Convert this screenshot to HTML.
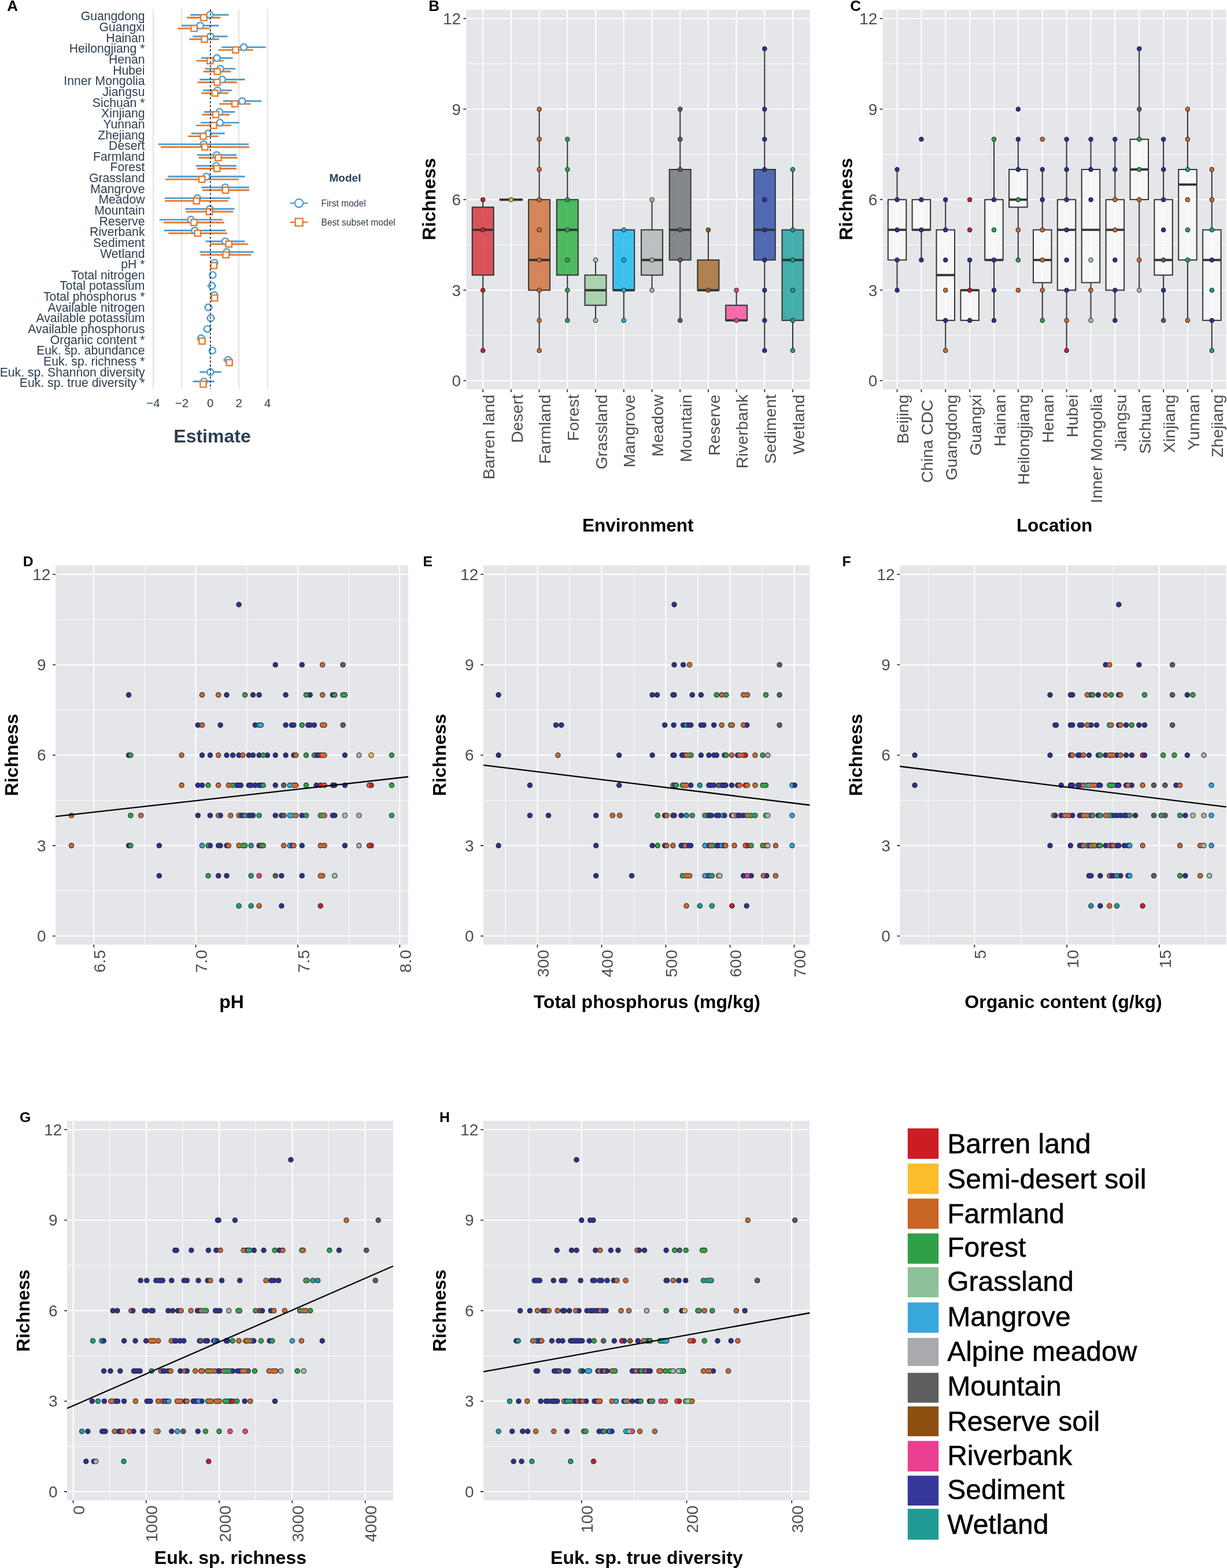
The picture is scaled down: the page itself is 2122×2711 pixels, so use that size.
<!DOCTYPE html>
<html lang="en"><head><meta charset="utf-8"><title>Figure</title>
<style>html,body{margin:0;padding:0;background:#fff}body{width:2122px;height:2711px;overflow:hidden}svg{display:block}text{font-family:"Liberation Sans", sans-serif}</style>
</head><body>
<svg width="2122" height="2711" viewBox="0 0 2122 2711" font-family='"Liberation Sans", sans-serif'>
<path d="M264.9 16V672.7M314.4 16V672.7M413.2 16V672.7M462.7 16V672.7" stroke="#dcdcdc" stroke-width="1.6" fill="none"/>
<text x="250.5" y="35.4" text-anchor="end" font-size="21.2" fill="#2c3e50">Guangdong</text>
<text x="250.5" y="54" text-anchor="end" font-size="21.2" fill="#2c3e50">Guangxi</text>
<text x="250.5" y="72.7" text-anchor="end" font-size="21.2" fill="#2c3e50">Hainan</text>
<text x="250.5" y="91.3" text-anchor="end" font-size="21.2" fill="#2c3e50">Heilongjiang *</text>
<text x="250.5" y="110" text-anchor="end" font-size="21.2" fill="#2c3e50">Henan</text>
<text x="250.5" y="128.6" text-anchor="end" font-size="21.2" fill="#2c3e50">Hubei</text>
<text x="250.5" y="147.2" text-anchor="end" font-size="21.2" fill="#2c3e50">Inner Mongolia</text>
<text x="250.5" y="165.9" text-anchor="end" font-size="21.2" fill="#2c3e50">Jiangsu</text>
<text x="250.5" y="184.5" text-anchor="end" font-size="21.2" fill="#2c3e50">Sichuan *</text>
<text x="250.5" y="203.2" text-anchor="end" font-size="21.2" fill="#2c3e50">Xinjiang</text>
<text x="250.5" y="221.8" text-anchor="end" font-size="21.2" fill="#2c3e50">Yunnan</text>
<text x="250.5" y="240.5" text-anchor="end" font-size="21.2" fill="#2c3e50">Zhejiang</text>
<text x="250.5" y="259.1" text-anchor="end" font-size="21.2" fill="#2c3e50">Desert</text>
<text x="250.5" y="277.7" text-anchor="end" font-size="21.2" fill="#2c3e50">Farmland</text>
<text x="250.5" y="296.4" text-anchor="end" font-size="21.2" fill="#2c3e50">Forest</text>
<text x="250.5" y="315" text-anchor="end" font-size="21.2" fill="#2c3e50">Grassland</text>
<text x="250.5" y="333.7" text-anchor="end" font-size="21.2" fill="#2c3e50">Mangrove</text>
<text x="250.5" y="352.3" text-anchor="end" font-size="21.2" fill="#2c3e50">Meadow</text>
<text x="250.5" y="370.9" text-anchor="end" font-size="21.2" fill="#2c3e50">Mountain</text>
<text x="250.5" y="389.6" text-anchor="end" font-size="21.2" fill="#2c3e50">Reserve</text>
<text x="250.5" y="408.2" text-anchor="end" font-size="21.2" fill="#2c3e50">Riverbank</text>
<text x="250.5" y="426.9" text-anchor="end" font-size="21.2" fill="#2c3e50">Sediment</text>
<text x="250.5" y="445.5" text-anchor="end" font-size="21.2" fill="#2c3e50">Wetland</text>
<text x="250.5" y="464.1" text-anchor="end" font-size="21.2" fill="#2c3e50">pH *</text>
<text x="250.5" y="482.8" text-anchor="end" font-size="21.2" fill="#2c3e50">Total nitrogen</text>
<text x="250.5" y="501.4" text-anchor="end" font-size="21.2" fill="#2c3e50">Total potassium</text>
<text x="250.5" y="520.1" text-anchor="end" font-size="21.2" fill="#2c3e50">Total phosphorus *</text>
<text x="250.5" y="538.7" text-anchor="end" font-size="21.2" fill="#2c3e50">Available nitrogen</text>
<text x="250.5" y="557.4" text-anchor="end" font-size="21.2" fill="#2c3e50">Available potassium</text>
<text x="250.5" y="576" text-anchor="end" font-size="21.2" fill="#2c3e50">Available phosphorus</text>
<text x="250.5" y="594.6" text-anchor="end" font-size="21.2" fill="#2c3e50">Organic content *</text>
<text x="250.5" y="613.3" text-anchor="end" font-size="21.2" fill="#2c3e50">Euk. sp. abundance</text>
<text x="250.5" y="631.9" text-anchor="end" font-size="21.2" fill="#2c3e50">Euk. sp. richness *</text>
<text x="250.5" y="650.6" text-anchor="end" font-size="21.2" fill="#2c3e50">Euk. sp. Shannon diversity</text>
<text x="250.5" y="669.2" text-anchor="end" font-size="21.2" fill="#2c3e50">Euk. sp. true diversity *</text>
<path d="M329.3 25.7H395.7" stroke="#4a9fd5" stroke-width="2.9"/>
<path d="M323.4 30.5H381.4" stroke="#e8792b" stroke-width="2.9"/>
<circle cx="362.9" cy="25.7" r="5.6" fill="#fff" stroke="#4a9fd5" stroke-width="2.4"/>
<rect x="347.3" y="25.4" width="10.2" height="10.2" fill="#fff" stroke="#e8792b" stroke-width="2.3"/>
<path d="M314 44.3H378.4" stroke="#4a9fd5" stroke-width="2.9"/>
<path d="M307.3 49.1H362.9" stroke="#e8792b" stroke-width="2.9"/>
<circle cx="346.2" cy="44.3" r="5.6" fill="#fff" stroke="#4a9fd5" stroke-width="2.4"/>
<rect x="330.6" y="44" width="10.2" height="10.2" fill="#fff" stroke="#e8792b" stroke-width="2.3"/>
<path d="M333.1 63H393.7" stroke="#4a9fd5" stroke-width="2.9"/>
<path d="M327.2 67.8H379" stroke="#e8792b" stroke-width="2.9"/>
<circle cx="363.8" cy="63" r="5.6" fill="#fff" stroke="#4a9fd5" stroke-width="2.4"/>
<rect x="348.5" y="62.7" width="10.2" height="10.2" fill="#fff" stroke="#e8792b" stroke-width="2.3"/>
<path d="M383.4 81.6H459.5" stroke="#4a9fd5" stroke-width="2.9"/>
<path d="M377.6 86.4H437.6" stroke="#e8792b" stroke-width="2.9"/>
<circle cx="421.5" cy="81.6" r="5.6" fill="#fff" stroke="#4a9fd5" stroke-width="2.4"/>
<rect x="402.3" y="81.3" width="10.2" height="10.2" fill="#fff" stroke="#e8792b" stroke-width="2.3"/>
<path d="M347.7 100.3H402.4" stroke="#4a9fd5" stroke-width="2.9"/>
<path d="M339.5 105.1H386.9" stroke="#e8792b" stroke-width="2.9"/>
<circle cx="375.2" cy="100.3" r="5.6" fill="#fff" stroke="#4a9fd5" stroke-width="2.4"/>
<rect x="358.1" y="100" width="10.2" height="10.2" fill="#fff" stroke="#e8792b" stroke-width="2.3"/>
<path d="M354.7 118.9H407.4" stroke="#4a9fd5" stroke-width="2.9"/>
<path d="M351.8 123.7H399.5" stroke="#e8792b" stroke-width="2.9"/>
<circle cx="381.1" cy="118.9" r="5.6" fill="#fff" stroke="#4a9fd5" stroke-width="2.4"/>
<rect x="370.7" y="118.6" width="10.2" height="10.2" fill="#fff" stroke="#e8792b" stroke-width="2.3"/>
<path d="M345.4 137.5H423.5" stroke="#4a9fd5" stroke-width="2.9"/>
<path d="M341.6 142.3H409.8" stroke="#e8792b" stroke-width="2.9"/>
<circle cx="384.3" cy="137.5" r="5.6" fill="#fff" stroke="#4a9fd5" stroke-width="2.4"/>
<rect x="370.4" y="137.2" width="10.2" height="10.2" fill="#fff" stroke="#e8792b" stroke-width="2.3"/>
<path d="M351.2 156.2H401" stroke="#4a9fd5" stroke-width="2.9"/>
<path d="M348.3 161H395.1" stroke="#e8792b" stroke-width="2.9"/>
<circle cx="376.1" cy="156.2" r="5.6" fill="#fff" stroke="#4a9fd5" stroke-width="2.4"/>
<rect x="366.6" y="155.9" width="10.2" height="10.2" fill="#fff" stroke="#e8792b" stroke-width="2.3"/>
<path d="M385.8 174.8H452.2" stroke="#4a9fd5" stroke-width="2.9"/>
<path d="M379 179.6H433.2" stroke="#e8792b" stroke-width="2.9"/>
<circle cx="418.8" cy="174.8" r="5.6" fill="#fff" stroke="#4a9fd5" stroke-width="2.4"/>
<rect x="401.1" y="174.5" width="10.2" height="10.2" fill="#fff" stroke="#e8792b" stroke-width="2.3"/>
<path d="M353.3 193.5H406.2" stroke="#4a9fd5" stroke-width="2.9"/>
<path d="M349.2 198.3H397.2" stroke="#e8792b" stroke-width="2.9"/>
<circle cx="379.6" cy="193.5" r="5.6" fill="#fff" stroke="#4a9fd5" stroke-width="2.4"/>
<rect x="368.1" y="193.2" width="10.2" height="10.2" fill="#fff" stroke="#e8792b" stroke-width="2.3"/>
<path d="M346.8 212.1H413.9" stroke="#4a9fd5" stroke-width="2.9"/>
<path d="M338.9 216.9H400.1" stroke="#e8792b" stroke-width="2.9"/>
<circle cx="380.5" cy="212.1" r="5.6" fill="#fff" stroke="#4a9fd5" stroke-width="2.4"/>
<rect x="364.3" y="211.8" width="10.2" height="10.2" fill="#fff" stroke="#e8792b" stroke-width="2.3"/>
<path d="M330.7 230.8H388.7" stroke="#4a9fd5" stroke-width="2.9"/>
<path d="M325.5 235.6H377.6" stroke="#e8792b" stroke-width="2.9"/>
<circle cx="359.7" cy="230.8" r="5.6" fill="#fff" stroke="#4a9fd5" stroke-width="2.4"/>
<rect x="346.4" y="230.5" width="10.2" height="10.2" fill="#fff" stroke="#e8792b" stroke-width="2.3"/>
<path d="M273.6 249.4H430.3" stroke="#4a9fd5" stroke-width="2.9"/>
<path d="M278 254.2H431.1" stroke="#e8792b" stroke-width="2.9"/>
<circle cx="352.1" cy="249.4" r="5.6" fill="#fff" stroke="#4a9fd5" stroke-width="2.4"/>
<rect x="349.3" y="249.1" width="10.2" height="10.2" fill="#fff" stroke="#e8792b" stroke-width="2.3"/>
<path d="M341 268H408.9" stroke="#4a9fd5" stroke-width="2.9"/>
<path d="M343.9 272.8H410.6" stroke="#e8792b" stroke-width="2.9"/>
<circle cx="374.6" cy="268" r="5.6" fill="#fff" stroke="#4a9fd5" stroke-width="2.4"/>
<rect x="372.5" y="267.7" width="10.2" height="10.2" fill="#fff" stroke="#e8792b" stroke-width="2.3"/>
<path d="M338.6 286.7H408.9" stroke="#4a9fd5" stroke-width="2.9"/>
<path d="M341 291.5H409.2" stroke="#e8792b" stroke-width="2.9"/>
<circle cx="373.8" cy="286.7" r="5.6" fill="#fff" stroke="#4a9fd5" stroke-width="2.4"/>
<rect x="370.1" y="286.4" width="10.2" height="10.2" fill="#fff" stroke="#e8792b" stroke-width="2.3"/>
<path d="M290.3 305.3H423.5" stroke="#4a9fd5" stroke-width="2.9"/>
<path d="M285.9 310.1H412.7" stroke="#e8792b" stroke-width="2.9"/>
<circle cx="357.1" cy="305.3" r="5.6" fill="#fff" stroke="#4a9fd5" stroke-width="2.4"/>
<rect x="344.1" y="305" width="10.2" height="10.2" fill="#fff" stroke="#e8792b" stroke-width="2.3"/>
<path d="M348.3 324H430.8" stroke="#4a9fd5" stroke-width="2.9"/>
<path d="M350.3 328.8H431.1" stroke="#e8792b" stroke-width="2.9"/>
<circle cx="389.3" cy="324" r="5.6" fill="#fff" stroke="#4a9fd5" stroke-width="2.4"/>
<rect x="385" y="323.7" width="10.2" height="10.2" fill="#fff" stroke="#e8792b" stroke-width="2.3"/>
<path d="M284.8 342.6H398.1" stroke="#4a9fd5" stroke-width="2.9"/>
<path d="M285.3 347.4H394.5" stroke="#e8792b" stroke-width="2.9"/>
<circle cx="341.3" cy="342.6" r="5.6" fill="#fff" stroke="#4a9fd5" stroke-width="2.4"/>
<rect x="334.7" y="342.3" width="10.2" height="10.2" fill="#fff" stroke="#e8792b" stroke-width="2.3"/>
<path d="M320.5 361.2H405.4" stroke="#4a9fd5" stroke-width="2.9"/>
<path d="M321.9 366H403" stroke="#e8792b" stroke-width="2.9"/>
<circle cx="362.9" cy="361.2" r="5.6" fill="#fff" stroke="#4a9fd5" stroke-width="2.4"/>
<rect x="356.9" y="360.9" width="10.2" height="10.2" fill="#fff" stroke="#e8792b" stroke-width="2.3"/>
<path d="M275.7 379.9H384.9" stroke="#4a9fd5" stroke-width="2.9"/>
<path d="M283 384.7H387.8" stroke="#e8792b" stroke-width="2.9"/>
<circle cx="330.1" cy="379.9" r="5.6" fill="#fff" stroke="#4a9fd5" stroke-width="2.4"/>
<rect x="330.3" y="379.6" width="10.2" height="10.2" fill="#fff" stroke="#e8792b" stroke-width="2.3"/>
<path d="M283.9 398.5H390.1" stroke="#4a9fd5" stroke-width="2.9"/>
<path d="M291.2 403.3H392.8" stroke="#e8792b" stroke-width="2.9"/>
<circle cx="336.9" cy="398.5" r="5.6" fill="#fff" stroke="#4a9fd5" stroke-width="2.4"/>
<rect x="336.7" y="398.2" width="10.2" height="10.2" fill="#fff" stroke="#e8792b" stroke-width="2.3"/>
<path d="M355.6 417.2H423.5" stroke="#4a9fd5" stroke-width="2.9"/>
<path d="M362.9 422H428.8" stroke="#e8792b" stroke-width="2.9"/>
<circle cx="389.6" cy="417.2" r="5.6" fill="#fff" stroke="#4a9fd5" stroke-width="2.4"/>
<rect x="390.6" y="416.9" width="10.2" height="10.2" fill="#fff" stroke="#e8792b" stroke-width="2.3"/>
<path d="M345.4 435.8H438.4" stroke="#4a9fd5" stroke-width="2.9"/>
<path d="M346.8 440.6H434.6" stroke="#e8792b" stroke-width="2.9"/>
<circle cx="391.9" cy="435.8" r="5.6" fill="#fff" stroke="#4a9fd5" stroke-width="2.4"/>
<rect x="385.6" y="435.5" width="10.2" height="10.2" fill="#fff" stroke="#e8792b" stroke-width="2.3"/>
<path d="M367.3 454.4H374.3" stroke="#4a9fd5" stroke-width="2.9"/>
<path d="M366.1 459.2H373.2" stroke="#e8792b" stroke-width="2.9"/>
<circle cx="370.8" cy="454.4" r="5.6" fill="#fff" stroke="#4a9fd5" stroke-width="2.4"/>
<rect x="364.6" y="454.1" width="10.2" height="10.2" fill="#fff" stroke="#e8792b" stroke-width="2.3"/>
<path d="M364.4 475.5H371.4" stroke="#4a9fd5" stroke-width="2.9"/>
<circle cx="367.9" cy="475.5" r="5.6" fill="#fff" stroke="#4a9fd5" stroke-width="2.4"/>
<path d="M358.5 494.1H374" stroke="#4a9fd5" stroke-width="2.9"/>
<circle cx="366.4" cy="494.1" r="5.6" fill="#fff" stroke="#4a9fd5" stroke-width="2.4"/>
<path d="M367 510.4H374" stroke="#4a9fd5" stroke-width="2.9"/>
<path d="M367.6 515.2H374.6" stroke="#e8792b" stroke-width="2.9"/>
<circle cx="370.5" cy="510.4" r="5.6" fill="#fff" stroke="#4a9fd5" stroke-width="2.4"/>
<rect x="366" y="510.1" width="10.2" height="10.2" fill="#fff" stroke="#e8792b" stroke-width="2.3"/>
<path d="M353.3 531.4H367.9" stroke="#4a9fd5" stroke-width="2.9"/>
<circle cx="360.3" cy="531.4" r="5.6" fill="#fff" stroke="#4a9fd5" stroke-width="2.4"/>
<path d="M357.1 550.1H371.7" stroke="#4a9fd5" stroke-width="2.9"/>
<circle cx="364.4" cy="550.1" r="5.6" fill="#fff" stroke="#4a9fd5" stroke-width="2.4"/>
<path d="M351.2 568.7H366.7" stroke="#4a9fd5" stroke-width="2.9"/>
<circle cx="358.5" cy="568.7" r="5.6" fill="#fff" stroke="#4a9fd5" stroke-width="2.4"/>
<path d="M341 584.9H354.7" stroke="#4a9fd5" stroke-width="2.9"/>
<path d="M343 589.7H355.9" stroke="#e8792b" stroke-width="2.9"/>
<circle cx="347.7" cy="584.9" r="5.6" fill="#fff" stroke="#4a9fd5" stroke-width="2.4"/>
<rect x="344.4" y="584.6" width="10.2" height="10.2" fill="#fff" stroke="#e8792b" stroke-width="2.3"/>
<path d="M363.8 606H370.8" stroke="#4a9fd5" stroke-width="2.9"/>
<circle cx="367.3" cy="606" r="5.6" fill="#fff" stroke="#4a9fd5" stroke-width="2.4"/>
<path d="M386.3 622.2H402.4" stroke="#4a9fd5" stroke-width="2.9"/>
<path d="M390.7 627H402.4" stroke="#e8792b" stroke-width="2.9"/>
<circle cx="394.5" cy="622.2" r="5.6" fill="#fff" stroke="#4a9fd5" stroke-width="2.4"/>
<rect x="391.5" y="621.9" width="10.2" height="10.2" fill="#fff" stroke="#e8792b" stroke-width="2.3"/>
<path d="M345.4 643.3H382.8" stroke="#4a9fd5" stroke-width="2.9"/>
<circle cx="363.8" cy="643.3" r="5.6" fill="#fff" stroke="#4a9fd5" stroke-width="2.4"/>
<path d="M333.6 659.5H370.8" stroke="#4a9fd5" stroke-width="2.9"/>
<path d="M345.4 664.3H357.7" stroke="#e8792b" stroke-width="2.9"/>
<circle cx="352.7" cy="659.5" r="5.6" fill="#fff" stroke="#4a9fd5" stroke-width="2.4"/>
<rect x="346.4" y="659.2" width="10.2" height="10.2" fill="#fff" stroke="#e8792b" stroke-width="2.3"/>
<path d="M363.8 16V672.7" stroke="#111" stroke-width="1.5" stroke-dasharray="3.9 3" fill="none"/>
<text x="264.9" y="704.3" text-anchor="middle" font-size="20.5" fill="#2c3e50">−4</text>
<text x="314.4" y="704.3" text-anchor="middle" font-size="20.5" fill="#2c3e50">−2</text>
<text x="363.8" y="704.3" text-anchor="middle" font-size="20.5" fill="#2c3e50">0</text>
<text x="413.2" y="704.3" text-anchor="middle" font-size="20.5" fill="#2c3e50">2</text>
<text x="462.7" y="704.3" text-anchor="middle" font-size="20.5" fill="#2c3e50">4</text>
<text x="367" y="765" text-anchor="middle" font-size="32" font-weight="bold" fill="#2c3e50">Estimate</text>
<text x="597" y="314.3" text-anchor="middle" font-size="19" font-weight="bold" fill="#2c3e50">Model</text>
<path d="M501.6 351.3H532.7" stroke="#4a9fd5" stroke-width="2.3"/>
<circle cx="517.1" cy="351.3" r="7.2" fill="#fff" stroke="#4a9fd5" stroke-width="2.3"/>
<path d="M501.6 384.2H532.7" stroke="#e8792b" stroke-width="2.3"/>
<rect x="510.6" y="377.7" width="13" height="13" fill="#fff" stroke="#e8792b" stroke-width="2.3"/>
<text x="555.5" y="357" font-size="15.6" fill="#2c3e50">First model</text>
<text x="555.5" y="389.8" font-size="15.6" fill="#2c3e50">Best subset model</text>
<text x="12.2" y="18.7" font-size="26" font-weight="bold" fill="#000">A</text>
<rect x="806.3" y="16.6" width="594.7" height="656.5" fill="#e4e6e9"/>
<path d="M806.3 579.9H1401M806.3 423.4H1401M806.3 266.9H1401M806.3 110.4H1401" stroke="#fbfcfc" stroke-width="1.15" fill="none"/>
<path d="M835.2 16.6V673.1M883.9 16.6V673.1M932.6 16.6V673.1M981.3 16.6V673.1M1030 16.6V673.1M1078.8 16.6V673.1M1127.5 16.6V673.1M1176.2 16.6V673.1M1224.9 16.6V673.1M1273.6 16.6V673.1M1322.3 16.6V673.1M1371 16.6V673.1M806.3 658.2H1401M806.3 501.7H1401M806.3 345.2H1401M806.3 188.7H1401M806.3 32.2H1401" stroke="#ffffff" stroke-width="2" fill="none"/>
<path d="M835.2 345.2V358.2M835.2 475.6V606" stroke="#333" stroke-width="2" fill="none"/>
<rect x="816.7" y="358.2" width="37" height="117.4" fill="#d63a3f" fill-opacity="0.85" stroke="#333" stroke-width="2"/>
<path d="M816.7 397.4H853.7" stroke="#333" stroke-width="3.9" fill="none"/>
<path d="M865.4 345.2H902.4" stroke="#333" stroke-width="4" stroke-linecap="round" fill="none"/>
<path d="M932.6 188.7V345.2M932.6 501.7V606" stroke="#333" stroke-width="2" fill="none"/>
<rect x="914.1" y="345.2" width="37" height="156.5" fill="#cf7440" fill-opacity="0.85" stroke="#333" stroke-width="2"/>
<path d="M914.1 449.5H951.1" stroke="#333" stroke-width="3.9" fill="none"/>
<path d="M981.3 240.8V345.2M981.3 475.6V553.9" stroke="#333" stroke-width="2" fill="none"/>
<rect x="962.8" y="345.2" width="37" height="130.4" fill="#33b048" fill-opacity="0.85" stroke="#333" stroke-width="2"/>
<path d="M962.8 397.4H999.8" stroke="#333" stroke-width="3.9" fill="none"/>
<path d="M1030 449.5V475.6M1030 527.8V553.9" stroke="#333" stroke-width="2" fill="none"/>
<rect x="1011.5" y="475.6" width="37" height="52.2" fill="#9fcfa3" fill-opacity="0.85" stroke="#333" stroke-width="2"/>
<path d="M1011.5 501.7H1048.5" stroke="#333" stroke-width="3.9" fill="none"/>
<path d="M1078.8 397.4V397.4M1078.8 501.7V553.9" stroke="#333" stroke-width="2" fill="none"/>
<rect x="1060.2" y="397.4" width="37" height="104.3" fill="#1fbaf0" fill-opacity="0.85" stroke="#333" stroke-width="2"/>
<path d="M1060.2 501.7H1097.2" stroke="#333" stroke-width="3.9" fill="none"/>
<path d="M1127.5 345.2V397.4M1127.5 475.6V501.7" stroke="#333" stroke-width="2" fill="none"/>
<rect x="1109" y="397.4" width="37" height="78.3" fill="#b3b7b9" fill-opacity="0.85" stroke="#333" stroke-width="2"/>
<path d="M1109 449.5H1146" stroke="#333" stroke-width="3.9" fill="none"/>
<path d="M1176.2 188.7V293M1176.2 449.5V553.9" stroke="#333" stroke-width="2" fill="none"/>
<rect x="1157.7" y="293" width="37" height="156.5" fill="#737779" fill-opacity="0.85" stroke="#333" stroke-width="2"/>
<path d="M1157.7 397.4H1194.7" stroke="#333" stroke-width="3.9" fill="none"/>
<path d="M1224.9 397.4V449.5M1224.9 501.7V501.7" stroke="#333" stroke-width="2" fill="none"/>
<rect x="1206.4" y="449.5" width="37" height="52.2" fill="#a66f33" fill-opacity="0.85" stroke="#333" stroke-width="2"/>
<path d="M1206.4 501.7H1243.4" stroke="#333" stroke-width="3.9" fill="none"/>
<path d="M1273.6 501.7V527.8M1273.6 553.9V553.9" stroke="#333" stroke-width="2" fill="none"/>
<rect x="1255.1" y="527.8" width="37" height="26.1" fill="#f955a1" fill-opacity="0.85" stroke="#333" stroke-width="2"/>
<path d="M1255.1 553.9H1292.1" stroke="#333" stroke-width="3.9" fill="none"/>
<path d="M1322.3 84.3V293M1322.3 449.5V606" stroke="#333" stroke-width="2" fill="none"/>
<rect x="1303.8" y="293" width="37" height="156.5" fill="#3552a8" fill-opacity="0.85" stroke="#333" stroke-width="2"/>
<path d="M1303.8 397.4H1340.8" stroke="#333" stroke-width="3.9" fill="none"/>
<path d="M1371 293V397.4M1371 553.9V606" stroke="#333" stroke-width="2" fill="none"/>
<rect x="1352.5" y="397.4" width="37" height="156.5" fill="#27a3a0" fill-opacity="0.85" stroke="#333" stroke-width="2"/>
<path d="M1352.5 449.5H1389.5" stroke="#333" stroke-width="3.9" fill="none"/>
<g fill="#1e1e1e"><circle cx="835.2" cy="606" r="4.25"/><circle cx="835.2" cy="501.7" r="4.25"/><circle cx="835.2" cy="397.4" r="4.25"/><circle cx="835.2" cy="345.2" r="4.25"/><circle cx="883.9" cy="345.2" r="4.25"/><circle cx="932.6" cy="606" r="4.25"/><circle cx="932.6" cy="553.9" r="4.25"/><circle cx="932.6" cy="501.7" r="4.25"/><circle cx="932.6" cy="449.5" r="4.25"/><circle cx="932.6" cy="397.4" r="4.25"/><circle cx="932.6" cy="345.2" r="4.25"/><circle cx="932.6" cy="293" r="4.25"/><circle cx="932.6" cy="240.8" r="4.25"/><circle cx="932.6" cy="188.7" r="4.25"/><circle cx="981.3" cy="553.9" r="4.25"/><circle cx="981.3" cy="501.7" r="4.25"/><circle cx="981.3" cy="449.5" r="4.25"/><circle cx="981.3" cy="397.4" r="4.25"/><circle cx="981.3" cy="345.2" r="4.25"/><circle cx="981.3" cy="293" r="4.25"/><circle cx="981.3" cy="240.8" r="4.25"/><circle cx="1030" cy="553.9" r="4.25"/><circle cx="1030" cy="449.5" r="4.25"/><circle cx="1078.8" cy="553.9" r="4.25"/><circle cx="1078.8" cy="501.7" r="4.25"/><circle cx="1078.8" cy="449.5" r="4.25"/><circle cx="1078.8" cy="397.4" r="4.25"/><circle cx="1127.5" cy="501.7" r="4.25"/><circle cx="1127.5" cy="449.5" r="4.25"/><circle cx="1127.5" cy="345.2" r="4.25"/><circle cx="1176.2" cy="553.9" r="4.25"/><circle cx="1176.2" cy="449.5" r="4.25"/><circle cx="1176.2" cy="397.4" r="4.25"/><circle cx="1176.2" cy="293" r="4.25"/><circle cx="1176.2" cy="240.8" r="4.25"/><circle cx="1176.2" cy="188.7" r="4.25"/><circle cx="1224.9" cy="501.7" r="4.25"/><circle cx="1224.9" cy="397.4" r="4.25"/><circle cx="1273.6" cy="553.9" r="4.25"/><circle cx="1273.6" cy="501.7" r="4.25"/><circle cx="1322.3" cy="606" r="4.25"/><circle cx="1322.3" cy="553.9" r="4.25"/><circle cx="1322.3" cy="501.7" r="4.25"/><circle cx="1322.3" cy="449.5" r="4.25"/><circle cx="1322.3" cy="397.4" r="4.25"/><circle cx="1322.3" cy="345.2" r="4.25"/><circle cx="1322.3" cy="293" r="4.25"/><circle cx="1322.3" cy="240.8" r="4.25"/><circle cx="1322.3" cy="188.7" r="4.25"/><circle cx="1322.3" cy="84.3" r="4.25"/><circle cx="1371" cy="606" r="4.25"/><circle cx="1371" cy="553.9" r="4.25"/><circle cx="1371" cy="501.7" r="4.25"/><circle cx="1371" cy="449.5" r="4.25"/><circle cx="1371" cy="397.4" r="4.25"/><circle cx="1371" cy="293" r="4.25"/></g>
<g><circle cx="835.2" cy="606" r="3.2" fill="#d01c2a"/><circle cx="835.2" cy="501.7" r="3.2" fill="#d01c2a"/><circle cx="835.2" cy="397.4" r="3.2" fill="#d01c2a"/><circle cx="835.2" cy="345.2" r="3.2" fill="#d01c2a"/><circle cx="883.9" cy="345.2" r="3.2" fill="#fbc02d"/><circle cx="932.6" cy="606" r="3.2" fill="#d2692e"/><circle cx="932.6" cy="553.9" r="3.2" fill="#d2692e"/><circle cx="932.6" cy="501.7" r="3.2" fill="#d2692e"/><circle cx="932.6" cy="449.5" r="3.2" fill="#d2692e"/><circle cx="932.6" cy="397.4" r="3.2" fill="#d2692e"/><circle cx="932.6" cy="345.2" r="3.2" fill="#d2692e"/><circle cx="932.6" cy="293" r="3.2" fill="#d2692e"/><circle cx="932.6" cy="240.8" r="3.2" fill="#d2692e"/><circle cx="932.6" cy="188.7" r="3.2" fill="#d2692e"/><circle cx="981.3" cy="553.9" r="3.2" fill="#2fa44f"/><circle cx="981.3" cy="501.7" r="3.2" fill="#2fa44f"/><circle cx="981.3" cy="449.5" r="3.2" fill="#2fa44f"/><circle cx="981.3" cy="397.4" r="3.2" fill="#2fa44f"/><circle cx="981.3" cy="345.2" r="3.2" fill="#2fa44f"/><circle cx="981.3" cy="293" r="3.2" fill="#2fa44f"/><circle cx="981.3" cy="240.8" r="3.2" fill="#2fa44f"/><circle cx="1030" cy="553.9" r="3.2" fill="#9ccba4"/><circle cx="1030" cy="449.5" r="3.2" fill="#9ccba4"/><circle cx="1078.8" cy="553.9" r="3.2" fill="#29abe2"/><circle cx="1078.8" cy="501.7" r="3.2" fill="#29abe2"/><circle cx="1078.8" cy="449.5" r="3.2" fill="#29abe2"/><circle cx="1078.8" cy="397.4" r="3.2" fill="#29abe2"/><circle cx="1127.5" cy="501.7" r="3.2" fill="#aeb3b5"/><circle cx="1127.5" cy="449.5" r="3.2" fill="#aeb3b5"/><circle cx="1127.5" cy="345.2" r="3.2" fill="#aeb3b5"/><circle cx="1176.2" cy="553.9" r="3.2" fill="#5b5f62"/><circle cx="1176.2" cy="449.5" r="3.2" fill="#5b5f62"/><circle cx="1176.2" cy="397.4" r="3.2" fill="#5b5f62"/><circle cx="1176.2" cy="293" r="3.2" fill="#5b5f62"/><circle cx="1176.2" cy="240.8" r="3.2" fill="#5b5f62"/><circle cx="1176.2" cy="188.7" r="3.2" fill="#5b5f62"/><circle cx="1224.9" cy="501.7" r="3.2" fill="#9a5a18"/><circle cx="1224.9" cy="397.4" r="3.2" fill="#9a5a18"/><circle cx="1273.6" cy="553.9" r="3.2" fill="#ec3f94"/><circle cx="1273.6" cy="501.7" r="3.2" fill="#ec3f94"/><circle cx="1322.3" cy="606" r="3.2" fill="#2e3192"/><circle cx="1322.3" cy="553.9" r="3.2" fill="#2e3192"/><circle cx="1322.3" cy="501.7" r="3.2" fill="#2e3192"/><circle cx="1322.3" cy="449.5" r="3.2" fill="#2e3192"/><circle cx="1322.3" cy="397.4" r="3.2" fill="#2e3192"/><circle cx="1322.3" cy="345.2" r="3.2" fill="#2e3192"/><circle cx="1322.3" cy="293" r="3.2" fill="#2e3192"/><circle cx="1322.3" cy="240.8" r="3.2" fill="#2e3192"/><circle cx="1322.3" cy="188.7" r="3.2" fill="#2e3192"/><circle cx="1322.3" cy="84.3" r="3.2" fill="#2e3192"/><circle cx="1371" cy="606" r="3.2" fill="#1f9c98"/><circle cx="1371" cy="553.9" r="3.2" fill="#1f9c98"/><circle cx="1371" cy="501.7" r="3.2" fill="#1f9c98"/><circle cx="1371" cy="449.5" r="3.2" fill="#1f9c98"/><circle cx="1371" cy="397.4" r="3.2" fill="#1f9c98"/><circle cx="1371" cy="293" r="3.2" fill="#1f9c98"/></g>
<text x="797.1" y="668.4" text-anchor="end" font-size="28" fill="#4d4d4d">0</text>
<text x="797.1" y="511.9" text-anchor="end" font-size="28" fill="#4d4d4d">3</text>
<text x="797.1" y="355.4" text-anchor="end" font-size="28" fill="#4d4d4d">6</text>
<text x="797.1" y="198.9" text-anchor="end" font-size="28" fill="#4d4d4d">9</text>
<text x="797.1" y="42.4" text-anchor="end" font-size="28" fill="#4d4d4d">12</text>
<path d="M801.4 658.2H806.3M801.4 501.7H806.3M801.4 345.2H806.3M801.4 188.7H806.3M801.4 32.2H806.3" stroke="#333" stroke-width="1.8" fill="none"/>
<text transform="translate(854.8,682.1) rotate(-90)" text-anchor="end" font-size="28.4" fill="#4d4d4d">Barren land</text>
<text transform="translate(903.5,682.1) rotate(-90)" text-anchor="end" font-size="28.4" fill="#4d4d4d">Desert</text>
<text transform="translate(952.2,682.1) rotate(-90)" text-anchor="end" font-size="28.4" fill="#4d4d4d">Farmland</text>
<text transform="translate(1000.9,682.1) rotate(-90)" text-anchor="end" font-size="28.4" fill="#4d4d4d">Forest</text>
<text transform="translate(1049.6,682.1) rotate(-90)" text-anchor="end" font-size="28.4" fill="#4d4d4d">Grassland</text>
<text transform="translate(1098.3,682.1) rotate(-90)" text-anchor="end" font-size="28.4" fill="#4d4d4d">Mangrove</text>
<text transform="translate(1147.1,682.1) rotate(-90)" text-anchor="end" font-size="28.4" fill="#4d4d4d">Meadow</text>
<text transform="translate(1195.8,682.1) rotate(-90)" text-anchor="end" font-size="28.4" fill="#4d4d4d">Mountain</text>
<text transform="translate(1244.5,682.1) rotate(-90)" text-anchor="end" font-size="28.4" fill="#4d4d4d">Reserve</text>
<text transform="translate(1293.2,682.1) rotate(-90)" text-anchor="end" font-size="28.4" fill="#4d4d4d">Riverbank</text>
<text transform="translate(1341.9,682.1) rotate(-90)" text-anchor="end" font-size="28.4" fill="#4d4d4d">Sediment</text>
<text transform="translate(1390.6,682.1) rotate(-90)" text-anchor="end" font-size="28.4" fill="#4d4d4d">Wetland</text>
<path d="M835.2 673.1V678M883.9 673.1V678M932.6 673.1V678M981.3 673.1V678M1030 673.1V678M1078.8 673.1V678M1127.5 673.1V678M1176.2 673.1V678M1224.9 673.1V678M1273.6 673.1V678M1322.3 673.1V678M1371 673.1V678" stroke="#333" stroke-width="1.8" fill="none"/>
<text transform="translate(753.4,344.4) rotate(-90)" text-anchor="middle" font-size="32" font-weight="bold" fill="#000">Richness</text>
<text x="1103.3" y="919.4" text-anchor="middle" font-size="31.5" font-weight="bold" fill="#000">Environment</text>
<text x="741.3" y="18.7" font-size="26" font-weight="bold" fill="#000">B</text>
<rect x="1526.6" y="16.6" width="594.1" height="656.5" fill="#e4e6e9"/>
<path d="M1526.6 579.9H2120.7M1526.6 423.4H2120.7M1526.6 266.9H2120.7M1526.6 110.4H2120.7" stroke="#fbfcfc" stroke-width="1.15" fill="none"/>
<path d="M1551.5 16.6V673.1M1593.4 16.6V673.1M1635.2 16.6V673.1M1677.1 16.6V673.1M1719 16.6V673.1M1760.8 16.6V673.1M1802.7 16.6V673.1M1844.6 16.6V673.1M1886.5 16.6V673.1M1928.3 16.6V673.1M1970.2 16.6V673.1M2012.1 16.6V673.1M2053.9 16.6V673.1M2095.8 16.6V673.1M1526.6 658.2H2120.7M1526.6 501.7H2120.7M1526.6 345.2H2120.7M1526.6 188.7H2120.7M1526.6 32.2H2120.7" stroke="#ffffff" stroke-width="2" fill="none"/>
<path d="M1551.5 293V345.2M1551.5 449.5V501.7" stroke="#333" stroke-width="2" fill="none"/>
<rect x="1535.8" y="345.2" width="31.5" height="104.3" fill="#ffffff" fill-opacity="0.62" stroke="#333" stroke-width="2"/>
<path d="M1535.8 397.4H1567.2" stroke="#333" stroke-width="3.9" fill="none"/>
<path d="M1593.4 345.2V345.2M1593.4 397.4V449.5" stroke="#333" stroke-width="2" fill="none"/>
<rect x="1577.6" y="345.2" width="31.5" height="52.2" fill="#ffffff" fill-opacity="0.62" stroke="#333" stroke-width="2"/>
<path d="M1577.6 397.4H1609.1" stroke="#333" stroke-width="3.9" fill="none"/>
<path d="M1635.2 345.2V397.4M1635.2 553.9V606" stroke="#333" stroke-width="2" fill="none"/>
<rect x="1619.5" y="397.4" width="31.5" height="156.5" fill="#ffffff" fill-opacity="0.62" stroke="#333" stroke-width="2"/>
<path d="M1619.5 475.6H1651" stroke="#333" stroke-width="3.9" fill="none"/>
<path d="M1677.1 449.5V501.7M1677.1 553.9V553.9" stroke="#333" stroke-width="2" fill="none"/>
<rect x="1661.4" y="501.7" width="31.5" height="52.2" fill="#ffffff" fill-opacity="0.62" stroke="#333" stroke-width="2"/>
<path d="M1661.4 501.7H1692.9" stroke="#333" stroke-width="3.9" fill="none"/>
<path d="M1719 240.8V345.2M1719 449.5V553.9" stroke="#333" stroke-width="2" fill="none"/>
<rect x="1703.2" y="345.2" width="31.5" height="104.3" fill="#ffffff" fill-opacity="0.62" stroke="#333" stroke-width="2"/>
<path d="M1703.2 449.5H1734.7" stroke="#333" stroke-width="3.9" fill="none"/>
<path d="M1760.8 240.8V293M1760.8 358.2V449.5" stroke="#333" stroke-width="2" fill="none"/>
<rect x="1745.1" y="293" width="31.5" height="65.2" fill="#ffffff" fill-opacity="0.62" stroke="#333" stroke-width="2"/>
<path d="M1745.1 345.2H1776.6" stroke="#333" stroke-width="3.9" fill="none"/>
<path d="M1802.7 293V397.4M1802.7 488.6V553.9" stroke="#333" stroke-width="2" fill="none"/>
<rect x="1787" y="397.4" width="31.5" height="91.3" fill="#ffffff" fill-opacity="0.62" stroke="#333" stroke-width="2"/>
<path d="M1787 449.5H1818.5" stroke="#333" stroke-width="3.9" fill="none"/>
<path d="M1844.6 240.8V345.2M1844.6 501.7V606" stroke="#333" stroke-width="2" fill="none"/>
<rect x="1828.8" y="345.2" width="31.5" height="156.5" fill="#ffffff" fill-opacity="0.62" stroke="#333" stroke-width="2"/>
<path d="M1828.8 397.4H1860.3" stroke="#333" stroke-width="3.9" fill="none"/>
<path d="M1886.5 240.8V293M1886.5 488.6V553.9" stroke="#333" stroke-width="2" fill="none"/>
<rect x="1870.7" y="293" width="31.5" height="195.6" fill="#ffffff" fill-opacity="0.62" stroke="#333" stroke-width="2"/>
<path d="M1870.7 397.4H1902.2" stroke="#333" stroke-width="3.9" fill="none"/>
<path d="M1928.3 240.8V345.2M1928.3 501.7V553.9" stroke="#333" stroke-width="2" fill="none"/>
<rect x="1912.6" y="345.2" width="31.5" height="156.5" fill="#ffffff" fill-opacity="0.62" stroke="#333" stroke-width="2"/>
<path d="M1912.6 397.4H1944.1" stroke="#333" stroke-width="3.9" fill="none"/>
<path d="M1970.2 84.3V240.8M1970.2 345.2V501.7" stroke="#333" stroke-width="2" fill="none"/>
<rect x="1954.5" y="240.8" width="31.5" height="104.3" fill="#ffffff" fill-opacity="0.62" stroke="#333" stroke-width="2"/>
<path d="M1954.5 293H1986" stroke="#333" stroke-width="3.9" fill="none"/>
<path d="M2012.1 240.8V345.2M2012.1 475.6V553.9" stroke="#333" stroke-width="2" fill="none"/>
<rect x="1996.3" y="345.2" width="31.5" height="130.4" fill="#ffffff" fill-opacity="0.62" stroke="#333" stroke-width="2"/>
<path d="M1996.3 449.5H2027.8" stroke="#333" stroke-width="3.9" fill="none"/>
<path d="M2053.9 188.7V293M2053.9 449.5V553.9" stroke="#333" stroke-width="2" fill="none"/>
<rect x="2038.2" y="293" width="31.5" height="156.5" fill="#ffffff" fill-opacity="0.62" stroke="#333" stroke-width="2"/>
<path d="M2038.2 319.1H2069.7" stroke="#333" stroke-width="3.9" fill="none"/>
<path d="M2095.8 293V397.4M2095.8 553.9V606" stroke="#333" stroke-width="2" fill="none"/>
<rect x="2080.1" y="397.4" width="31.5" height="156.5" fill="#ffffff" fill-opacity="0.62" stroke="#333" stroke-width="2"/>
<path d="M2080.1 449.5H2111.6" stroke="#333" stroke-width="3.9" fill="none"/>
<g fill="#1e1e1e"><circle cx="1551.5" cy="501.7" r="4.25"/><circle cx="1551.5" cy="449.5" r="4.25"/><circle cx="1551.5" cy="397.4" r="4.25"/><circle cx="1551.5" cy="345.2" r="4.25"/><circle cx="1551.5" cy="293" r="4.25"/><circle cx="1593.4" cy="449.5" r="4.25"/><circle cx="1593.4" cy="397.4" r="4.25"/><circle cx="1593.4" cy="345.2" r="4.25"/><circle cx="1593.4" cy="240.8" r="4.25"/><circle cx="1635.2" cy="606" r="4.25"/><circle cx="1635.2" cy="553.9" r="4.25"/><circle cx="1635.2" cy="501.7" r="4.25"/><circle cx="1635.2" cy="449.5" r="4.25"/><circle cx="1635.2" cy="397.4" r="4.25"/><circle cx="1635.2" cy="345.2" r="4.25"/><circle cx="1677.1" cy="553.9" r="4.25"/><circle cx="1677.1" cy="501.7" r="4.25"/><circle cx="1677.1" cy="449.5" r="4.25"/><circle cx="1677.1" cy="397.4" r="4.25"/><circle cx="1677.1" cy="345.2" r="4.25"/><circle cx="1719" cy="553.9" r="4.25"/><circle cx="1719" cy="501.7" r="4.25"/><circle cx="1719" cy="449.5" r="4.25"/><circle cx="1719" cy="397.4" r="4.25"/><circle cx="1719" cy="345.2" r="4.25"/><circle cx="1719" cy="240.8" r="4.25"/><circle cx="1760.8" cy="501.7" r="4.25"/><circle cx="1760.8" cy="449.5" r="4.25"/><circle cx="1760.8" cy="397.4" r="4.25"/><circle cx="1760.8" cy="345.2" r="4.25"/><circle cx="1760.8" cy="293" r="4.25"/><circle cx="1760.8" cy="240.8" r="4.25"/><circle cx="1760.8" cy="188.7" r="4.25"/><circle cx="1802.7" cy="553.9" r="4.25"/><circle cx="1802.7" cy="501.7" r="4.25"/><circle cx="1802.7" cy="449.5" r="4.25"/><circle cx="1802.7" cy="397.4" r="4.25"/><circle cx="1802.7" cy="345.2" r="4.25"/><circle cx="1802.7" cy="293" r="4.25"/><circle cx="1802.7" cy="240.8" r="4.25"/><circle cx="1844.6" cy="606" r="4.25"/><circle cx="1844.6" cy="553.9" r="4.25"/><circle cx="1844.6" cy="501.7" r="4.25"/><circle cx="1844.6" cy="449.5" r="4.25"/><circle cx="1844.6" cy="397.4" r="4.25"/><circle cx="1844.6" cy="345.2" r="4.25"/><circle cx="1844.6" cy="293" r="4.25"/><circle cx="1844.6" cy="240.8" r="4.25"/><circle cx="1886.5" cy="553.9" r="4.25"/><circle cx="1886.5" cy="501.7" r="4.25"/><circle cx="1886.5" cy="449.5" r="4.25"/><circle cx="1886.5" cy="345.2" r="4.25"/><circle cx="1886.5" cy="293" r="4.25"/><circle cx="1886.5" cy="240.8" r="4.25"/><circle cx="1928.3" cy="553.9" r="4.25"/><circle cx="1928.3" cy="501.7" r="4.25"/><circle cx="1928.3" cy="449.5" r="4.25"/><circle cx="1928.3" cy="397.4" r="4.25"/><circle cx="1928.3" cy="345.2" r="4.25"/><circle cx="1928.3" cy="293" r="4.25"/><circle cx="1928.3" cy="240.8" r="4.25"/><circle cx="1970.2" cy="501.7" r="4.25"/><circle cx="1970.2" cy="449.5" r="4.25"/><circle cx="1970.2" cy="345.2" r="4.25"/><circle cx="1970.2" cy="293" r="4.25"/><circle cx="1970.2" cy="240.8" r="4.25"/><circle cx="1970.2" cy="188.7" r="4.25"/><circle cx="1970.2" cy="84.3" r="4.25"/><circle cx="2012.1" cy="553.9" r="4.25"/><circle cx="2012.1" cy="501.7" r="4.25"/><circle cx="2012.1" cy="449.5" r="4.25"/><circle cx="2012.1" cy="397.4" r="4.25"/><circle cx="2012.1" cy="345.2" r="4.25"/><circle cx="2012.1" cy="293" r="4.25"/><circle cx="2012.1" cy="240.8" r="4.25"/><circle cx="2053.9" cy="553.9" r="4.25"/><circle cx="2053.9" cy="449.5" r="4.25"/><circle cx="2053.9" cy="397.4" r="4.25"/><circle cx="2053.9" cy="345.2" r="4.25"/><circle cx="2053.9" cy="293" r="4.25"/><circle cx="2053.9" cy="240.8" r="4.25"/><circle cx="2053.9" cy="188.7" r="4.25"/><circle cx="2095.8" cy="606" r="4.25"/><circle cx="2095.8" cy="553.9" r="4.25"/><circle cx="2095.8" cy="501.7" r="4.25"/><circle cx="2095.8" cy="449.5" r="4.25"/><circle cx="2095.8" cy="397.4" r="4.25"/><circle cx="2095.8" cy="345.2" r="4.25"/><circle cx="2095.8" cy="293" r="4.25"/></g>
<g><circle cx="1551.5" cy="501.7" r="3.2" fill="#2e3192"/><circle cx="1551.5" cy="449.5" r="3.2" fill="#2e3192"/><circle cx="1551.5" cy="397.4" r="3.2" fill="#2e3192"/><circle cx="1551.5" cy="345.2" r="3.2" fill="#2e3192"/><circle cx="1551.5" cy="293" r="3.2" fill="#2e3192"/><circle cx="1593.4" cy="449.5" r="3.2" fill="#2e3192"/><circle cx="1593.4" cy="397.4" r="3.2" fill="#2e3192"/><circle cx="1593.4" cy="345.2" r="3.2" fill="#2e3192"/><circle cx="1593.4" cy="240.8" r="3.2" fill="#2e3192"/><circle cx="1635.2" cy="606" r="3.2" fill="#d2692e"/><circle cx="1635.2" cy="553.9" r="3.2" fill="#2e3192"/><circle cx="1635.2" cy="501.7" r="3.2" fill="#d2692e"/><circle cx="1635.2" cy="449.5" r="3.2" fill="#2e3192"/><circle cx="1635.2" cy="397.4" r="3.2" fill="#2e3192"/><circle cx="1635.2" cy="345.2" r="3.2" fill="#2e3192"/><circle cx="1677.1" cy="553.9" r="3.2" fill="#2e3192"/><circle cx="1677.1" cy="501.7" r="3.2" fill="#d01c2a"/><circle cx="1677.1" cy="449.5" r="3.2" fill="#2e3192"/><circle cx="1677.1" cy="397.4" r="3.2" fill="#d01c2a"/><circle cx="1677.1" cy="345.2" r="3.2" fill="#d01c2a"/><circle cx="1719" cy="553.9" r="3.2" fill="#2e3192"/><circle cx="1719" cy="501.7" r="3.2" fill="#2e3192"/><circle cx="1719" cy="449.5" r="3.2" fill="#2e3192"/><circle cx="1719" cy="397.4" r="3.2" fill="#2fa44f"/><circle cx="1719" cy="345.2" r="3.2" fill="#2e3192"/><circle cx="1719" cy="240.8" r="3.2" fill="#2fa44f"/><circle cx="1760.8" cy="501.7" r="3.2" fill="#d2692e"/><circle cx="1760.8" cy="449.5" r="3.2" fill="#2fa44f"/><circle cx="1760.8" cy="397.4" r="3.2" fill="#d2692e"/><circle cx="1760.8" cy="345.2" r="3.2" fill="#2fa44f"/><circle cx="1760.8" cy="293" r="3.2" fill="#2e3192"/><circle cx="1760.8" cy="240.8" r="3.2" fill="#2e3192"/><circle cx="1760.8" cy="188.7" r="3.2" fill="#2e3192"/><circle cx="1802.7" cy="553.9" r="3.2" fill="#2fa44f"/><circle cx="1802.7" cy="501.7" r="3.2" fill="#d2692e"/><circle cx="1802.7" cy="449.5" r="3.2" fill="#d2692e"/><circle cx="1802.7" cy="397.4" r="3.2" fill="#d2692e"/><circle cx="1802.7" cy="345.2" r="3.2" fill="#2e3192"/><circle cx="1802.7" cy="293" r="3.2" fill="#2e3192"/><circle cx="1802.7" cy="240.8" r="3.2" fill="#d2692e"/><circle cx="1844.6" cy="606" r="3.2" fill="#d01c2a"/><circle cx="1844.6" cy="553.9" r="3.2" fill="#d2692e"/><circle cx="1844.6" cy="501.7" r="3.2" fill="#2e3192"/><circle cx="1844.6" cy="449.5" r="3.2" fill="#2e3192"/><circle cx="1844.6" cy="397.4" r="3.2" fill="#2e3192"/><circle cx="1844.6" cy="345.2" r="3.2" fill="#2e3192"/><circle cx="1844.6" cy="293" r="3.2" fill="#2e3192"/><circle cx="1844.6" cy="240.8" r="3.2" fill="#2e3192"/><circle cx="1886.5" cy="553.9" r="3.2" fill="#9ccba4"/><circle cx="1886.5" cy="501.7" r="3.2" fill="#d2692e"/><circle cx="1886.5" cy="449.5" r="3.2" fill="#9ccba4"/><circle cx="1886.5" cy="345.2" r="3.2" fill="#2e3192"/><circle cx="1886.5" cy="293" r="3.2" fill="#2e3192"/><circle cx="1886.5" cy="240.8" r="3.2" fill="#2e3192"/><circle cx="1928.3" cy="553.9" r="3.2" fill="#2e3192"/><circle cx="1928.3" cy="501.7" r="3.2" fill="#2e3192"/><circle cx="1928.3" cy="449.5" r="3.2" fill="#2e3192"/><circle cx="1928.3" cy="397.4" r="3.2" fill="#d2692e"/><circle cx="1928.3" cy="345.2" r="3.2" fill="#d2692e"/><circle cx="1928.3" cy="293" r="3.2" fill="#2e3192"/><circle cx="1928.3" cy="240.8" r="3.2" fill="#2e3192"/><circle cx="1970.2" cy="501.7" r="3.2" fill="#aeb3b5"/><circle cx="1970.2" cy="449.5" r="3.2" fill="#d2692e"/><circle cx="1970.2" cy="345.2" r="3.2" fill="#d2692e"/><circle cx="1970.2" cy="293" r="3.2" fill="#2fa44f"/><circle cx="1970.2" cy="240.8" r="3.2" fill="#2fa44f"/><circle cx="1970.2" cy="188.7" r="3.2" fill="#5b5f62"/><circle cx="1970.2" cy="84.3" r="3.2" fill="#2e3192"/><circle cx="2012.1" cy="553.9" r="3.2" fill="#5b5f62"/><circle cx="2012.1" cy="501.7" r="3.2" fill="#2e3192"/><circle cx="2012.1" cy="449.5" r="3.2" fill="#5b5f62"/><circle cx="2012.1" cy="397.4" r="3.2" fill="#2e3192"/><circle cx="2012.1" cy="345.2" r="3.2" fill="#2e3192"/><circle cx="2012.1" cy="293" r="3.2" fill="#2e3192"/><circle cx="2012.1" cy="240.8" r="3.2" fill="#2e3192"/><circle cx="2053.9" cy="553.9" r="3.2" fill="#d2692e"/><circle cx="2053.9" cy="449.5" r="3.2" fill="#2fa44f"/><circle cx="2053.9" cy="397.4" r="3.2" fill="#2fa44f"/><circle cx="2053.9" cy="345.2" r="3.2" fill="#d2692e"/><circle cx="2053.9" cy="293" r="3.2" fill="#1f9c98"/><circle cx="2053.9" cy="240.8" r="3.2" fill="#d2692e"/><circle cx="2053.9" cy="188.7" r="3.2" fill="#d2692e"/><circle cx="2095.8" cy="606" r="3.2" fill="#1f9c98"/><circle cx="2095.8" cy="553.9" r="3.2" fill="#2e3192"/><circle cx="2095.8" cy="501.7" r="3.2" fill="#1f9c98"/><circle cx="2095.8" cy="449.5" r="3.2" fill="#2e3192"/><circle cx="2095.8" cy="397.4" r="3.2" fill="#1f9c98"/><circle cx="2095.8" cy="345.2" r="3.2" fill="#d2692e"/><circle cx="2095.8" cy="293" r="3.2" fill="#d2692e"/></g>
<text x="1517.4" y="668.4" text-anchor="end" font-size="28" fill="#4d4d4d">0</text>
<text x="1517.4" y="511.9" text-anchor="end" font-size="28" fill="#4d4d4d">3</text>
<text x="1517.4" y="355.4" text-anchor="end" font-size="28" fill="#4d4d4d">6</text>
<text x="1517.4" y="198.9" text-anchor="end" font-size="28" fill="#4d4d4d">9</text>
<text x="1517.4" y="42.4" text-anchor="end" font-size="28" fill="#4d4d4d">12</text>
<path d="M1521.7 658.2H1526.6M1521.7 501.7H1526.6M1521.7 345.2H1526.6M1521.7 188.7H1526.6M1521.7 32.2H1526.6" stroke="#333" stroke-width="1.8" fill="none"/>
<text transform="translate(1571.1,682.1) rotate(-90)" text-anchor="end" font-size="28.4" fill="#4d4d4d">Beijing</text>
<text transform="translate(1613,691.1) rotate(-90)" text-anchor="end" font-size="28.4" fill="#4d4d4d">China CDC</text>
<text transform="translate(1654.8,682.1) rotate(-90)" text-anchor="end" font-size="28.4" fill="#4d4d4d">Guangdong</text>
<text transform="translate(1696.7,682.1) rotate(-90)" text-anchor="end" font-size="28.4" fill="#4d4d4d">Guangxi</text>
<text transform="translate(1738.6,682.1) rotate(-90)" text-anchor="end" font-size="28.4" fill="#4d4d4d">Hainan</text>
<text transform="translate(1780.4,682.1) rotate(-90)" text-anchor="end" font-size="28.4" fill="#4d4d4d">Heilongjiang</text>
<text transform="translate(1822.3,682.1) rotate(-90)" text-anchor="end" font-size="28.4" fill="#4d4d4d">Henan</text>
<text transform="translate(1864.2,682.1) rotate(-90)" text-anchor="end" font-size="28.4" fill="#4d4d4d">Hubei</text>
<text transform="translate(1906.1,682.1) rotate(-90)" text-anchor="end" font-size="28.4" fill="#4d4d4d">Inner Mongolia</text>
<text transform="translate(1947.9,682.1) rotate(-90)" text-anchor="end" font-size="28.4" fill="#4d4d4d">Jiangsu</text>
<text transform="translate(1989.8,682.1) rotate(-90)" text-anchor="end" font-size="28.4" fill="#4d4d4d">Sichuan</text>
<text transform="translate(2031.7,682.1) rotate(-90)" text-anchor="end" font-size="28.4" fill="#4d4d4d">Xinjiang</text>
<text transform="translate(2073.5,682.1) rotate(-90)" text-anchor="end" font-size="28.4" fill="#4d4d4d">Yunnan</text>
<text transform="translate(2115.4,682.1) rotate(-90)" text-anchor="end" font-size="28.4" fill="#4d4d4d">Zhejiang</text>
<path d="M1551.5 673.1V678M1593.4 673.1V678M1635.2 673.1V678M1677.1 673.1V678M1719 673.1V678M1760.8 673.1V678M1802.7 673.1V678M1844.6 673.1V678M1886.5 673.1V678M1928.3 673.1V678M1970.2 673.1V678M2012.1 673.1V678M2053.9 673.1V678M2095.8 673.1V678" stroke="#333" stroke-width="1.8" fill="none"/>
<text transform="translate(1474.3,344.4) rotate(-90)" text-anchor="middle" font-size="32" font-weight="bold" fill="#000">Richness</text>
<text x="1823.5" y="919.4" text-anchor="middle" font-size="31.5" font-weight="bold" fill="#000">Location</text>
<text x="1470.2" y="19.1" font-size="26" font-weight="bold" fill="#000">C</text>
<rect x="96" y="977.4" width="610" height="655.9" fill="#e4e6e9"/>
<path d="M250.4 977.4V1633.3M426.8 977.4V1633.3M603.1 977.4V1633.3M96 1540.1H706M96 1383.8H706M96 1227.5H706M96 1071.2H706" stroke="#fbfcfc" stroke-width="1.15" fill="none"/>
<path d="M162.3 977.4V1633.3M338.6 977.4V1633.3M515 977.4V1633.3M691.3 977.4V1633.3M96 1618.3H706M96 1462H706M96 1305.7H706M96 1149.4H706M96 993.1H706" stroke="#ffffff" stroke-width="2" fill="none"/>
<g fill="#1e1e1e"><circle cx="413.1" cy="1045.2" r="4.7"/><circle cx="476.3" cy="1149.4" r="4.7"/><circle cx="522.3" cy="1149.4" r="4.7"/><circle cx="557.7" cy="1149.4" r="4.7"/><circle cx="593.1" cy="1149.4" r="4.7"/><circle cx="222.6" cy="1201.5" r="4.7"/><circle cx="349.5" cy="1201.5" r="4.7"/><circle cx="377.7" cy="1201.5" r="4.7"/><circle cx="392" cy="1201.5" r="4.7"/><circle cx="423.7" cy="1201.5" r="4.7"/><circle cx="437.6" cy="1201.5" r="4.7"/><circle cx="448.1" cy="1201.5" r="4.7"/><circle cx="494.1" cy="1201.5" r="4.7"/><circle cx="529.5" cy="1201.5" r="4.7"/><circle cx="536.2" cy="1201.5" r="4.7"/><circle cx="557.7" cy="1201.5" r="4.7"/><circle cx="575.4" cy="1201.5" r="4.7"/><circle cx="578.8" cy="1201.5" r="4.7"/><circle cx="593.1" cy="1201.5" r="4.7"/><circle cx="596.5" cy="1201.5" r="4.7"/><circle cx="342.3" cy="1253.6" r="4.7"/><circle cx="349.5" cy="1253.6" r="4.7"/><circle cx="381.1" cy="1253.6" r="4.7"/><circle cx="441.4" cy="1253.6" r="4.7"/><circle cx="448.1" cy="1253.6" r="4.7"/><circle cx="451.5" cy="1253.6" r="4.7"/><circle cx="494.1" cy="1253.6" r="4.7"/><circle cx="504.6" cy="1253.6" r="4.7"/><circle cx="508" cy="1253.6" r="4.7"/><circle cx="522.3" cy="1253.6" r="4.7"/><circle cx="532.8" cy="1253.6" r="4.7"/><circle cx="536.2" cy="1253.6" r="4.7"/><circle cx="543.4" cy="1253.6" r="4.7"/><circle cx="557.7" cy="1253.6" r="4.7"/><circle cx="561.1" cy="1253.6" r="4.7"/><circle cx="593.1" cy="1253.6" r="4.7"/><circle cx="222.6" cy="1305.7" r="4.7"/><circle cx="225.9" cy="1305.7" r="4.7"/><circle cx="314.1" cy="1305.7" r="4.7"/><circle cx="349.5" cy="1305.7" r="4.7"/><circle cx="363.4" cy="1305.7" r="4.7"/><circle cx="377.7" cy="1305.7" r="4.7"/><circle cx="392" cy="1305.7" r="4.7"/><circle cx="402.6" cy="1305.7" r="4.7"/><circle cx="413.1" cy="1305.7" r="4.7"/><circle cx="419.9" cy="1305.7" r="4.7"/><circle cx="430.4" cy="1305.7" r="4.7"/><circle cx="437.6" cy="1305.7" r="4.7"/><circle cx="448.1" cy="1305.7" r="4.7"/><circle cx="455.3" cy="1305.7" r="4.7"/><circle cx="462.4" cy="1305.7" r="4.7"/><circle cx="476.3" cy="1305.7" r="4.7"/><circle cx="494.1" cy="1305.7" r="4.7"/><circle cx="508" cy="1305.7" r="4.7"/><circle cx="511.8" cy="1305.7" r="4.7"/><circle cx="529.5" cy="1305.7" r="4.7"/><circle cx="543.4" cy="1305.7" r="4.7"/><circle cx="547.2" cy="1305.7" r="4.7"/><circle cx="550.5" cy="1305.7" r="4.7"/><circle cx="554.3" cy="1305.7" r="4.7"/><circle cx="557.7" cy="1305.7" r="4.7"/><circle cx="561.1" cy="1305.7" r="4.7"/><circle cx="596.5" cy="1305.7" r="4.7"/><circle cx="620.9" cy="1305.7" r="4.7"/><circle cx="642" cy="1305.7" r="4.7"/><circle cx="677.4" cy="1305.7" r="4.7"/><circle cx="314.1" cy="1357.8" r="4.7"/><circle cx="342.3" cy="1357.8" r="4.7"/><circle cx="349.5" cy="1357.8" r="4.7"/><circle cx="360" cy="1357.8" r="4.7"/><circle cx="377.7" cy="1357.8" r="4.7"/><circle cx="395.4" cy="1357.8" r="4.7"/><circle cx="402.6" cy="1357.8" r="4.7"/><circle cx="409.3" cy="1357.8" r="4.7"/><circle cx="413.1" cy="1357.8" r="4.7"/><circle cx="416.5" cy="1357.8" r="4.7"/><circle cx="430.4" cy="1357.8" r="4.7"/><circle cx="434.2" cy="1357.8" r="4.7"/><circle cx="441.4" cy="1357.8" r="4.7"/><circle cx="448.1" cy="1357.8" r="4.7"/><circle cx="451.5" cy="1357.8" r="4.7"/><circle cx="455.3" cy="1357.8" r="4.7"/><circle cx="476.3" cy="1357.8" r="4.7"/><circle cx="490.7" cy="1357.8" r="4.7"/><circle cx="501.2" cy="1357.8" r="4.7"/><circle cx="508" cy="1357.8" r="4.7"/><circle cx="511.8" cy="1357.8" r="4.7"/><circle cx="529.5" cy="1357.8" r="4.7"/><circle cx="547.2" cy="1357.8" r="4.7"/><circle cx="554.3" cy="1357.8" r="4.7"/><circle cx="561.1" cy="1357.8" r="4.7"/><circle cx="575.4" cy="1357.8" r="4.7"/><circle cx="578.8" cy="1357.8" r="4.7"/><circle cx="596.5" cy="1357.8" r="4.7"/><circle cx="638.6" cy="1357.8" r="4.7"/><circle cx="642" cy="1357.8" r="4.7"/><circle cx="677.4" cy="1357.8" r="4.7"/><circle cx="123.5" cy="1409.9" r="4.7"/><circle cx="225.9" cy="1409.9" r="4.7"/><circle cx="243.7" cy="1409.9" r="4.7"/><circle cx="342.3" cy="1409.9" r="4.7"/><circle cx="363.4" cy="1409.9" r="4.7"/><circle cx="377.7" cy="1409.9" r="4.7"/><circle cx="381.1" cy="1409.9" r="4.7"/><circle cx="398.8" cy="1409.9" r="4.7"/><circle cx="413.1" cy="1409.9" r="4.7"/><circle cx="416.5" cy="1409.9" r="4.7"/><circle cx="419.9" cy="1409.9" r="4.7"/><circle cx="423.7" cy="1409.9" r="4.7"/><circle cx="430.4" cy="1409.9" r="4.7"/><circle cx="434.2" cy="1409.9" r="4.7"/><circle cx="437.6" cy="1409.9" r="4.7"/><circle cx="448.1" cy="1409.9" r="4.7"/><circle cx="476.3" cy="1409.9" r="4.7"/><circle cx="486.9" cy="1409.9" r="4.7"/><circle cx="490.7" cy="1409.9" r="4.7"/><circle cx="501.2" cy="1409.9" r="4.7"/><circle cx="504.6" cy="1409.9" r="4.7"/><circle cx="511.8" cy="1409.9" r="4.7"/><circle cx="522.3" cy="1409.9" r="4.7"/><circle cx="529.5" cy="1409.9" r="4.7"/><circle cx="554.3" cy="1409.9" r="4.7"/><circle cx="557.7" cy="1409.9" r="4.7"/><circle cx="561.1" cy="1409.9" r="4.7"/><circle cx="575.4" cy="1409.9" r="4.7"/><circle cx="578.8" cy="1409.9" r="4.7"/><circle cx="596.5" cy="1409.9" r="4.7"/><circle cx="620.9" cy="1409.9" r="4.7"/><circle cx="677.4" cy="1409.9" r="4.7"/><circle cx="123.5" cy="1462" r="4.7"/><circle cx="222.6" cy="1462" r="4.7"/><circle cx="225.9" cy="1462" r="4.7"/><circle cx="275.3" cy="1462" r="4.7"/><circle cx="349.5" cy="1462" r="4.7"/><circle cx="360" cy="1462" r="4.7"/><circle cx="363.4" cy="1462" r="4.7"/><circle cx="377.7" cy="1462" r="4.7"/><circle cx="381.1" cy="1462" r="4.7"/><circle cx="392" cy="1462" r="4.7"/><circle cx="395.4" cy="1462" r="4.7"/><circle cx="413.1" cy="1462" r="4.7"/><circle cx="419.9" cy="1462" r="4.7"/><circle cx="423.7" cy="1462" r="4.7"/><circle cx="434.2" cy="1462" r="4.7"/><circle cx="448.1" cy="1462" r="4.7"/><circle cx="451.5" cy="1462" r="4.7"/><circle cx="455.3" cy="1462" r="4.7"/><circle cx="490.7" cy="1462" r="4.7"/><circle cx="501.2" cy="1462" r="4.7"/><circle cx="504.6" cy="1462" r="4.7"/><circle cx="508" cy="1462" r="4.7"/><circle cx="522.3" cy="1462" r="4.7"/><circle cx="554.3" cy="1462" r="4.7"/><circle cx="561.1" cy="1462" r="4.7"/><circle cx="596.5" cy="1462" r="4.7"/><circle cx="620.9" cy="1462" r="4.7"/><circle cx="638.6" cy="1462" r="4.7"/><circle cx="642" cy="1462" r="4.7"/><circle cx="275.3" cy="1514.1" r="4.7"/><circle cx="360" cy="1514.1" r="4.7"/><circle cx="377.7" cy="1514.1" r="4.7"/><circle cx="392" cy="1514.1" r="4.7"/><circle cx="434.2" cy="1514.1" r="4.7"/><circle cx="448.1" cy="1514.1" r="4.7"/><circle cx="476.3" cy="1514.1" r="4.7"/><circle cx="486.9" cy="1514.1" r="4.7"/><circle cx="522.3" cy="1514.1" r="4.7"/><circle cx="554.3" cy="1514.1" r="4.7"/><circle cx="557.7" cy="1514.1" r="4.7"/><circle cx="578.8" cy="1514.1" r="4.7"/><circle cx="413.1" cy="1566.2" r="4.7"/><circle cx="434.2" cy="1566.2" r="4.7"/><circle cx="448.1" cy="1566.2" r="4.7"/><circle cx="486.9" cy="1566.2" r="4.7"/><circle cx="554.3" cy="1566.2" r="4.7"/></g>
<g><circle cx="413.1" cy="1045.2" r="3.6" fill="#2e3192"/><circle cx="476.3" cy="1149.4" r="3.6" fill="#2e3192"/><circle cx="522.3" cy="1149.4" r="3.6" fill="#2e3192"/><circle cx="557.7" cy="1149.4" r="3.6" fill="#d2692e"/><circle cx="593.1" cy="1149.4" r="3.6" fill="#5b5f62"/><circle cx="222.6" cy="1201.5" r="3.6" fill="#2e3192"/><circle cx="349.5" cy="1201.5" r="3.6" fill="#d2692e"/><circle cx="377.7" cy="1201.5" r="3.6" fill="#d2692e"/><circle cx="392" cy="1201.5" r="3.6" fill="#2e3192"/><circle cx="423.7" cy="1201.5" r="3.6" fill="#2fa44f"/><circle cx="437.6" cy="1201.5" r="3.6" fill="#2e3192"/><circle cx="448.1" cy="1201.5" r="3.6" fill="#2e3192"/><circle cx="494.1" cy="1201.5" r="3.6" fill="#2e3192"/><circle cx="529.5" cy="1201.5" r="3.6" fill="#2fa44f"/><circle cx="536.2" cy="1201.5" r="3.6" fill="#2e3192"/><circle cx="557.7" cy="1201.5" r="3.6" fill="#d2692e"/><circle cx="575.4" cy="1201.5" r="3.6" fill="#2e3192"/><circle cx="578.8" cy="1201.5" r="3.6" fill="#2fa44f"/><circle cx="593.1" cy="1201.5" r="3.6" fill="#2fa44f"/><circle cx="596.5" cy="1201.5" r="3.6" fill="#2fa44f"/><circle cx="342.3" cy="1253.6" r="3.6" fill="#2e3192"/><circle cx="349.5" cy="1253.6" r="3.6" fill="#d2692e"/><circle cx="381.1" cy="1253.6" r="3.6" fill="#2e3192"/><circle cx="441.4" cy="1253.6" r="3.6" fill="#2e3192"/><circle cx="448.1" cy="1253.6" r="3.6" fill="#1f9c98"/><circle cx="451.5" cy="1253.6" r="3.6" fill="#29abe2"/><circle cx="494.1" cy="1253.6" r="3.6" fill="#2e3192"/><circle cx="504.6" cy="1253.6" r="3.6" fill="#2e3192"/><circle cx="508" cy="1253.6" r="3.6" fill="#2e3192"/><circle cx="522.3" cy="1253.6" r="3.6" fill="#2fa44f"/><circle cx="532.8" cy="1253.6" r="3.6" fill="#2e3192"/><circle cx="536.2" cy="1253.6" r="3.6" fill="#2e3192"/><circle cx="543.4" cy="1253.6" r="3.6" fill="#2e3192"/><circle cx="557.7" cy="1253.6" r="3.6" fill="#d2692e"/><circle cx="561.1" cy="1253.6" r="3.6" fill="#d2692e"/><circle cx="593.1" cy="1253.6" r="3.6" fill="#5b5f62"/><circle cx="222.6" cy="1305.7" r="3.6" fill="#2e3192"/><circle cx="225.9" cy="1305.7" r="3.6" fill="#2fa44f"/><circle cx="314.1" cy="1305.7" r="3.6" fill="#d2692e"/><circle cx="349.5" cy="1305.7" r="3.6" fill="#2e3192"/><circle cx="363.4" cy="1305.7" r="3.6" fill="#2e3192"/><circle cx="377.7" cy="1305.7" r="3.6" fill="#d2692e"/><circle cx="392" cy="1305.7" r="3.6" fill="#2e3192"/><circle cx="402.6" cy="1305.7" r="3.6" fill="#2e3192"/><circle cx="413.1" cy="1305.7" r="3.6" fill="#2e3192"/><circle cx="419.9" cy="1305.7" r="3.6" fill="#d2692e"/><circle cx="430.4" cy="1305.7" r="3.6" fill="#2e3192"/><circle cx="437.6" cy="1305.7" r="3.6" fill="#2e3192"/><circle cx="448.1" cy="1305.7" r="3.6" fill="#2e3192"/><circle cx="455.3" cy="1305.7" r="3.6" fill="#2fa44f"/><circle cx="462.4" cy="1305.7" r="3.6" fill="#2e3192"/><circle cx="476.3" cy="1305.7" r="3.6" fill="#2e3192"/><circle cx="494.1" cy="1305.7" r="3.6" fill="#2e3192"/><circle cx="508" cy="1305.7" r="3.6" fill="#2e3192"/><circle cx="511.8" cy="1305.7" r="3.6" fill="#d2692e"/><circle cx="529.5" cy="1305.7" r="3.6" fill="#2fa44f"/><circle cx="543.4" cy="1305.7" r="3.6" fill="#2fa44f"/><circle cx="547.2" cy="1305.7" r="3.6" fill="#2e3192"/><circle cx="550.5" cy="1305.7" r="3.6" fill="#2e3192"/><circle cx="554.3" cy="1305.7" r="3.6" fill="#d01c2a"/><circle cx="557.7" cy="1305.7" r="3.6" fill="#d2692e"/><circle cx="561.1" cy="1305.7" r="3.6" fill="#d2692e"/><circle cx="596.5" cy="1305.7" r="3.6" fill="#2e3192"/><circle cx="620.9" cy="1305.7" r="3.6" fill="#aeb3b5"/><circle cx="642" cy="1305.7" r="3.6" fill="#fbc02d"/><circle cx="677.4" cy="1305.7" r="3.6" fill="#2fa44f"/><circle cx="314.1" cy="1357.8" r="3.6" fill="#d2692e"/><circle cx="342.3" cy="1357.8" r="3.6" fill="#2e3192"/><circle cx="349.5" cy="1357.8" r="3.6" fill="#2e3192"/><circle cx="360" cy="1357.8" r="3.6" fill="#2fa44f"/><circle cx="377.7" cy="1357.8" r="3.6" fill="#d2692e"/><circle cx="395.4" cy="1357.8" r="3.6" fill="#d2692e"/><circle cx="402.6" cy="1357.8" r="3.6" fill="#2fa44f"/><circle cx="409.3" cy="1357.8" r="3.6" fill="#2e3192"/><circle cx="413.1" cy="1357.8" r="3.6" fill="#2e3192"/><circle cx="416.5" cy="1357.8" r="3.6" fill="#2e3192"/><circle cx="430.4" cy="1357.8" r="3.6" fill="#2e3192"/><circle cx="434.2" cy="1357.8" r="3.6" fill="#2e3192"/><circle cx="441.4" cy="1357.8" r="3.6" fill="#2e3192"/><circle cx="448.1" cy="1357.8" r="3.6" fill="#2e3192"/><circle cx="451.5" cy="1357.8" r="3.6" fill="#2e3192"/><circle cx="455.3" cy="1357.8" r="3.6" fill="#2fa44f"/><circle cx="476.3" cy="1357.8" r="3.6" fill="#2e3192"/><circle cx="490.7" cy="1357.8" r="3.6" fill="#5b5f62"/><circle cx="501.2" cy="1357.8" r="3.6" fill="#29abe2"/><circle cx="508" cy="1357.8" r="3.6" fill="#d2692e"/><circle cx="511.8" cy="1357.8" r="3.6" fill="#d2692e"/><circle cx="529.5" cy="1357.8" r="3.6" fill="#2fa44f"/><circle cx="547.2" cy="1357.8" r="3.6" fill="#2e3192"/><circle cx="554.3" cy="1357.8" r="3.6" fill="#d01c2a"/><circle cx="561.1" cy="1357.8" r="3.6" fill="#d2692e"/><circle cx="575.4" cy="1357.8" r="3.6" fill="#2e3192"/><circle cx="578.8" cy="1357.8" r="3.6" fill="#2e3192"/><circle cx="596.5" cy="1357.8" r="3.6" fill="#2e3192"/><circle cx="638.6" cy="1357.8" r="3.6" fill="#d2692e"/><circle cx="642" cy="1357.8" r="3.6" fill="#d01c2a"/><circle cx="677.4" cy="1357.8" r="3.6" fill="#2fa44f"/><circle cx="123.5" cy="1409.9" r="3.6" fill="#d2692e"/><circle cx="225.9" cy="1409.9" r="3.6" fill="#2fa44f"/><circle cx="243.7" cy="1409.9" r="3.6" fill="#d2692e"/><circle cx="342.3" cy="1409.9" r="3.6" fill="#2e3192"/><circle cx="363.4" cy="1409.9" r="3.6" fill="#2e3192"/><circle cx="377.7" cy="1409.9" r="3.6" fill="#d2692e"/><circle cx="381.1" cy="1409.9" r="3.6" fill="#2e3192"/><circle cx="398.8" cy="1409.9" r="3.6" fill="#d2692e"/><circle cx="413.1" cy="1409.9" r="3.6" fill="#d2692e"/><circle cx="416.5" cy="1409.9" r="3.6" fill="#2e3192"/><circle cx="419.9" cy="1409.9" r="3.6" fill="#2e3192"/><circle cx="423.7" cy="1409.9" r="3.6" fill="#2fa44f"/><circle cx="430.4" cy="1409.9" r="3.6" fill="#2e3192"/><circle cx="434.2" cy="1409.9" r="3.6" fill="#2e3192"/><circle cx="437.6" cy="1409.9" r="3.6" fill="#2e3192"/><circle cx="448.1" cy="1409.9" r="3.6" fill="#1f9c98"/><circle cx="476.3" cy="1409.9" r="3.6" fill="#2e3192"/><circle cx="486.9" cy="1409.9" r="3.6" fill="#2e3192"/><circle cx="490.7" cy="1409.9" r="3.6" fill="#5b5f62"/><circle cx="501.2" cy="1409.9" r="3.6" fill="#29abe2"/><circle cx="504.6" cy="1409.9" r="3.6" fill="#29abe2"/><circle cx="511.8" cy="1409.9" r="3.6" fill="#d2692e"/><circle cx="522.3" cy="1409.9" r="3.6" fill="#2e3192"/><circle cx="529.5" cy="1409.9" r="3.6" fill="#2fa44f"/><circle cx="554.3" cy="1409.9" r="3.6" fill="#2fa44f"/><circle cx="557.7" cy="1409.9" r="3.6" fill="#2fa44f"/><circle cx="561.1" cy="1409.9" r="3.6" fill="#d2692e"/><circle cx="575.4" cy="1409.9" r="3.6" fill="#2e3192"/><circle cx="578.8" cy="1409.9" r="3.6" fill="#2e3192"/><circle cx="596.5" cy="1409.9" r="3.6" fill="#9ccba4"/><circle cx="620.9" cy="1409.9" r="3.6" fill="#aeb3b5"/><circle cx="677.4" cy="1409.9" r="3.6" fill="#2fa44f"/><circle cx="123.5" cy="1462" r="3.6" fill="#d2692e"/><circle cx="222.6" cy="1462" r="3.6" fill="#2e3192"/><circle cx="225.9" cy="1462" r="3.6" fill="#2fa44f"/><circle cx="275.3" cy="1462" r="3.6" fill="#2e3192"/><circle cx="349.5" cy="1462" r="3.6" fill="#29abe2"/><circle cx="360" cy="1462" r="3.6" fill="#2fa44f"/><circle cx="363.4" cy="1462" r="3.6" fill="#2e3192"/><circle cx="377.7" cy="1462" r="3.6" fill="#2e3192"/><circle cx="381.1" cy="1462" r="3.6" fill="#2e3192"/><circle cx="392" cy="1462" r="3.6" fill="#2e3192"/><circle cx="395.4" cy="1462" r="3.6" fill="#d2692e"/><circle cx="413.1" cy="1462" r="3.6" fill="#d2692e"/><circle cx="419.9" cy="1462" r="3.6" fill="#2fa44f"/><circle cx="423.7" cy="1462" r="3.6" fill="#2fa44f"/><circle cx="434.2" cy="1462" r="3.6" fill="#1f9c98"/><circle cx="448.1" cy="1462" r="3.6" fill="#2e3192"/><circle cx="451.5" cy="1462" r="3.6" fill="#9a5a18"/><circle cx="455.3" cy="1462" r="3.6" fill="#2fa44f"/><circle cx="490.7" cy="1462" r="3.6" fill="#d2692e"/><circle cx="501.2" cy="1462" r="3.6" fill="#29abe2"/><circle cx="504.6" cy="1462" r="3.6" fill="#2e3192"/><circle cx="508" cy="1462" r="3.6" fill="#d2692e"/><circle cx="522.3" cy="1462" r="3.6" fill="#2e3192"/><circle cx="554.3" cy="1462" r="3.6" fill="#d2692e"/><circle cx="561.1" cy="1462" r="3.6" fill="#d2692e"/><circle cx="596.5" cy="1462" r="3.6" fill="#2e3192"/><circle cx="620.9" cy="1462" r="3.6" fill="#aeb3b5"/><circle cx="638.6" cy="1462" r="3.6" fill="#9a5a18"/><circle cx="642" cy="1462" r="3.6" fill="#d01c2a"/><circle cx="275.3" cy="1514.1" r="3.6" fill="#2e3192"/><circle cx="360" cy="1514.1" r="3.6" fill="#2fa44f"/><circle cx="377.7" cy="1514.1" r="3.6" fill="#2e3192"/><circle cx="392" cy="1514.1" r="3.6" fill="#2e3192"/><circle cx="434.2" cy="1514.1" r="3.6" fill="#1f9c98"/><circle cx="448.1" cy="1514.1" r="3.6" fill="#ec3f94"/><circle cx="476.3" cy="1514.1" r="3.6" fill="#5b5f62"/><circle cx="486.9" cy="1514.1" r="3.6" fill="#2e3192"/><circle cx="522.3" cy="1514.1" r="3.6" fill="#2e3192"/><circle cx="554.3" cy="1514.1" r="3.6" fill="#d2692e"/><circle cx="557.7" cy="1514.1" r="3.6" fill="#d2692e"/><circle cx="578.8" cy="1514.1" r="3.6" fill="#9ccba4"/><circle cx="413.1" cy="1566.2" r="3.6" fill="#1f9c98"/><circle cx="434.2" cy="1566.2" r="3.6" fill="#1f9c98"/><circle cx="448.1" cy="1566.2" r="3.6" fill="#d2692e"/><circle cx="486.9" cy="1566.2" r="3.6" fill="#2e3192"/><circle cx="554.3" cy="1566.2" r="3.6" fill="#d01c2a"/></g>
<path d="M96 1411.7L706 1343" stroke="#000" stroke-width="2.3" fill="none"/>
<text x="71.8" y="1627.8" text-anchor="middle" font-size="28" fill="#4d4d4d">0</text>
<text x="71.8" y="1471.5" text-anchor="middle" font-size="28" fill="#4d4d4d">3</text>
<text x="71.8" y="1315.2" text-anchor="middle" font-size="28" fill="#4d4d4d">6</text>
<text x="71.8" y="1158.9" text-anchor="middle" font-size="28" fill="#4d4d4d">9</text>
<text x="71.8" y="1002.6" text-anchor="middle" font-size="28" fill="#4d4d4d">12</text>
<path d="M91.1 1618.3H96M91.1 1462H96M91.1 1305.7H96M91.1 1149.4H96M91.1 993.1H96" stroke="#333" stroke-width="1.8" fill="none"/>
<text transform="translate(181.9,1642.3) rotate(-90)" text-anchor="end" font-size="28.4" fill="#4d4d4d">6.5</text>
<text transform="translate(358.2,1642.3) rotate(-90)" text-anchor="end" font-size="28.4" fill="#4d4d4d">7.0</text>
<text transform="translate(534.6,1642.3) rotate(-90)" text-anchor="end" font-size="28.4" fill="#4d4d4d">7.5</text>
<text transform="translate(710.9,1642.3) rotate(-90)" text-anchor="end" font-size="28.4" fill="#4d4d4d">8.0</text>
<path d="M162.3 1633.3V1638.2M338.6 1633.3V1638.2M515 1633.3V1638.2M691.3 1633.3V1638.2" stroke="#333" stroke-width="1.8" fill="none"/>
<text transform="translate(30.8,1305.3) rotate(-90)" text-anchor="middle" font-size="32" font-weight="bold" fill="#000">Richness</text>
<text x="400.5" y="1743.3" text-anchor="middle" font-size="32" font-weight="bold" fill="#000">pH</text>
<text x="39.8" y="978.7" font-size="24.8" font-weight="bold" fill="#000">D</text>
<rect x="836" y="977.4" width="564.4" height="655.9" fill="#e4e6e9"/>
<path d="M874 977.4V1633.3M985 977.4V1633.3M1096 977.4V1633.3M1207 977.4V1633.3M1318 977.4V1633.3M836 1540.1H1400.4M836 1383.8H1400.4M836 1227.5H1400.4M836 1071.2H1400.4" stroke="#fbfcfc" stroke-width="1.15" fill="none"/>
<path d="M929.5 977.4V1633.3M1040.5 977.4V1633.3M1151.5 977.4V1633.3M1262.5 977.4V1633.3M1373.5 977.4V1633.3M836 1618.3H1400.4M836 1462H1400.4M836 1305.7H1400.4M836 1149.4H1400.4M836 993.1H1400.4" stroke="#ffffff" stroke-width="2" fill="none"/>
<g fill="#1e1e1e"><circle cx="1166" cy="1045.2" r="4.7"/><circle cx="1166" cy="1149.4" r="4.7"/><circle cx="1181.6" cy="1149.4" r="4.7"/><circle cx="1192.6" cy="1149.4" r="4.7"/><circle cx="1348.1" cy="1149.4" r="4.7"/><circle cx="862.1" cy="1201.5" r="4.7"/><circle cx="1128.1" cy="1201.5" r="4.7"/><circle cx="1136.5" cy="1201.5" r="4.7"/><circle cx="1163.9" cy="1201.5" r="4.7"/><circle cx="1166" cy="1201.5" r="4.7"/><circle cx="1197.2" cy="1201.5" r="4.7"/><circle cx="1212.4" cy="1201.5" r="4.7"/><circle cx="1239.3" cy="1201.5" r="4.7"/><circle cx="1248.2" cy="1201.5" r="4.7"/><circle cx="1255.8" cy="1201.5" r="4.7"/><circle cx="1285.7" cy="1201.5" r="4.7"/><circle cx="1292.5" cy="1201.5" r="4.7"/><circle cx="1324.5" cy="1201.5" r="4.7"/><circle cx="1348.1" cy="1201.5" r="4.7"/><circle cx="961.5" cy="1253.6" r="4.7"/><circle cx="970.8" cy="1253.6" r="4.7"/><circle cx="1149.6" cy="1253.6" r="4.7"/><circle cx="1165.2" cy="1253.6" r="4.7"/><circle cx="1181.6" cy="1253.6" r="4.7"/><circle cx="1187.1" cy="1253.6" r="4.7"/><circle cx="1190.4" cy="1253.6" r="4.7"/><circle cx="1194.7" cy="1253.6" r="4.7"/><circle cx="1212.4" cy="1253.6" r="4.7"/><circle cx="1217" cy="1253.6" r="4.7"/><circle cx="1234.7" cy="1253.6" r="4.7"/><circle cx="1248.2" cy="1253.6" r="4.7"/><circle cx="1263.8" cy="1253.6" r="4.7"/><circle cx="1266.3" cy="1253.6" r="4.7"/><circle cx="1285.7" cy="1253.6" r="4.7"/><circle cx="1291.6" cy="1253.6" r="4.7"/><circle cx="1348.1" cy="1253.6" r="4.7"/><circle cx="862.1" cy="1305.7" r="4.7"/><circle cx="964.9" cy="1305.7" r="4.7"/><circle cx="1070.7" cy="1305.7" r="4.7"/><circle cx="1128.1" cy="1305.7" r="4.7"/><circle cx="1163.9" cy="1305.7" r="4.7"/><circle cx="1166" cy="1305.7" r="4.7"/><circle cx="1179.5" cy="1305.7" r="4.7"/><circle cx="1182.9" cy="1305.7" r="4.7"/><circle cx="1187.1" cy="1305.7" r="4.7"/><circle cx="1192.6" cy="1305.7" r="4.7"/><circle cx="1195.1" cy="1305.7" r="4.7"/><circle cx="1212.4" cy="1305.7" r="4.7"/><circle cx="1225.9" cy="1305.7" r="4.7"/><circle cx="1234.7" cy="1305.7" r="4.7"/><circle cx="1239.3" cy="1305.7" r="4.7"/><circle cx="1252.8" cy="1305.7" r="4.7"/><circle cx="1255.8" cy="1305.7" r="4.7"/><circle cx="1265.5" cy="1305.7" r="4.7"/><circle cx="1275.6" cy="1305.7" r="4.7"/><circle cx="1279" cy="1305.7" r="4.7"/><circle cx="1285.7" cy="1305.7" r="4.7"/><circle cx="1289.1" cy="1305.7" r="4.7"/><circle cx="1305.9" cy="1305.7" r="4.7"/><circle cx="1319" cy="1305.7" r="4.7"/><circle cx="1327.9" cy="1305.7" r="4.7"/><circle cx="916.4" cy="1357.8" r="4.7"/><circle cx="1070.7" cy="1357.8" r="4.7"/><circle cx="1163.9" cy="1357.8" r="4.7"/><circle cx="1166" cy="1357.8" r="4.7"/><circle cx="1169.4" cy="1357.8" r="4.7"/><circle cx="1180.3" cy="1357.8" r="4.7"/><circle cx="1183.7" cy="1357.8" r="4.7"/><circle cx="1187.1" cy="1357.8" r="4.7"/><circle cx="1194.7" cy="1357.8" r="4.7"/><circle cx="1210.3" cy="1357.8" r="4.7"/><circle cx="1225.9" cy="1357.8" r="4.7"/><circle cx="1229.2" cy="1357.8" r="4.7"/><circle cx="1234.7" cy="1357.8" r="4.7"/><circle cx="1242.7" cy="1357.8" r="4.7"/><circle cx="1248.2" cy="1357.8" r="4.7"/><circle cx="1251.6" cy="1357.8" r="4.7"/><circle cx="1254.9" cy="1357.8" r="4.7"/><circle cx="1265.5" cy="1357.8" r="4.7"/><circle cx="1275.6" cy="1357.8" r="4.7"/><circle cx="1279" cy="1357.8" r="4.7"/><circle cx="1289.1" cy="1357.8" r="4.7"/><circle cx="1292.5" cy="1357.8" r="4.7"/><circle cx="1305.9" cy="1357.8" r="4.7"/><circle cx="1319" cy="1357.8" r="4.7"/><circle cx="1324.5" cy="1357.8" r="4.7"/><circle cx="1370" cy="1357.8" r="4.7"/><circle cx="1374.2" cy="1357.8" r="4.7"/><circle cx="916.4" cy="1409.9" r="4.7"/><circle cx="948.5" cy="1409.9" r="4.7"/><circle cx="1030.7" cy="1409.9" r="4.7"/><circle cx="1059.3" cy="1409.9" r="4.7"/><circle cx="1071.6" cy="1409.9" r="4.7"/><circle cx="1137.3" cy="1409.9" r="4.7"/><circle cx="1149.6" cy="1409.9" r="4.7"/><circle cx="1152.9" cy="1409.9" r="4.7"/><circle cx="1163.9" cy="1409.9" r="4.7"/><circle cx="1166" cy="1409.9" r="4.7"/><circle cx="1178.2" cy="1409.9" r="4.7"/><circle cx="1187.1" cy="1409.9" r="4.7"/><circle cx="1197.2" cy="1409.9" r="4.7"/><circle cx="1219.1" cy="1409.9" r="4.7"/><circle cx="1224.6" cy="1409.9" r="4.7"/><circle cx="1227.1" cy="1409.9" r="4.7"/><circle cx="1230.1" cy="1409.9" r="4.7"/><circle cx="1239.3" cy="1409.9" r="4.7"/><circle cx="1242.7" cy="1409.9" r="4.7"/><circle cx="1250.3" cy="1409.9" r="4.7"/><circle cx="1252.8" cy="1409.9" r="4.7"/><circle cx="1265.5" cy="1409.9" r="4.7"/><circle cx="1268" cy="1409.9" r="4.7"/><circle cx="1272.2" cy="1409.9" r="4.7"/><circle cx="1275.6" cy="1409.9" r="4.7"/><circle cx="1279" cy="1409.9" r="4.7"/><circle cx="1285.7" cy="1409.9" r="4.7"/><circle cx="1292.5" cy="1409.9" r="4.7"/><circle cx="1299.2" cy="1409.9" r="4.7"/><circle cx="1305.9" cy="1409.9" r="4.7"/><circle cx="1324.5" cy="1409.9" r="4.7"/><circle cx="1327.9" cy="1409.9" r="4.7"/><circle cx="1370" cy="1409.9" r="4.7"/><circle cx="862.1" cy="1462" r="4.7"/><circle cx="1030.7" cy="1462" r="4.7"/><circle cx="1128.1" cy="1462" r="4.7"/><circle cx="1137.3" cy="1462" r="4.7"/><circle cx="1149.6" cy="1462" r="4.7"/><circle cx="1152.9" cy="1462" r="4.7"/><circle cx="1163.9" cy="1462" r="4.7"/><circle cx="1178.2" cy="1462" r="4.7"/><circle cx="1181.6" cy="1462" r="4.7"/><circle cx="1185" cy="1462" r="4.7"/><circle cx="1190.4" cy="1462" r="4.7"/><circle cx="1194.7" cy="1462" r="4.7"/><circle cx="1219.1" cy="1462" r="4.7"/><circle cx="1225.9" cy="1462" r="4.7"/><circle cx="1229.2" cy="1462" r="4.7"/><circle cx="1232.6" cy="1462" r="4.7"/><circle cx="1239.3" cy="1462" r="4.7"/><circle cx="1242.7" cy="1462" r="4.7"/><circle cx="1248.2" cy="1462" r="4.7"/><circle cx="1251.6" cy="1462" r="4.7"/><circle cx="1254.9" cy="1462" r="4.7"/><circle cx="1270.1" cy="1462" r="4.7"/><circle cx="1289.1" cy="1462" r="4.7"/><circle cx="1292.5" cy="1462" r="4.7"/><circle cx="1299.2" cy="1462" r="4.7"/><circle cx="1319" cy="1462" r="4.7"/><circle cx="1324.5" cy="1462" r="4.7"/><circle cx="1327.9" cy="1462" r="4.7"/><circle cx="1341.4" cy="1462" r="4.7"/><circle cx="1370" cy="1462" r="4.7"/><circle cx="1030.7" cy="1514.1" r="4.7"/><circle cx="1092.6" cy="1514.1" r="4.7"/><circle cx="1180.3" cy="1514.1" r="4.7"/><circle cx="1187.1" cy="1514.1" r="4.7"/><circle cx="1192.6" cy="1514.1" r="4.7"/><circle cx="1219.1" cy="1514.1" r="4.7"/><circle cx="1224.6" cy="1514.1" r="4.7"/><circle cx="1227.1" cy="1514.1" r="4.7"/><circle cx="1231.3" cy="1514.1" r="4.7"/><circle cx="1242.7" cy="1514.1" r="4.7"/><circle cx="1244.8" cy="1514.1" r="4.7"/><circle cx="1285.7" cy="1514.1" r="4.7"/><circle cx="1292.5" cy="1514.1" r="4.7"/><circle cx="1299.2" cy="1514.1" r="4.7"/><circle cx="1320.3" cy="1514.1" r="4.7"/><circle cx="1325.8" cy="1514.1" r="4.7"/><circle cx="1341.4" cy="1514.1" r="4.7"/><circle cx="1187.1" cy="1566.2" r="4.7"/><circle cx="1210.3" cy="1566.2" r="4.7"/><circle cx="1231.3" cy="1566.2" r="4.7"/><circle cx="1265.9" cy="1566.2" r="4.7"/><circle cx="1291.2" cy="1566.2" r="4.7"/></g>
<g><circle cx="1166" cy="1045.2" r="3.6" fill="#2e3192"/><circle cx="1166" cy="1149.4" r="3.6" fill="#2e3192"/><circle cx="1181.6" cy="1149.4" r="3.6" fill="#2e3192"/><circle cx="1192.6" cy="1149.4" r="3.6" fill="#d2692e"/><circle cx="1348.1" cy="1149.4" r="3.6" fill="#5b5f62"/><circle cx="862.1" cy="1201.5" r="3.6" fill="#2e3192"/><circle cx="1128.1" cy="1201.5" r="3.6" fill="#2e3192"/><circle cx="1136.5" cy="1201.5" r="3.6" fill="#2e3192"/><circle cx="1163.9" cy="1201.5" r="3.6" fill="#2e3192"/><circle cx="1166" cy="1201.5" r="3.6" fill="#2e3192"/><circle cx="1197.2" cy="1201.5" r="3.6" fill="#2e3192"/><circle cx="1212.4" cy="1201.5" r="3.6" fill="#2e3192"/><circle cx="1239.3" cy="1201.5" r="3.6" fill="#2fa44f"/><circle cx="1248.2" cy="1201.5" r="3.6" fill="#d2692e"/><circle cx="1255.8" cy="1201.5" r="3.6" fill="#2fa44f"/><circle cx="1285.7" cy="1201.5" r="3.6" fill="#d2692e"/><circle cx="1292.5" cy="1201.5" r="3.6" fill="#d2692e"/><circle cx="1324.5" cy="1201.5" r="3.6" fill="#2fa44f"/><circle cx="1348.1" cy="1201.5" r="3.6" fill="#5b5f62"/><circle cx="961.5" cy="1253.6" r="3.6" fill="#2e3192"/><circle cx="970.8" cy="1253.6" r="3.6" fill="#2e3192"/><circle cx="1149.6" cy="1253.6" r="3.6" fill="#2e3192"/><circle cx="1165.2" cy="1253.6" r="3.6" fill="#2e3192"/><circle cx="1181.6" cy="1253.6" r="3.6" fill="#2e3192"/><circle cx="1187.1" cy="1253.6" r="3.6" fill="#1f9c98"/><circle cx="1190.4" cy="1253.6" r="3.6" fill="#2e3192"/><circle cx="1194.7" cy="1253.6" r="3.6" fill="#2e3192"/><circle cx="1212.4" cy="1253.6" r="3.6" fill="#2e3192"/><circle cx="1217" cy="1253.6" r="3.6" fill="#2e3192"/><circle cx="1234.7" cy="1253.6" r="3.6" fill="#2e3192"/><circle cx="1248.2" cy="1253.6" r="3.6" fill="#d2692e"/><circle cx="1263.8" cy="1253.6" r="3.6" fill="#2fa44f"/><circle cx="1266.3" cy="1253.6" r="3.6" fill="#d2692e"/><circle cx="1285.7" cy="1253.6" r="3.6" fill="#d2692e"/><circle cx="1291.6" cy="1253.6" r="3.6" fill="#2e3192"/><circle cx="1348.1" cy="1253.6" r="3.6" fill="#5b5f62"/><circle cx="862.1" cy="1305.7" r="3.6" fill="#2e3192"/><circle cx="964.9" cy="1305.7" r="3.6" fill="#d2692e"/><circle cx="1070.7" cy="1305.7" r="3.6" fill="#2e3192"/><circle cx="1128.1" cy="1305.7" r="3.6" fill="#2e3192"/><circle cx="1163.9" cy="1305.7" r="3.6" fill="#2e3192"/><circle cx="1166" cy="1305.7" r="3.6" fill="#2e3192"/><circle cx="1179.5" cy="1305.7" r="3.6" fill="#2e3192"/><circle cx="1182.9" cy="1305.7" r="3.6" fill="#2e3192"/><circle cx="1187.1" cy="1305.7" r="3.6" fill="#d2692e"/><circle cx="1192.6" cy="1305.7" r="3.6" fill="#d2692e"/><circle cx="1195.1" cy="1305.7" r="3.6" fill="#2fa44f"/><circle cx="1212.4" cy="1305.7" r="3.6" fill="#2e3192"/><circle cx="1225.9" cy="1305.7" r="3.6" fill="#2e3192"/><circle cx="1234.7" cy="1305.7" r="3.6" fill="#2e3192"/><circle cx="1239.3" cy="1305.7" r="3.6" fill="#2e3192"/><circle cx="1252.8" cy="1305.7" r="3.6" fill="#2e3192"/><circle cx="1255.8" cy="1305.7" r="3.6" fill="#2fa44f"/><circle cx="1265.5" cy="1305.7" r="3.6" fill="#d2692e"/><circle cx="1275.6" cy="1305.7" r="3.6" fill="#2e3192"/><circle cx="1279" cy="1305.7" r="3.6" fill="#d2692e"/><circle cx="1285.7" cy="1305.7" r="3.6" fill="#d2692e"/><circle cx="1289.1" cy="1305.7" r="3.6" fill="#d01c2a"/><circle cx="1305.9" cy="1305.7" r="3.6" fill="#d2692e"/><circle cx="1319" cy="1305.7" r="3.6" fill="#2fa44f"/><circle cx="1327.9" cy="1305.7" r="3.6" fill="#aeb3b5"/><circle cx="916.4" cy="1357.8" r="3.6" fill="#2e3192"/><circle cx="1070.7" cy="1357.8" r="3.6" fill="#2e3192"/><circle cx="1163.9" cy="1357.8" r="3.6" fill="#d2692e"/><circle cx="1166" cy="1357.8" r="3.6" fill="#2e3192"/><circle cx="1169.4" cy="1357.8" r="3.6" fill="#2fa44f"/><circle cx="1180.3" cy="1357.8" r="3.6" fill="#2fa44f"/><circle cx="1183.7" cy="1357.8" r="3.6" fill="#d2692e"/><circle cx="1187.1" cy="1357.8" r="3.6" fill="#d2692e"/><circle cx="1194.7" cy="1357.8" r="3.6" fill="#2e3192"/><circle cx="1210.3" cy="1357.8" r="3.6" fill="#1f9c98"/><circle cx="1225.9" cy="1357.8" r="3.6" fill="#2e3192"/><circle cx="1229.2" cy="1357.8" r="3.6" fill="#2e3192"/><circle cx="1234.7" cy="1357.8" r="3.6" fill="#2e3192"/><circle cx="1242.7" cy="1357.8" r="3.6" fill="#5b5f62"/><circle cx="1248.2" cy="1357.8" r="3.6" fill="#2e3192"/><circle cx="1251.6" cy="1357.8" r="3.6" fill="#2e3192"/><circle cx="1254.9" cy="1357.8" r="3.6" fill="#2e3192"/><circle cx="1265.5" cy="1357.8" r="3.6" fill="#2e3192"/><circle cx="1275.6" cy="1357.8" r="3.6" fill="#2e3192"/><circle cx="1279" cy="1357.8" r="3.6" fill="#d2692e"/><circle cx="1289.1" cy="1357.8" r="3.6" fill="#d01c2a"/><circle cx="1292.5" cy="1357.8" r="3.6" fill="#d2692e"/><circle cx="1305.9" cy="1357.8" r="3.6" fill="#d2692e"/><circle cx="1319" cy="1357.8" r="3.6" fill="#2fa44f"/><circle cx="1324.5" cy="1357.8" r="3.6" fill="#2fa44f"/><circle cx="1370" cy="1357.8" r="3.6" fill="#29abe2"/><circle cx="1374.2" cy="1357.8" r="3.6" fill="#2e3192"/><circle cx="916.4" cy="1409.9" r="3.6" fill="#2e3192"/><circle cx="948.5" cy="1409.9" r="3.6" fill="#2e3192"/><circle cx="1030.7" cy="1409.9" r="3.6" fill="#2e3192"/><circle cx="1059.3" cy="1409.9" r="3.6" fill="#d2692e"/><circle cx="1071.6" cy="1409.9" r="3.6" fill="#d2692e"/><circle cx="1137.3" cy="1409.9" r="3.6" fill="#2fa44f"/><circle cx="1149.6" cy="1409.9" r="3.6" fill="#2e3192"/><circle cx="1152.9" cy="1409.9" r="3.6" fill="#d2692e"/><circle cx="1163.9" cy="1409.9" r="3.6" fill="#2e3192"/><circle cx="1166" cy="1409.9" r="3.6" fill="#2e3192"/><circle cx="1178.2" cy="1409.9" r="3.6" fill="#2e3192"/><circle cx="1187.1" cy="1409.9" r="3.6" fill="#1f9c98"/><circle cx="1197.2" cy="1409.9" r="3.6" fill="#2fa44f"/><circle cx="1219.1" cy="1409.9" r="3.6" fill="#2fa44f"/><circle cx="1224.6" cy="1409.9" r="3.6" fill="#2e3192"/><circle cx="1227.1" cy="1409.9" r="3.6" fill="#2e3192"/><circle cx="1230.1" cy="1409.9" r="3.6" fill="#2e3192"/><circle cx="1239.3" cy="1409.9" r="3.6" fill="#2e3192"/><circle cx="1242.7" cy="1409.9" r="3.6" fill="#2e3192"/><circle cx="1250.3" cy="1409.9" r="3.6" fill="#29abe2"/><circle cx="1252.8" cy="1409.9" r="3.6" fill="#2e3192"/><circle cx="1265.5" cy="1409.9" r="3.6" fill="#2e3192"/><circle cx="1268" cy="1409.9" r="3.6" fill="#9ccba4"/><circle cx="1272.2" cy="1409.9" r="3.6" fill="#d2692e"/><circle cx="1275.6" cy="1409.9" r="3.6" fill="#2e3192"/><circle cx="1279" cy="1409.9" r="3.6" fill="#2e3192"/><circle cx="1285.7" cy="1409.9" r="3.6" fill="#2e3192"/><circle cx="1292.5" cy="1409.9" r="3.6" fill="#d2692e"/><circle cx="1299.2" cy="1409.9" r="3.6" fill="#2fa44f"/><circle cx="1305.9" cy="1409.9" r="3.6" fill="#2fa44f"/><circle cx="1324.5" cy="1409.9" r="3.6" fill="#2fa44f"/><circle cx="1327.9" cy="1409.9" r="3.6" fill="#aeb3b5"/><circle cx="1370" cy="1409.9" r="3.6" fill="#29abe2"/><circle cx="862.1" cy="1462" r="3.6" fill="#2e3192"/><circle cx="1030.7" cy="1462" r="3.6" fill="#2e3192"/><circle cx="1128.1" cy="1462" r="3.6" fill="#2e3192"/><circle cx="1137.3" cy="1462" r="3.6" fill="#2fa44f"/><circle cx="1149.6" cy="1462" r="3.6" fill="#2e3192"/><circle cx="1152.9" cy="1462" r="3.6" fill="#d2692e"/><circle cx="1163.9" cy="1462" r="3.6" fill="#d2692e"/><circle cx="1178.2" cy="1462" r="3.6" fill="#2e3192"/><circle cx="1181.6" cy="1462" r="3.6" fill="#2e3192"/><circle cx="1185" cy="1462" r="3.6" fill="#d2692e"/><circle cx="1190.4" cy="1462" r="3.6" fill="#2e3192"/><circle cx="1194.7" cy="1462" r="3.6" fill="#2e3192"/><circle cx="1219.1" cy="1462" r="3.6" fill="#29abe2"/><circle cx="1225.9" cy="1462" r="3.6" fill="#2e3192"/><circle cx="1229.2" cy="1462" r="3.6" fill="#d2692e"/><circle cx="1232.6" cy="1462" r="3.6" fill="#2fa44f"/><circle cx="1239.3" cy="1462" r="3.6" fill="#2e3192"/><circle cx="1242.7" cy="1462" r="3.6" fill="#2e3192"/><circle cx="1248.2" cy="1462" r="3.6" fill="#29abe2"/><circle cx="1251.6" cy="1462" r="3.6" fill="#2e3192"/><circle cx="1254.9" cy="1462" r="3.6" fill="#d2692e"/><circle cx="1270.1" cy="1462" r="3.6" fill="#d2692e"/><circle cx="1289.1" cy="1462" r="3.6" fill="#d2692e"/><circle cx="1292.5" cy="1462" r="3.6" fill="#d01c2a"/><circle cx="1299.2" cy="1462" r="3.6" fill="#2fa44f"/><circle cx="1319" cy="1462" r="3.6" fill="#2fa44f"/><circle cx="1324.5" cy="1462" r="3.6" fill="#9a5a18"/><circle cx="1327.9" cy="1462" r="3.6" fill="#aeb3b5"/><circle cx="1341.4" cy="1462" r="3.6" fill="#d2692e"/><circle cx="1370" cy="1462" r="3.6" fill="#29abe2"/><circle cx="1030.7" cy="1514.1" r="3.6" fill="#2e3192"/><circle cx="1092.6" cy="1514.1" r="3.6" fill="#2e3192"/><circle cx="1180.3" cy="1514.1" r="3.6" fill="#2fa44f"/><circle cx="1187.1" cy="1514.1" r="3.6" fill="#d2692e"/><circle cx="1192.6" cy="1514.1" r="3.6" fill="#d2692e"/><circle cx="1219.1" cy="1514.1" r="3.6" fill="#29abe2"/><circle cx="1224.6" cy="1514.1" r="3.6" fill="#2e3192"/><circle cx="1227.1" cy="1514.1" r="3.6" fill="#5b5f62"/><circle cx="1231.3" cy="1514.1" r="3.6" fill="#1f9c98"/><circle cx="1242.7" cy="1514.1" r="3.6" fill="#d2692e"/><circle cx="1244.8" cy="1514.1" r="3.6" fill="#9ccba4"/><circle cx="1285.7" cy="1514.1" r="3.6" fill="#2e3192"/><circle cx="1292.5" cy="1514.1" r="3.6" fill="#ec3f94"/><circle cx="1299.2" cy="1514.1" r="3.6" fill="#2e3192"/><circle cx="1320.3" cy="1514.1" r="3.6" fill="#d2692e"/><circle cx="1325.8" cy="1514.1" r="3.6" fill="#2e3192"/><circle cx="1341.4" cy="1514.1" r="3.6" fill="#d2692e"/><circle cx="1187.1" cy="1566.2" r="3.6" fill="#d2692e"/><circle cx="1210.3" cy="1566.2" r="3.6" fill="#1f9c98"/><circle cx="1231.3" cy="1566.2" r="3.6" fill="#1f9c98"/><circle cx="1265.9" cy="1566.2" r="3.6" fill="#d01c2a"/><circle cx="1291.2" cy="1566.2" r="3.6" fill="#2e3192"/></g>
<path d="M836 1322.9L1400.4 1392" stroke="#000" stroke-width="2.3" fill="none"/>
<text x="811.8" y="1627.8" text-anchor="middle" font-size="28" fill="#4d4d4d">0</text>
<text x="811.8" y="1471.5" text-anchor="middle" font-size="28" fill="#4d4d4d">3</text>
<text x="811.8" y="1315.2" text-anchor="middle" font-size="28" fill="#4d4d4d">6</text>
<text x="811.8" y="1158.9" text-anchor="middle" font-size="28" fill="#4d4d4d">9</text>
<text x="811.8" y="1002.6" text-anchor="middle" font-size="28" fill="#4d4d4d">12</text>
<path d="M831.1 1618.3H836M831.1 1462H836M831.1 1305.7H836M831.1 1149.4H836M831.1 993.1H836" stroke="#333" stroke-width="1.8" fill="none"/>
<text transform="translate(949.1,1642.3) rotate(-90)" text-anchor="end" font-size="28.4" fill="#4d4d4d">300</text>
<text transform="translate(1060.1,1642.3) rotate(-90)" text-anchor="end" font-size="28.4" fill="#4d4d4d">400</text>
<text transform="translate(1171.1,1642.3) rotate(-90)" text-anchor="end" font-size="28.4" fill="#4d4d4d">500</text>
<text transform="translate(1282.1,1642.3) rotate(-90)" text-anchor="end" font-size="28.4" fill="#4d4d4d">600</text>
<text transform="translate(1393.1,1642.3) rotate(-90)" text-anchor="end" font-size="28.4" fill="#4d4d4d">700</text>
<path d="M929.5 1633.3V1638.2M1040.5 1633.3V1638.2M1151.5 1633.3V1638.2M1262.5 1633.3V1638.2M1373.5 1633.3V1638.2" stroke="#333" stroke-width="1.8" fill="none"/>
<text transform="translate(770.7,1305.3) rotate(-90)" text-anchor="middle" font-size="32" font-weight="bold" fill="#000">Richness</text>
<text x="1118.8" y="1743.3" text-anchor="middle" font-size="32" font-weight="bold" fill="#000">Total phosphorus (mg/kg)</text>
<text x="731.5" y="978.7" font-size="24.8" font-weight="bold" fill="#000">E</text>
<rect x="1556.3" y="977.4" width="564.4" height="655.9" fill="#e4e6e9"/>
<path d="M1605.4 977.4V1633.3M1765.2 977.4V1633.3M1925 977.4V1633.3M2084.8 977.4V1633.3M1556.3 1540.1H2120.7M1556.3 1383.8H2120.7M1556.3 1227.5H2120.7M1556.3 1071.2H2120.7" stroke="#fbfcfc" stroke-width="1.15" fill="none"/>
<path d="M1685.3 977.4V1633.3M1845.1 977.4V1633.3M2004.9 977.4V1633.3M1556.3 1618.3H2120.7M1556.3 1462H2120.7M1556.3 1305.7H2120.7M1556.3 1149.4H2120.7M1556.3 993.1H2120.7" stroke="#ffffff" stroke-width="2" fill="none"/>
<g fill="#1e1e1e"><circle cx="1934.8" cy="1045.2" r="4.7"/><circle cx="1912.1" cy="1149.4" r="4.7"/><circle cx="1918.8" cy="1149.4" r="4.7"/><circle cx="1969.8" cy="1149.4" r="4.7"/><circle cx="2027.6" cy="1149.4" r="4.7"/><circle cx="1816" cy="1201.5" r="4.7"/><circle cx="1851.4" cy="1201.5" r="4.7"/><circle cx="1854.7" cy="1201.5" r="4.7"/><circle cx="1880.5" cy="1201.5" r="4.7"/><circle cx="1886.8" cy="1201.5" r="4.7"/><circle cx="1889.7" cy="1201.5" r="4.7"/><circle cx="1899.4" cy="1201.5" r="4.7"/><circle cx="1912.1" cy="1201.5" r="4.7"/><circle cx="1921.8" cy="1201.5" r="4.7"/><circle cx="1934.8" cy="1201.5" r="4.7"/><circle cx="1937.8" cy="1201.5" r="4.7"/><circle cx="1979.5" cy="1201.5" r="4.7"/><circle cx="2027.6" cy="1201.5" r="4.7"/><circle cx="2053.3" cy="1201.5" r="4.7"/><circle cx="2063" cy="1201.5" r="4.7"/><circle cx="1824.8" cy="1253.6" r="4.7"/><circle cx="1826.5" cy="1253.6" r="4.7"/><circle cx="1851.4" cy="1253.6" r="4.7"/><circle cx="1854.7" cy="1253.6" r="4.7"/><circle cx="1867.4" cy="1253.6" r="4.7"/><circle cx="1870.8" cy="1253.6" r="4.7"/><circle cx="1880.5" cy="1253.6" r="4.7"/><circle cx="1886.8" cy="1253.6" r="4.7"/><circle cx="1896.5" cy="1253.6" r="4.7"/><circle cx="1918.8" cy="1253.6" r="4.7"/><circle cx="1921.8" cy="1253.6" r="4.7"/><circle cx="1934.8" cy="1253.6" r="4.7"/><circle cx="1937.8" cy="1253.6" r="4.7"/><circle cx="1947.5" cy="1253.6" r="4.7"/><circle cx="1957.2" cy="1253.6" r="4.7"/><circle cx="1969.8" cy="1253.6" r="4.7"/><circle cx="1979.5" cy="1253.6" r="4.7"/><circle cx="2027.6" cy="1253.6" r="4.7"/><circle cx="1582" cy="1305.7" r="4.7"/><circle cx="1816" cy="1305.7" r="4.7"/><circle cx="1851.4" cy="1305.7" r="4.7"/><circle cx="1854.7" cy="1305.7" r="4.7"/><circle cx="1864.4" cy="1305.7" r="4.7"/><circle cx="1867.4" cy="1305.7" r="4.7"/><circle cx="1873.7" cy="1305.7" r="4.7"/><circle cx="1883.4" cy="1305.7" r="4.7"/><circle cx="1899.4" cy="1305.7" r="4.7"/><circle cx="1902.8" cy="1305.7" r="4.7"/><circle cx="1912.1" cy="1305.7" r="4.7"/><circle cx="1918.8" cy="1305.7" r="4.7"/><circle cx="1921.8" cy="1305.7" r="4.7"/><circle cx="1925.1" cy="1305.7" r="4.7"/><circle cx="1931.5" cy="1305.7" r="4.7"/><circle cx="1937.8" cy="1305.7" r="4.7"/><circle cx="1947.5" cy="1305.7" r="4.7"/><circle cx="1957.2" cy="1305.7" r="4.7"/><circle cx="1976.1" cy="1305.7" r="4.7"/><circle cx="1979.5" cy="1305.7" r="4.7"/><circle cx="2011.6" cy="1305.7" r="4.7"/><circle cx="2030.9" cy="1305.7" r="4.7"/><circle cx="2053.3" cy="1305.7" r="4.7"/><circle cx="2082" cy="1305.7" r="4.7"/><circle cx="1582" cy="1357.8" r="4.7"/><circle cx="1835.3" cy="1357.8" r="4.7"/><circle cx="1851.4" cy="1357.8" r="4.7"/><circle cx="1854.7" cy="1357.8" r="4.7"/><circle cx="1864.4" cy="1357.8" r="4.7"/><circle cx="1867.4" cy="1357.8" r="4.7"/><circle cx="1873.7" cy="1357.8" r="4.7"/><circle cx="1880.5" cy="1357.8" r="4.7"/><circle cx="1883.4" cy="1357.8" r="4.7"/><circle cx="1886.8" cy="1357.8" r="4.7"/><circle cx="1893.1" cy="1357.8" r="4.7"/><circle cx="1899.4" cy="1357.8" r="4.7"/><circle cx="1902.8" cy="1357.8" r="4.7"/><circle cx="1918.8" cy="1357.8" r="4.7"/><circle cx="1921.8" cy="1357.8" r="4.7"/><circle cx="1925.1" cy="1357.8" r="4.7"/><circle cx="1931.5" cy="1357.8" r="4.7"/><circle cx="1934.8" cy="1357.8" r="4.7"/><circle cx="1947.5" cy="1357.8" r="4.7"/><circle cx="1950.9" cy="1357.8" r="4.7"/><circle cx="1957.2" cy="1357.8" r="4.7"/><circle cx="1976.1" cy="1357.8" r="4.7"/><circle cx="1995.5" cy="1357.8" r="4.7"/><circle cx="2014.9" cy="1357.8" r="4.7"/><circle cx="2033.9" cy="1357.8" r="4.7"/><circle cx="2040.6" cy="1357.8" r="4.7"/><circle cx="2095" cy="1357.8" r="4.7"/><circle cx="1822.3" cy="1409.9" r="4.7"/><circle cx="1824.8" cy="1409.9" r="4.7"/><circle cx="1835.3" cy="1409.9" r="4.7"/><circle cx="1841.7" cy="1409.9" r="4.7"/><circle cx="1848" cy="1409.9" r="4.7"/><circle cx="1854.7" cy="1409.9" r="4.7"/><circle cx="1867.4" cy="1409.9" r="4.7"/><circle cx="1870.8" cy="1409.9" r="4.7"/><circle cx="1873.7" cy="1409.9" r="4.7"/><circle cx="1880.5" cy="1409.9" r="4.7"/><circle cx="1886.8" cy="1409.9" r="4.7"/><circle cx="1889.7" cy="1409.9" r="4.7"/><circle cx="1899.4" cy="1409.9" r="4.7"/><circle cx="1902.8" cy="1409.9" r="4.7"/><circle cx="1912.1" cy="1409.9" r="4.7"/><circle cx="1918.8" cy="1409.9" r="4.7"/><circle cx="1921.8" cy="1409.9" r="4.7"/><circle cx="1925.1" cy="1409.9" r="4.7"/><circle cx="1931.5" cy="1409.9" r="4.7"/><circle cx="1937.8" cy="1409.9" r="4.7"/><circle cx="1944.5" cy="1409.9" r="4.7"/><circle cx="1947.5" cy="1409.9" r="4.7"/><circle cx="1953.8" cy="1409.9" r="4.7"/><circle cx="1963.5" cy="1409.9" r="4.7"/><circle cx="1995.5" cy="1409.9" r="4.7"/><circle cx="2008.2" cy="1409.9" r="4.7"/><circle cx="2014.9" cy="1409.9" r="4.7"/><circle cx="2040.6" cy="1409.9" r="4.7"/><circle cx="2049.9" cy="1409.9" r="4.7"/><circle cx="2063" cy="1409.9" r="4.7"/><circle cx="2082" cy="1409.9" r="4.7"/><circle cx="2095" cy="1409.9" r="4.7"/><circle cx="1816" cy="1462" r="4.7"/><circle cx="1851.4" cy="1462" r="4.7"/><circle cx="1867.4" cy="1462" r="4.7"/><circle cx="1870.8" cy="1462" r="4.7"/><circle cx="1873.7" cy="1462" r="4.7"/><circle cx="1880.5" cy="1462" r="4.7"/><circle cx="1883.4" cy="1462" r="4.7"/><circle cx="1886.8" cy="1462" r="4.7"/><circle cx="1889.7" cy="1462" r="4.7"/><circle cx="1893.1" cy="1462" r="4.7"/><circle cx="1899.4" cy="1462" r="4.7"/><circle cx="1902.8" cy="1462" r="4.7"/><circle cx="1912.1" cy="1462" r="4.7"/><circle cx="1918.8" cy="1462" r="4.7"/><circle cx="1921.8" cy="1462" r="4.7"/><circle cx="1925.1" cy="1462" r="4.7"/><circle cx="1931.5" cy="1462" r="4.7"/><circle cx="1934.8" cy="1462" r="4.7"/><circle cx="1944.5" cy="1462" r="4.7"/><circle cx="1950.9" cy="1462" r="4.7"/><circle cx="1953.8" cy="1462" r="4.7"/><circle cx="1976.1" cy="1462" r="4.7"/><circle cx="2040.6" cy="1462" r="4.7"/><circle cx="2075.6" cy="1462" r="4.7"/><circle cx="2082" cy="1462" r="4.7"/><circle cx="2095" cy="1462" r="4.7"/><circle cx="1883.4" cy="1514.1" r="4.7"/><circle cx="1886.8" cy="1514.1" r="4.7"/><circle cx="1902.8" cy="1514.1" r="4.7"/><circle cx="1918.8" cy="1514.1" r="4.7"/><circle cx="1921.8" cy="1514.1" r="4.7"/><circle cx="1925.1" cy="1514.1" r="4.7"/><circle cx="1931.5" cy="1514.1" r="4.7"/><circle cx="1937.8" cy="1514.1" r="4.7"/><circle cx="1950.9" cy="1514.1" r="4.7"/><circle cx="1953.8" cy="1514.1" r="4.7"/><circle cx="1995.5" cy="1514.1" r="4.7"/><circle cx="2040.6" cy="1514.1" r="4.7"/><circle cx="2049.9" cy="1514.1" r="4.7"/><circle cx="2075.6" cy="1514.1" r="4.7"/><circle cx="2091.6" cy="1514.1" r="4.7"/><circle cx="1886.8" cy="1566.2" r="4.7"/><circle cx="1902.8" cy="1566.2" r="4.7"/><circle cx="1918.8" cy="1566.2" r="4.7"/><circle cx="1931.5" cy="1566.2" r="4.7"/><circle cx="1976.1" cy="1566.2" r="4.7"/></g>
<g><circle cx="1934.8" cy="1045.2" r="3.6" fill="#2e3192"/><circle cx="1912.1" cy="1149.4" r="3.6" fill="#2e3192"/><circle cx="1918.8" cy="1149.4" r="3.6" fill="#d2692e"/><circle cx="1969.8" cy="1149.4" r="3.6" fill="#2e3192"/><circle cx="2027.6" cy="1149.4" r="3.6" fill="#5b5f62"/><circle cx="1816" cy="1201.5" r="3.6" fill="#2e3192"/><circle cx="1851.4" cy="1201.5" r="3.6" fill="#2e3192"/><circle cx="1854.7" cy="1201.5" r="3.6" fill="#2e3192"/><circle cx="1880.5" cy="1201.5" r="3.6" fill="#d2692e"/><circle cx="1886.8" cy="1201.5" r="3.6" fill="#2e3192"/><circle cx="1889.7" cy="1201.5" r="3.6" fill="#2fa44f"/><circle cx="1899.4" cy="1201.5" r="3.6" fill="#2e3192"/><circle cx="1912.1" cy="1201.5" r="3.6" fill="#d2692e"/><circle cx="1921.8" cy="1201.5" r="3.6" fill="#2fa44f"/><circle cx="1934.8" cy="1201.5" r="3.6" fill="#2e3192"/><circle cx="1937.8" cy="1201.5" r="3.6" fill="#d2692e"/><circle cx="1979.5" cy="1201.5" r="3.6" fill="#2fa44f"/><circle cx="2027.6" cy="1201.5" r="3.6" fill="#5b5f62"/><circle cx="2053.3" cy="1201.5" r="3.6" fill="#2e3192"/><circle cx="2063" cy="1201.5" r="3.6" fill="#2fa44f"/><circle cx="1824.8" cy="1253.6" r="3.6" fill="#2e3192"/><circle cx="1826.5" cy="1253.6" r="3.6" fill="#2e3192"/><circle cx="1851.4" cy="1253.6" r="3.6" fill="#2e3192"/><circle cx="1854.7" cy="1253.6" r="3.6" fill="#2e3192"/><circle cx="1867.4" cy="1253.6" r="3.6" fill="#2e3192"/><circle cx="1870.8" cy="1253.6" r="3.6" fill="#2e3192"/><circle cx="1880.5" cy="1253.6" r="3.6" fill="#d2692e"/><circle cx="1886.8" cy="1253.6" r="3.6" fill="#2e3192"/><circle cx="1896.5" cy="1253.6" r="3.6" fill="#2e3192"/><circle cx="1918.8" cy="1253.6" r="3.6" fill="#1f9c98"/><circle cx="1921.8" cy="1253.6" r="3.6" fill="#d2692e"/><circle cx="1934.8" cy="1253.6" r="3.6" fill="#2e3192"/><circle cx="1937.8" cy="1253.6" r="3.6" fill="#d2692e"/><circle cx="1947.5" cy="1253.6" r="3.6" fill="#2e3192"/><circle cx="1957.2" cy="1253.6" r="3.6" fill="#2fa44f"/><circle cx="1969.8" cy="1253.6" r="3.6" fill="#2e3192"/><circle cx="1979.5" cy="1253.6" r="3.6" fill="#2e3192"/><circle cx="2027.6" cy="1253.6" r="3.6" fill="#5b5f62"/><circle cx="1582" cy="1305.7" r="3.6" fill="#2e3192"/><circle cx="1816" cy="1305.7" r="3.6" fill="#2e3192"/><circle cx="1851.4" cy="1305.7" r="3.6" fill="#2e3192"/><circle cx="1854.7" cy="1305.7" r="3.6" fill="#d2692e"/><circle cx="1864.4" cy="1305.7" r="3.6" fill="#2e3192"/><circle cx="1867.4" cy="1305.7" r="3.6" fill="#2e3192"/><circle cx="1873.7" cy="1305.7" r="3.6" fill="#d2692e"/><circle cx="1883.4" cy="1305.7" r="3.6" fill="#2e3192"/><circle cx="1899.4" cy="1305.7" r="3.6" fill="#2e3192"/><circle cx="1902.8" cy="1305.7" r="3.6" fill="#2fa44f"/><circle cx="1912.1" cy="1305.7" r="3.6" fill="#2e3192"/><circle cx="1918.8" cy="1305.7" r="3.6" fill="#d2692e"/><circle cx="1921.8" cy="1305.7" r="3.6" fill="#d2692e"/><circle cx="1925.1" cy="1305.7" r="3.6" fill="#d2692e"/><circle cx="1931.5" cy="1305.7" r="3.6" fill="#2e3192"/><circle cx="1937.8" cy="1305.7" r="3.6" fill="#d2692e"/><circle cx="1947.5" cy="1305.7" r="3.6" fill="#2e3192"/><circle cx="1957.2" cy="1305.7" r="3.6" fill="#2e3192"/><circle cx="1976.1" cy="1305.7" r="3.6" fill="#d01c2a"/><circle cx="1979.5" cy="1305.7" r="3.6" fill="#2e3192"/><circle cx="2011.6" cy="1305.7" r="3.6" fill="#2fa44f"/><circle cx="2030.9" cy="1305.7" r="3.6" fill="#2fa44f"/><circle cx="2053.3" cy="1305.7" r="3.6" fill="#2e3192"/><circle cx="2082" cy="1305.7" r="3.6" fill="#aeb3b5"/><circle cx="1582" cy="1357.8" r="3.6" fill="#2e3192"/><circle cx="1835.3" cy="1357.8" r="3.6" fill="#2e3192"/><circle cx="1851.4" cy="1357.8" r="3.6" fill="#2e3192"/><circle cx="1854.7" cy="1357.8" r="3.6" fill="#2e3192"/><circle cx="1864.4" cy="1357.8" r="3.6" fill="#2e3192"/><circle cx="1867.4" cy="1357.8" r="3.6" fill="#2e3192"/><circle cx="1873.7" cy="1357.8" r="3.6" fill="#d2692e"/><circle cx="1880.5" cy="1357.8" r="3.6" fill="#1f9c98"/><circle cx="1883.4" cy="1357.8" r="3.6" fill="#29abe2"/><circle cx="1886.8" cy="1357.8" r="3.6" fill="#d2692e"/><circle cx="1893.1" cy="1357.8" r="3.6" fill="#d2692e"/><circle cx="1899.4" cy="1357.8" r="3.6" fill="#2e3192"/><circle cx="1902.8" cy="1357.8" r="3.6" fill="#2e3192"/><circle cx="1918.8" cy="1357.8" r="3.6" fill="#2fa44f"/><circle cx="1921.8" cy="1357.8" r="3.6" fill="#2fa44f"/><circle cx="1925.1" cy="1357.8" r="3.6" fill="#2fa44f"/><circle cx="1931.5" cy="1357.8" r="3.6" fill="#2e3192"/><circle cx="1934.8" cy="1357.8" r="3.6" fill="#2e3192"/><circle cx="1947.5" cy="1357.8" r="3.6" fill="#2e3192"/><circle cx="1950.9" cy="1357.8" r="3.6" fill="#d2692e"/><circle cx="1957.2" cy="1357.8" r="3.6" fill="#2e3192"/><circle cx="1976.1" cy="1357.8" r="3.6" fill="#d2692e"/><circle cx="1995.5" cy="1357.8" r="3.6" fill="#5b5f62"/><circle cx="2014.9" cy="1357.8" r="3.6" fill="#5b5f62"/><circle cx="2033.9" cy="1357.8" r="3.6" fill="#2e3192"/><circle cx="2040.6" cy="1357.8" r="3.6" fill="#d2692e"/><circle cx="2095" cy="1357.8" r="3.6" fill="#29abe2"/><circle cx="1822.3" cy="1409.9" r="3.6" fill="#d2692e"/><circle cx="1824.8" cy="1409.9" r="3.6" fill="#2e3192"/><circle cx="1835.3" cy="1409.9" r="3.6" fill="#2e3192"/><circle cx="1841.7" cy="1409.9" r="3.6" fill="#d2692e"/><circle cx="1848" cy="1409.9" r="3.6" fill="#d2692e"/><circle cx="1854.7" cy="1409.9" r="3.6" fill="#2e3192"/><circle cx="1867.4" cy="1409.9" r="3.6" fill="#2e3192"/><circle cx="1870.8" cy="1409.9" r="3.6" fill="#2e3192"/><circle cx="1873.7" cy="1409.9" r="3.6" fill="#d2692e"/><circle cx="1880.5" cy="1409.9" r="3.6" fill="#d2692e"/><circle cx="1886.8" cy="1409.9" r="3.6" fill="#2e3192"/><circle cx="1889.7" cy="1409.9" r="3.6" fill="#2fa44f"/><circle cx="1899.4" cy="1409.9" r="3.6" fill="#2e3192"/><circle cx="1902.8" cy="1409.9" r="3.6" fill="#2fa44f"/><circle cx="1912.1" cy="1409.9" r="3.6" fill="#d2692e"/><circle cx="1918.8" cy="1409.9" r="3.6" fill="#1f9c98"/><circle cx="1921.8" cy="1409.9" r="3.6" fill="#2fa44f"/><circle cx="1925.1" cy="1409.9" r="3.6" fill="#2e3192"/><circle cx="1931.5" cy="1409.9" r="3.6" fill="#2e3192"/><circle cx="1937.8" cy="1409.9" r="3.6" fill="#2e3192"/><circle cx="1944.5" cy="1409.9" r="3.6" fill="#2e3192"/><circle cx="1947.5" cy="1409.9" r="3.6" fill="#2e3192"/><circle cx="1953.8" cy="1409.9" r="3.6" fill="#2fa44f"/><circle cx="1963.5" cy="1409.9" r="3.6" fill="#2e3192"/><circle cx="1995.5" cy="1409.9" r="3.6" fill="#5b5f62"/><circle cx="2008.2" cy="1409.9" r="3.6" fill="#2fa44f"/><circle cx="2014.9" cy="1409.9" r="3.6" fill="#5b5f62"/><circle cx="2040.6" cy="1409.9" r="3.6" fill="#2fa44f"/><circle cx="2049.9" cy="1409.9" r="3.6" fill="#2e3192"/><circle cx="2063" cy="1409.9" r="3.6" fill="#9ccba4"/><circle cx="2082" cy="1409.9" r="3.6" fill="#aeb3b5"/><circle cx="2095" cy="1409.9" r="3.6" fill="#29abe2"/><circle cx="1816" cy="1462" r="3.6" fill="#2e3192"/><circle cx="1851.4" cy="1462" r="3.6" fill="#2e3192"/><circle cx="1867.4" cy="1462" r="3.6" fill="#2e3192"/><circle cx="1870.8" cy="1462" r="3.6" fill="#2e3192"/><circle cx="1873.7" cy="1462" r="3.6" fill="#d2692e"/><circle cx="1880.5" cy="1462" r="3.6" fill="#1f9c98"/><circle cx="1883.4" cy="1462" r="3.6" fill="#2e3192"/><circle cx="1886.8" cy="1462" r="3.6" fill="#d2692e"/><circle cx="1889.7" cy="1462" r="3.6" fill="#2fa44f"/><circle cx="1893.1" cy="1462" r="3.6" fill="#d2692e"/><circle cx="1899.4" cy="1462" r="3.6" fill="#2e3192"/><circle cx="1902.8" cy="1462" r="3.6" fill="#2fa44f"/><circle cx="1912.1" cy="1462" r="3.6" fill="#2e3192"/><circle cx="1918.8" cy="1462" r="3.6" fill="#ec3f94"/><circle cx="1921.8" cy="1462" r="3.6" fill="#2e3192"/><circle cx="1925.1" cy="1462" r="3.6" fill="#d2692e"/><circle cx="1931.5" cy="1462" r="3.6" fill="#2e3192"/><circle cx="1934.8" cy="1462" r="3.6" fill="#2e3192"/><circle cx="1944.5" cy="1462" r="3.6" fill="#2e3192"/><circle cx="1950.9" cy="1462" r="3.6" fill="#2e3192"/><circle cx="1953.8" cy="1462" r="3.6" fill="#29abe2"/><circle cx="1976.1" cy="1462" r="3.6" fill="#d2692e"/><circle cx="2040.6" cy="1462" r="3.6" fill="#d2692e"/><circle cx="2075.6" cy="1462" r="3.6" fill="#d2692e"/><circle cx="2082" cy="1462" r="3.6" fill="#aeb3b5"/><circle cx="2095" cy="1462" r="3.6" fill="#29abe2"/><circle cx="1883.4" cy="1514.1" r="3.6" fill="#2e3192"/><circle cx="1886.8" cy="1514.1" r="3.6" fill="#2e3192"/><circle cx="1902.8" cy="1514.1" r="3.6" fill="#2e3192"/><circle cx="1918.8" cy="1514.1" r="3.6" fill="#d2692e"/><circle cx="1921.8" cy="1514.1" r="3.6" fill="#2e3192"/><circle cx="1925.1" cy="1514.1" r="3.6" fill="#2e3192"/><circle cx="1931.5" cy="1514.1" r="3.6" fill="#1f9c98"/><circle cx="1937.8" cy="1514.1" r="3.6" fill="#2e3192"/><circle cx="1950.9" cy="1514.1" r="3.6" fill="#2e3192"/><circle cx="1953.8" cy="1514.1" r="3.6" fill="#29abe2"/><circle cx="1995.5" cy="1514.1" r="3.6" fill="#5b5f62"/><circle cx="2040.6" cy="1514.1" r="3.6" fill="#2fa44f"/><circle cx="2049.9" cy="1514.1" r="3.6" fill="#2e3192"/><circle cx="2075.6" cy="1514.1" r="3.6" fill="#d2692e"/><circle cx="2091.6" cy="1514.1" r="3.6" fill="#9ccba4"/><circle cx="1886.8" cy="1566.2" r="3.6" fill="#1f9c98"/><circle cx="1902.8" cy="1566.2" r="3.6" fill="#2e3192"/><circle cx="1918.8" cy="1566.2" r="3.6" fill="#d2692e"/><circle cx="1931.5" cy="1566.2" r="3.6" fill="#1f9c98"/><circle cx="1976.1" cy="1566.2" r="3.6" fill="#d01c2a"/></g>
<path d="M1556.3 1325L2120.7 1395.2" stroke="#000" stroke-width="2.3" fill="none"/>
<text x="1532.1" y="1627.8" text-anchor="middle" font-size="28" fill="#4d4d4d">0</text>
<text x="1532.1" y="1471.5" text-anchor="middle" font-size="28" fill="#4d4d4d">3</text>
<text x="1532.1" y="1315.2" text-anchor="middle" font-size="28" fill="#4d4d4d">6</text>
<text x="1532.1" y="1158.9" text-anchor="middle" font-size="28" fill="#4d4d4d">9</text>
<text x="1532.1" y="1002.6" text-anchor="middle" font-size="28" fill="#4d4d4d">12</text>
<path d="M1551.4 1618.3H1556.3M1551.4 1462H1556.3M1551.4 1305.7H1556.3M1551.4 1149.4H1556.3M1551.4 993.1H1556.3" stroke="#333" stroke-width="1.8" fill="none"/>
<text transform="translate(1704.9,1642.3) rotate(-90)" text-anchor="end" font-size="28.4" fill="#4d4d4d">5</text>
<text transform="translate(1864.7,1642.3) rotate(-90)" text-anchor="end" font-size="28.4" fill="#4d4d4d">10</text>
<text transform="translate(2024.5,1642.3) rotate(-90)" text-anchor="end" font-size="28.4" fill="#4d4d4d">15</text>
<path d="M1685.3 1633.3V1638.2M1845.1 1633.3V1638.2M2004.9 1633.3V1638.2" stroke="#333" stroke-width="1.8" fill="none"/>
<text transform="translate(1491,1305.3) rotate(-90)" text-anchor="middle" font-size="32" font-weight="bold" fill="#000">Richness</text>
<text x="1839" y="1743.3" text-anchor="middle" font-size="32" font-weight="bold" fill="#000">Organic content (g/kg)</text>
<text x="1456.5" y="978.7" font-size="24.8" font-weight="bold" fill="#000">F</text>
<rect x="116" y="1938" width="564" height="656" fill="#e4e6e9"/>
<path d="M189.7 1938V2594M315.9 1938V2594M442.2 1938V2594M568.5 1938V2594M116 2500.8H680M116 2344.3H680M116 2187.9H680M116 2031.4H680" stroke="#fbfcfc" stroke-width="1.15" fill="none"/>
<path d="M126.5 1938V2594M252.8 1938V2594M379.1 1938V2594M505.4 1938V2594M631.7 1938V2594M116 2579H680M116 2422.6H680M116 2266.1H680M116 2109.7H680M116 1953.2H680" stroke="#ffffff" stroke-width="2" fill="none"/>
<g fill="#1e1e1e"><circle cx="502.9" cy="2005.3" r="4.7"/><circle cx="376.4" cy="2109.7" r="4.7"/><circle cx="378.1" cy="2109.7" r="4.7"/><circle cx="406.4" cy="2109.7" r="4.7"/><circle cx="599" cy="2109.7" r="4.7"/><circle cx="654.2" cy="2109.7" r="4.7"/><circle cx="302.7" cy="2161.8" r="4.7"/><circle cx="305.2" cy="2161.8" r="4.7"/><circle cx="330.9" cy="2161.8" r="4.7"/><circle cx="360.4" cy="2161.8" r="4.7"/><circle cx="373.9" cy="2161.8" r="4.7"/><circle cx="381.1" cy="2161.8" r="4.7"/><circle cx="421.1" cy="2161.8" r="4.7"/><circle cx="427" cy="2161.8" r="4.7"/><circle cx="429.1" cy="2161.8" r="4.7"/><circle cx="431.7" cy="2161.8" r="4.7"/><circle cx="439.3" cy="2161.8" r="4.7"/><circle cx="456.1" cy="2161.8" r="4.7"/><circle cx="475.1" cy="2161.8" r="4.7"/><circle cx="483.1" cy="2161.8" r="4.7"/><circle cx="489" cy="2161.8" r="4.7"/><circle cx="521.9" cy="2161.8" r="4.7"/><circle cx="524.4" cy="2161.8" r="4.7"/><circle cx="569.9" cy="2161.8" r="4.7"/><circle cx="586.4" cy="2161.8" r="4.7"/><circle cx="633.6" cy="2161.8" r="4.7"/><circle cx="243.2" cy="2213.9" r="4.7"/><circle cx="253.8" cy="2213.9" r="4.7"/><circle cx="269.8" cy="2213.9" r="4.7"/><circle cx="274.8" cy="2213.9" r="4.7"/><circle cx="278.2" cy="2213.9" r="4.7"/><circle cx="281.2" cy="2213.9" r="4.7"/><circle cx="296.8" cy="2213.9" r="4.7"/><circle cx="318.3" cy="2213.9" r="4.7"/><circle cx="323.3" cy="2213.9" r="4.7"/><circle cx="343.1" cy="2213.9" r="4.7"/><circle cx="359.2" cy="2213.9" r="4.7"/><circle cx="363.8" cy="2213.9" r="4.7"/><circle cx="383.6" cy="2213.9" r="4.7"/><circle cx="414.8" cy="2213.9" r="4.7"/><circle cx="459.9" cy="2213.9" r="4.7"/><circle cx="468.8" cy="2213.9" r="4.7"/><circle cx="473.8" cy="2213.9" r="4.7"/><circle cx="481.8" cy="2213.9" r="4.7"/><circle cx="529" cy="2213.9" r="4.7"/><circle cx="531.1" cy="2213.9" r="4.7"/><circle cx="541.3" cy="2213.9" r="4.7"/><circle cx="549.7" cy="2213.9" r="4.7"/><circle cx="649.2" cy="2213.9" r="4.7"/><circle cx="195.2" cy="2266.1" r="4.7"/><circle cx="202.8" cy="2266.1" r="4.7"/><circle cx="226.8" cy="2266.1" r="4.7"/><circle cx="229.7" cy="2266.1" r="4.7"/><circle cx="250" cy="2266.1" r="4.7"/><circle cx="252.9" cy="2266.1" r="4.7"/><circle cx="261.4" cy="2266.1" r="4.7"/><circle cx="264.3" cy="2266.1" r="4.7"/><circle cx="290.9" cy="2266.1" r="4.7"/><circle cx="298.5" cy="2266.1" r="4.7"/><circle cx="307.7" cy="2266.1" r="4.7"/><circle cx="313.2" cy="2266.1" r="4.7"/><circle cx="330.1" cy="2266.1" r="4.7"/><circle cx="341.5" cy="2266.1" r="4.7"/><circle cx="344.8" cy="2266.1" r="4.7"/><circle cx="347.8" cy="2266.1" r="4.7"/><circle cx="353.3" cy="2266.1" r="4.7"/><circle cx="356.6" cy="2266.1" r="4.7"/><circle cx="372.6" cy="2266.1" r="4.7"/><circle cx="376" cy="2266.1" r="4.7"/><circle cx="380.2" cy="2266.1" r="4.7"/><circle cx="395.8" cy="2266.1" r="4.7"/><circle cx="411.9" cy="2266.1" r="4.7"/><circle cx="414.4" cy="2266.1" r="4.7"/><circle cx="441.8" cy="2266.1" r="4.7"/><circle cx="449.4" cy="2266.1" r="4.7"/><circle cx="453.6" cy="2266.1" r="4.7"/><circle cx="468.3" cy="2266.1" r="4.7"/><circle cx="473.8" cy="2266.1" r="4.7"/><circle cx="492.4" cy="2266.1" r="4.7"/><circle cx="518.5" cy="2266.1" r="4.7"/><circle cx="524.8" cy="2266.1" r="4.7"/><circle cx="529" cy="2266.1" r="4.7"/><circle cx="536.6" cy="2266.1" r="4.7"/><circle cx="160.6" cy="2318.2" r="4.7"/><circle cx="175.8" cy="2318.2" r="4.7"/><circle cx="179.2" cy="2318.2" r="4.7"/><circle cx="214.6" cy="2318.2" r="4.7"/><circle cx="234" cy="2318.2" r="4.7"/><circle cx="252.5" cy="2318.2" r="4.7"/><circle cx="260.5" cy="2318.2" r="4.7"/><circle cx="263.5" cy="2318.2" r="4.7"/><circle cx="266.4" cy="2318.2" r="4.7"/><circle cx="273.6" cy="2318.2" r="4.7"/><circle cx="296.3" cy="2318.2" r="4.7"/><circle cx="301.4" cy="2318.2" r="4.7"/><circle cx="304.4" cy="2318.2" r="4.7"/><circle cx="311.5" cy="2318.2" r="4.7"/><circle cx="317.8" cy="2318.2" r="4.7"/><circle cx="345.2" cy="2318.2" r="4.7"/><circle cx="347.8" cy="2318.2" r="4.7"/><circle cx="355.4" cy="2318.2" r="4.7"/><circle cx="358.7" cy="2318.2" r="4.7"/><circle cx="369.7" cy="2318.2" r="4.7"/><circle cx="372.2" cy="2318.2" r="4.7"/><circle cx="375.2" cy="2318.2" r="4.7"/><circle cx="391.2" cy="2318.2" r="4.7"/><circle cx="393.3" cy="2318.2" r="4.7"/><circle cx="402.2" cy="2318.2" r="4.7"/><circle cx="413.1" cy="2318.2" r="4.7"/><circle cx="424.9" cy="2318.2" r="4.7"/><circle cx="427.9" cy="2318.2" r="4.7"/><circle cx="432.9" cy="2318.2" r="4.7"/><circle cx="435.9" cy="2318.2" r="4.7"/><circle cx="438.8" cy="2318.2" r="4.7"/><circle cx="451.5" cy="2318.2" r="4.7"/><circle cx="466.2" cy="2318.2" r="4.7"/><circle cx="470.9" cy="2318.2" r="4.7"/><circle cx="505.4" cy="2318.2" r="4.7"/><circle cx="521.5" cy="2318.2" r="4.7"/><circle cx="557.3" cy="2318.2" r="4.7"/><circle cx="179.6" cy="2370.4" r="4.7"/><circle cx="191" cy="2370.4" r="4.7"/><circle cx="207.8" cy="2370.4" r="4.7"/><circle cx="231.4" cy="2370.4" r="4.7"/><circle cx="234.4" cy="2370.4" r="4.7"/><circle cx="238.2" cy="2370.4" r="4.7"/><circle cx="242" cy="2370.4" r="4.7"/><circle cx="262.2" cy="2370.4" r="4.7"/><circle cx="278.2" cy="2370.4" r="4.7"/><circle cx="281.2" cy="2370.4" r="4.7"/><circle cx="284.1" cy="2370.4" r="4.7"/><circle cx="290.9" cy="2370.4" r="4.7"/><circle cx="295.1" cy="2370.4" r="4.7"/><circle cx="311.9" cy="2370.4" r="4.7"/><circle cx="319.5" cy="2370.4" r="4.7"/><circle cx="323.3" cy="2370.4" r="4.7"/><circle cx="337.7" cy="2370.4" r="4.7"/><circle cx="347.8" cy="2370.4" r="4.7"/><circle cx="349.9" cy="2370.4" r="4.7"/><circle cx="358.7" cy="2370.4" r="4.7"/><circle cx="361.3" cy="2370.4" r="4.7"/><circle cx="364.2" cy="2370.4" r="4.7"/><circle cx="371" cy="2370.4" r="4.7"/><circle cx="377.3" cy="2370.4" r="4.7"/><circle cx="379.8" cy="2370.4" r="4.7"/><circle cx="386.6" cy="2370.4" r="4.7"/><circle cx="389.5" cy="2370.4" r="4.7"/><circle cx="392.9" cy="2370.4" r="4.7"/><circle cx="395.4" cy="2370.4" r="4.7"/><circle cx="398.4" cy="2370.4" r="4.7"/><circle cx="402.6" cy="2370.4" r="4.7"/><circle cx="411" cy="2370.4" r="4.7"/><circle cx="414.4" cy="2370.4" r="4.7"/><circle cx="419.4" cy="2370.4" r="4.7"/><circle cx="422.8" cy="2370.4" r="4.7"/><circle cx="429.1" cy="2370.4" r="4.7"/><circle cx="440.5" cy="2370.4" r="4.7"/><circle cx="465.4" cy="2370.4" r="4.7"/><circle cx="472.1" cy="2370.4" r="4.7"/><circle cx="476.8" cy="2370.4" r="4.7"/><circle cx="485.6" cy="2370.4" r="4.7"/><circle cx="514.3" cy="2370.4" r="4.7"/><circle cx="525.2" cy="2370.4" r="4.7"/><circle cx="159.3" cy="2422.6" r="4.7"/><circle cx="169.5" cy="2422.6" r="4.7"/><circle cx="180.4" cy="2422.6" r="4.7"/><circle cx="191.8" cy="2422.6" r="4.7"/><circle cx="194.3" cy="2422.6" r="4.7"/><circle cx="200.2" cy="2422.6" r="4.7"/><circle cx="203.6" cy="2422.6" r="4.7"/><circle cx="214.6" cy="2422.6" r="4.7"/><circle cx="234.4" cy="2422.6" r="4.7"/><circle cx="254.2" cy="2422.6" r="4.7"/><circle cx="257.1" cy="2422.6" r="4.7"/><circle cx="260.1" cy="2422.6" r="4.7"/><circle cx="273.6" cy="2422.6" r="4.7"/><circle cx="281.2" cy="2422.6" r="4.7"/><circle cx="283.7" cy="2422.6" r="4.7"/><circle cx="286.7" cy="2422.6" r="4.7"/><circle cx="289.2" cy="2422.6" r="4.7"/><circle cx="291.7" cy="2422.6" r="4.7"/><circle cx="306.5" cy="2422.6" r="4.7"/><circle cx="309.8" cy="2422.6" r="4.7"/><circle cx="312.4" cy="2422.6" r="4.7"/><circle cx="320.4" cy="2422.6" r="4.7"/><circle cx="323.3" cy="2422.6" r="4.7"/><circle cx="334.3" cy="2422.6" r="4.7"/><circle cx="337.2" cy="2422.6" r="4.7"/><circle cx="340.6" cy="2422.6" r="4.7"/><circle cx="344" cy="2422.6" r="4.7"/><circle cx="349" cy="2422.6" r="4.7"/><circle cx="359.6" cy="2422.6" r="4.7"/><circle cx="362.1" cy="2422.6" r="4.7"/><circle cx="365.1" cy="2422.6" r="4.7"/><circle cx="373.5" cy="2422.6" r="4.7"/><circle cx="376.4" cy="2422.6" r="4.7"/><circle cx="379.4" cy="2422.6" r="4.7"/><circle cx="389.5" cy="2422.6" r="4.7"/><circle cx="392.5" cy="2422.6" r="4.7"/><circle cx="396.3" cy="2422.6" r="4.7"/><circle cx="399.6" cy="2422.6" r="4.7"/><circle cx="402.6" cy="2422.6" r="4.7"/><circle cx="409.7" cy="2422.6" r="4.7"/><circle cx="423.2" cy="2422.6" r="4.7"/><circle cx="432.9" cy="2422.6" r="4.7"/><circle cx="475.5" cy="2422.6" r="4.7"/><circle cx="141.6" cy="2474.7" r="4.7"/><circle cx="151.8" cy="2474.7" r="4.7"/><circle cx="176.6" cy="2474.7" r="4.7"/><circle cx="179.6" cy="2474.7" r="4.7"/><circle cx="182.1" cy="2474.7" r="4.7"/><circle cx="198.1" cy="2474.7" r="4.7"/><circle cx="205.7" cy="2474.7" r="4.7"/><circle cx="208.7" cy="2474.7" r="4.7"/><circle cx="212" cy="2474.7" r="4.7"/><circle cx="223.8" cy="2474.7" r="4.7"/><circle cx="231" cy="2474.7" r="4.7"/><circle cx="246.6" cy="2474.7" r="4.7"/><circle cx="270.2" cy="2474.7" r="4.7"/><circle cx="273.2" cy="2474.7" r="4.7"/><circle cx="296.8" cy="2474.7" r="4.7"/><circle cx="306.9" cy="2474.7" r="4.7"/><circle cx="317" cy="2474.7" r="4.7"/><circle cx="342.3" cy="2474.7" r="4.7"/><circle cx="355.4" cy="2474.7" r="4.7"/><circle cx="379" cy="2474.7" r="4.7"/><circle cx="397.9" cy="2474.7" r="4.7"/><circle cx="424.1" cy="2474.7" r="4.7"/><circle cx="148.8" cy="2526.8" r="4.7"/><circle cx="162.3" cy="2526.8" r="4.7"/><circle cx="165.7" cy="2526.8" r="4.7"/><circle cx="214.1" cy="2526.8" r="4.7"/><circle cx="360.8" cy="2526.8" r="4.7"/></g>
<g><circle cx="502.9" cy="2005.3" r="3.6" fill="#2e3192"/><circle cx="376.4" cy="2109.7" r="3.6" fill="#2e3192"/><circle cx="378.1" cy="2109.7" r="3.6" fill="#2e3192"/><circle cx="406.4" cy="2109.7" r="3.6" fill="#2e3192"/><circle cx="599" cy="2109.7" r="3.6" fill="#d2692e"/><circle cx="654.2" cy="2109.7" r="3.6" fill="#5b5f62"/><circle cx="302.7" cy="2161.8" r="3.6" fill="#2e3192"/><circle cx="305.2" cy="2161.8" r="3.6" fill="#2e3192"/><circle cx="330.9" cy="2161.8" r="3.6" fill="#2e3192"/><circle cx="360.4" cy="2161.8" r="3.6" fill="#2e3192"/><circle cx="373.9" cy="2161.8" r="3.6" fill="#2e3192"/><circle cx="381.1" cy="2161.8" r="3.6" fill="#d2692e"/><circle cx="421.1" cy="2161.8" r="3.6" fill="#d2692e"/><circle cx="427" cy="2161.8" r="3.6" fill="#2e3192"/><circle cx="429.1" cy="2161.8" r="3.6" fill="#1f9c98"/><circle cx="431.7" cy="2161.8" r="3.6" fill="#2fa44f"/><circle cx="439.3" cy="2161.8" r="3.6" fill="#2e3192"/><circle cx="456.1" cy="2161.8" r="3.6" fill="#2e3192"/><circle cx="475.1" cy="2161.8" r="3.6" fill="#2fa44f"/><circle cx="483.1" cy="2161.8" r="3.6" fill="#2e3192"/><circle cx="489" cy="2161.8" r="3.6" fill="#d2692e"/><circle cx="521.9" cy="2161.8" r="3.6" fill="#2fa44f"/><circle cx="524.4" cy="2161.8" r="3.6" fill="#d2692e"/><circle cx="569.9" cy="2161.8" r="3.6" fill="#2fa44f"/><circle cx="586.4" cy="2161.8" r="3.6" fill="#2e3192"/><circle cx="633.6" cy="2161.8" r="3.6" fill="#5b5f62"/><circle cx="243.2" cy="2213.9" r="3.6" fill="#2e3192"/><circle cx="253.8" cy="2213.9" r="3.6" fill="#2e3192"/><circle cx="269.8" cy="2213.9" r="3.6" fill="#2e3192"/><circle cx="274.8" cy="2213.9" r="3.6" fill="#2e3192"/><circle cx="278.2" cy="2213.9" r="3.6" fill="#2e3192"/><circle cx="281.2" cy="2213.9" r="3.6" fill="#2e3192"/><circle cx="296.8" cy="2213.9" r="3.6" fill="#2e3192"/><circle cx="318.3" cy="2213.9" r="3.6" fill="#2e3192"/><circle cx="323.3" cy="2213.9" r="3.6" fill="#2e3192"/><circle cx="343.1" cy="2213.9" r="3.6" fill="#2e3192"/><circle cx="359.2" cy="2213.9" r="3.6" fill="#2e3192"/><circle cx="363.8" cy="2213.9" r="3.6" fill="#d2692e"/><circle cx="383.6" cy="2213.9" r="3.6" fill="#2e3192"/><circle cx="414.8" cy="2213.9" r="3.6" fill="#2e3192"/><circle cx="459.9" cy="2213.9" r="3.6" fill="#d2692e"/><circle cx="468.8" cy="2213.9" r="3.6" fill="#2e3192"/><circle cx="473.8" cy="2213.9" r="3.6" fill="#2e3192"/><circle cx="481.8" cy="2213.9" r="3.6" fill="#2e3192"/><circle cx="529" cy="2213.9" r="3.6" fill="#d2692e"/><circle cx="531.1" cy="2213.9" r="3.6" fill="#2fa44f"/><circle cx="541.3" cy="2213.9" r="3.6" fill="#1f9c98"/><circle cx="549.7" cy="2213.9" r="3.6" fill="#1f9c98"/><circle cx="649.2" cy="2213.9" r="3.6" fill="#5b5f62"/><circle cx="195.2" cy="2266.1" r="3.6" fill="#2e3192"/><circle cx="202.8" cy="2266.1" r="3.6" fill="#2e3192"/><circle cx="226.8" cy="2266.1" r="3.6" fill="#d2692e"/><circle cx="229.7" cy="2266.1" r="3.6" fill="#2e3192"/><circle cx="250" cy="2266.1" r="3.6" fill="#2e3192"/><circle cx="252.9" cy="2266.1" r="3.6" fill="#2e3192"/><circle cx="261.4" cy="2266.1" r="3.6" fill="#2e3192"/><circle cx="264.3" cy="2266.1" r="3.6" fill="#2e3192"/><circle cx="290.9" cy="2266.1" r="3.6" fill="#2e3192"/><circle cx="298.5" cy="2266.1" r="3.6" fill="#2e3192"/><circle cx="307.7" cy="2266.1" r="3.6" fill="#2e3192"/><circle cx="313.2" cy="2266.1" r="3.6" fill="#d2692e"/><circle cx="330.1" cy="2266.1" r="3.6" fill="#d2692e"/><circle cx="341.5" cy="2266.1" r="3.6" fill="#2e3192"/><circle cx="344.8" cy="2266.1" r="3.6" fill="#2e3192"/><circle cx="347.8" cy="2266.1" r="3.6" fill="#d2692e"/><circle cx="353.3" cy="2266.1" r="3.6" fill="#1f9c98"/><circle cx="356.6" cy="2266.1" r="3.6" fill="#2fa44f"/><circle cx="372.6" cy="2266.1" r="3.6" fill="#2e3192"/><circle cx="376" cy="2266.1" r="3.6" fill="#2e3192"/><circle cx="380.2" cy="2266.1" r="3.6" fill="#2e3192"/><circle cx="395.8" cy="2266.1" r="3.6" fill="#aeb3b5"/><circle cx="411.9" cy="2266.1" r="3.6" fill="#2fa44f"/><circle cx="414.4" cy="2266.1" r="3.6" fill="#2fa44f"/><circle cx="441.8" cy="2266.1" r="3.6" fill="#2fa44f"/><circle cx="449.4" cy="2266.1" r="3.6" fill="#d01c2a"/><circle cx="453.6" cy="2266.1" r="3.6" fill="#2e3192"/><circle cx="468.3" cy="2266.1" r="3.6" fill="#2e3192"/><circle cx="473.8" cy="2266.1" r="3.6" fill="#d2692e"/><circle cx="492.4" cy="2266.1" r="3.6" fill="#d2692e"/><circle cx="518.5" cy="2266.1" r="3.6" fill="#2fa44f"/><circle cx="524.8" cy="2266.1" r="3.6" fill="#d2692e"/><circle cx="529" cy="2266.1" r="3.6" fill="#d2692e"/><circle cx="536.6" cy="2266.1" r="3.6" fill="#2fa44f"/><circle cx="160.6" cy="2318.2" r="3.6" fill="#1f9c98"/><circle cx="175.8" cy="2318.2" r="3.6" fill="#1f9c98"/><circle cx="179.2" cy="2318.2" r="3.6" fill="#2e3192"/><circle cx="214.6" cy="2318.2" r="3.6" fill="#2e3192"/><circle cx="234" cy="2318.2" r="3.6" fill="#2e3192"/><circle cx="252.5" cy="2318.2" r="3.6" fill="#2e3192"/><circle cx="260.5" cy="2318.2" r="3.6" fill="#d2692e"/><circle cx="263.5" cy="2318.2" r="3.6" fill="#d2692e"/><circle cx="266.4" cy="2318.2" r="3.6" fill="#d2692e"/><circle cx="273.6" cy="2318.2" r="3.6" fill="#d2692e"/><circle cx="296.3" cy="2318.2" r="3.6" fill="#d2692e"/><circle cx="301.4" cy="2318.2" r="3.6" fill="#2e3192"/><circle cx="304.4" cy="2318.2" r="3.6" fill="#2e3192"/><circle cx="311.5" cy="2318.2" r="3.6" fill="#2e3192"/><circle cx="317.8" cy="2318.2" r="3.6" fill="#2e3192"/><circle cx="345.2" cy="2318.2" r="3.6" fill="#2e3192"/><circle cx="347.8" cy="2318.2" r="3.6" fill="#5b5f62"/><circle cx="355.4" cy="2318.2" r="3.6" fill="#2e3192"/><circle cx="358.7" cy="2318.2" r="3.6" fill="#2e3192"/><circle cx="369.7" cy="2318.2" r="3.6" fill="#2e3192"/><circle cx="372.2" cy="2318.2" r="3.6" fill="#29abe2"/><circle cx="375.2" cy="2318.2" r="3.6" fill="#2e3192"/><circle cx="391.2" cy="2318.2" r="3.6" fill="#2e3192"/><circle cx="393.3" cy="2318.2" r="3.6" fill="#2e3192"/><circle cx="402.2" cy="2318.2" r="3.6" fill="#2fa44f"/><circle cx="413.1" cy="2318.2" r="3.6" fill="#d2692e"/><circle cx="424.9" cy="2318.2" r="3.6" fill="#9a5a18"/><circle cx="427.9" cy="2318.2" r="3.6" fill="#d2692e"/><circle cx="432.9" cy="2318.2" r="3.6" fill="#2fa44f"/><circle cx="435.9" cy="2318.2" r="3.6" fill="#d2692e"/><circle cx="438.8" cy="2318.2" r="3.6" fill="#2e3192"/><circle cx="451.5" cy="2318.2" r="3.6" fill="#2fa44f"/><circle cx="466.2" cy="2318.2" r="3.6" fill="#2e3192"/><circle cx="470.9" cy="2318.2" r="3.6" fill="#2fa44f"/><circle cx="505.4" cy="2318.2" r="3.6" fill="#29abe2"/><circle cx="521.5" cy="2318.2" r="3.6" fill="#d2692e"/><circle cx="557.3" cy="2318.2" r="3.6" fill="#2e3192"/><circle cx="179.6" cy="2370.4" r="3.6" fill="#2e3192"/><circle cx="191" cy="2370.4" r="3.6" fill="#2e3192"/><circle cx="207.8" cy="2370.4" r="3.6" fill="#2e3192"/><circle cx="231.4" cy="2370.4" r="3.6" fill="#2e3192"/><circle cx="234.4" cy="2370.4" r="3.6" fill="#2e3192"/><circle cx="238.2" cy="2370.4" r="3.6" fill="#2e3192"/><circle cx="242" cy="2370.4" r="3.6" fill="#2e3192"/><circle cx="262.2" cy="2370.4" r="3.6" fill="#1f9c98"/><circle cx="278.2" cy="2370.4" r="3.6" fill="#d2692e"/><circle cx="281.2" cy="2370.4" r="3.6" fill="#2e3192"/><circle cx="284.1" cy="2370.4" r="3.6" fill="#2e3192"/><circle cx="290.9" cy="2370.4" r="3.6" fill="#2e3192"/><circle cx="295.1" cy="2370.4" r="3.6" fill="#d2692e"/><circle cx="311.9" cy="2370.4" r="3.6" fill="#2e3192"/><circle cx="319.5" cy="2370.4" r="3.6" fill="#d2692e"/><circle cx="323.3" cy="2370.4" r="3.6" fill="#2e3192"/><circle cx="337.7" cy="2370.4" r="3.6" fill="#d2692e"/><circle cx="347.8" cy="2370.4" r="3.6" fill="#d2692e"/><circle cx="349.9" cy="2370.4" r="3.6" fill="#d2692e"/><circle cx="358.7" cy="2370.4" r="3.6" fill="#d2692e"/><circle cx="361.3" cy="2370.4" r="3.6" fill="#2fa44f"/><circle cx="364.2" cy="2370.4" r="3.6" fill="#d2692e"/><circle cx="371" cy="2370.4" r="3.6" fill="#d2692e"/><circle cx="377.3" cy="2370.4" r="3.6" fill="#2e3192"/><circle cx="379.8" cy="2370.4" r="3.6" fill="#2e3192"/><circle cx="386.6" cy="2370.4" r="3.6" fill="#d2692e"/><circle cx="389.5" cy="2370.4" r="3.6" fill="#2fa44f"/><circle cx="392.9" cy="2370.4" r="3.6" fill="#2fa44f"/><circle cx="395.4" cy="2370.4" r="3.6" fill="#1f9c98"/><circle cx="398.4" cy="2370.4" r="3.6" fill="#2fa44f"/><circle cx="402.6" cy="2370.4" r="3.6" fill="#2e3192"/><circle cx="411" cy="2370.4" r="3.6" fill="#2e3192"/><circle cx="414.4" cy="2370.4" r="3.6" fill="#2e3192"/><circle cx="419.4" cy="2370.4" r="3.6" fill="#d2692e"/><circle cx="422.8" cy="2370.4" r="3.6" fill="#d2692e"/><circle cx="429.1" cy="2370.4" r="3.6" fill="#5b5f62"/><circle cx="440.5" cy="2370.4" r="3.6" fill="#2fa44f"/><circle cx="465.4" cy="2370.4" r="3.6" fill="#d2692e"/><circle cx="472.1" cy="2370.4" r="3.6" fill="#d2692e"/><circle cx="476.8" cy="2370.4" r="3.6" fill="#d2692e"/><circle cx="485.6" cy="2370.4" r="3.6" fill="#aeb3b5"/><circle cx="514.3" cy="2370.4" r="3.6" fill="#2fa44f"/><circle cx="525.2" cy="2370.4" r="3.6" fill="#9ccba4"/><circle cx="159.3" cy="2422.6" r="3.6" fill="#2e3192"/><circle cx="169.5" cy="2422.6" r="3.6" fill="#1f9c98"/><circle cx="180.4" cy="2422.6" r="3.6" fill="#2e3192"/><circle cx="191.8" cy="2422.6" r="3.6" fill="#d2692e"/><circle cx="194.3" cy="2422.6" r="3.6" fill="#d2692e"/><circle cx="200.2" cy="2422.6" r="3.6" fill="#2e3192"/><circle cx="203.6" cy="2422.6" r="3.6" fill="#2e3192"/><circle cx="214.6" cy="2422.6" r="3.6" fill="#2e3192"/><circle cx="234.4" cy="2422.6" r="3.6" fill="#d2692e"/><circle cx="254.2" cy="2422.6" r="3.6" fill="#2e3192"/><circle cx="257.1" cy="2422.6" r="3.6" fill="#2e3192"/><circle cx="260.1" cy="2422.6" r="3.6" fill="#2e3192"/><circle cx="273.6" cy="2422.6" r="3.6" fill="#d2692e"/><circle cx="281.2" cy="2422.6" r="3.6" fill="#d2692e"/><circle cx="283.7" cy="2422.6" r="3.6" fill="#2e3192"/><circle cx="286.7" cy="2422.6" r="3.6" fill="#9a5a18"/><circle cx="289.2" cy="2422.6" r="3.6" fill="#2e3192"/><circle cx="291.7" cy="2422.6" r="3.6" fill="#29abe2"/><circle cx="306.5" cy="2422.6" r="3.6" fill="#d2692e"/><circle cx="309.8" cy="2422.6" r="3.6" fill="#d2692e"/><circle cx="312.4" cy="2422.6" r="3.6" fill="#d2692e"/><circle cx="320.4" cy="2422.6" r="3.6" fill="#2e3192"/><circle cx="323.3" cy="2422.6" r="3.6" fill="#d2692e"/><circle cx="334.3" cy="2422.6" r="3.6" fill="#2e3192"/><circle cx="337.2" cy="2422.6" r="3.6" fill="#2e3192"/><circle cx="340.6" cy="2422.6" r="3.6" fill="#2e3192"/><circle cx="344" cy="2422.6" r="3.6" fill="#29abe2"/><circle cx="349" cy="2422.6" r="3.6" fill="#2e3192"/><circle cx="359.6" cy="2422.6" r="3.6" fill="#2fa44f"/><circle cx="362.1" cy="2422.6" r="3.6" fill="#d2692e"/><circle cx="365.1" cy="2422.6" r="3.6" fill="#d2692e"/><circle cx="373.5" cy="2422.6" r="3.6" fill="#d2692e"/><circle cx="376.4" cy="2422.6" r="3.6" fill="#d2692e"/><circle cx="379.4" cy="2422.6" r="3.6" fill="#d2692e"/><circle cx="389.5" cy="2422.6" r="3.6" fill="#2fa44f"/><circle cx="392.5" cy="2422.6" r="3.6" fill="#2fa44f"/><circle cx="396.3" cy="2422.6" r="3.6" fill="#2fa44f"/><circle cx="399.6" cy="2422.6" r="3.6" fill="#2e3192"/><circle cx="402.6" cy="2422.6" r="3.6" fill="#d01c2a"/><circle cx="409.7" cy="2422.6" r="3.6" fill="#2fa44f"/><circle cx="423.2" cy="2422.6" r="3.6" fill="#2e3192"/><circle cx="432.9" cy="2422.6" r="3.6" fill="#d2692e"/><circle cx="475.5" cy="2422.6" r="3.6" fill="#2e3192"/><circle cx="141.6" cy="2474.7" r="3.6" fill="#1f9c98"/><circle cx="151.8" cy="2474.7" r="3.6" fill="#2e3192"/><circle cx="176.6" cy="2474.7" r="3.6" fill="#2e3192"/><circle cx="179.6" cy="2474.7" r="3.6" fill="#2e3192"/><circle cx="182.1" cy="2474.7" r="3.6" fill="#2e3192"/><circle cx="198.1" cy="2474.7" r="3.6" fill="#d2692e"/><circle cx="205.7" cy="2474.7" r="3.6" fill="#2e3192"/><circle cx="208.7" cy="2474.7" r="3.6" fill="#2e3192"/><circle cx="212" cy="2474.7" r="3.6" fill="#d2692e"/><circle cx="223.8" cy="2474.7" r="3.6" fill="#d2692e"/><circle cx="231" cy="2474.7" r="3.6" fill="#2e3192"/><circle cx="246.6" cy="2474.7" r="3.6" fill="#2e3192"/><circle cx="270.2" cy="2474.7" r="3.6" fill="#9ccba4"/><circle cx="273.2" cy="2474.7" r="3.6" fill="#d2692e"/><circle cx="296.8" cy="2474.7" r="3.6" fill="#2e3192"/><circle cx="306.9" cy="2474.7" r="3.6" fill="#29abe2"/><circle cx="317" cy="2474.7" r="3.6" fill="#5b5f62"/><circle cx="342.3" cy="2474.7" r="3.6" fill="#2e3192"/><circle cx="355.4" cy="2474.7" r="3.6" fill="#2fa44f"/><circle cx="379" cy="2474.7" r="3.6" fill="#2fa44f"/><circle cx="397.9" cy="2474.7" r="3.6" fill="#ec3f94"/><circle cx="424.1" cy="2474.7" r="3.6" fill="#ec3f94"/><circle cx="148.8" cy="2526.8" r="3.6" fill="#2e3192"/><circle cx="162.3" cy="2526.8" r="3.6" fill="#2e3192"/><circle cx="165.7" cy="2526.8" r="3.6" fill="#aeb3b5"/><circle cx="214.1" cy="2526.8" r="3.6" fill="#1f9c98"/><circle cx="360.8" cy="2526.8" r="3.6" fill="#d01c2a"/></g>
<path d="M116 2435L680 2189" stroke="#000" stroke-width="2.3" fill="none"/>
<text x="91.8" y="2588.5" text-anchor="middle" font-size="28" fill="#4d4d4d">0</text>
<text x="91.8" y="2432.1" text-anchor="middle" font-size="28" fill="#4d4d4d">3</text>
<text x="91.8" y="2275.6" text-anchor="middle" font-size="28" fill="#4d4d4d">6</text>
<text x="91.8" y="2119.2" text-anchor="middle" font-size="28" fill="#4d4d4d">9</text>
<text x="91.8" y="1962.7" text-anchor="middle" font-size="28" fill="#4d4d4d">12</text>
<path d="M111.1 2579H116M111.1 2422.6H116M111.1 2266.1H116M111.1 2109.7H116M111.1 1953.2H116" stroke="#333" stroke-width="1.8" fill="none"/>
<text transform="translate(146.1,2603) rotate(-90)" text-anchor="end" font-size="28.4" fill="#4d4d4d">0</text>
<text transform="translate(272.4,2603) rotate(-90)" text-anchor="end" font-size="28.4" fill="#4d4d4d">1000</text>
<text transform="translate(398.7,2603) rotate(-90)" text-anchor="end" font-size="28.4" fill="#4d4d4d">2000</text>
<text transform="translate(525,2603) rotate(-90)" text-anchor="end" font-size="28.4" fill="#4d4d4d">3000</text>
<text transform="translate(651.3,2603) rotate(-90)" text-anchor="end" font-size="28.4" fill="#4d4d4d">4000</text>
<path d="M126.5 2594V2598.9M252.8 2594V2598.9M379.1 2594V2598.9M505.4 2594V2598.9M631.7 2594V2598.9" stroke="#333" stroke-width="1.8" fill="none"/>
<text transform="translate(50.8,2266) rotate(-90)" text-anchor="middle" font-size="32" font-weight="bold" fill="#000">Richness</text>
<text x="398.4" y="2703.5" text-anchor="middle" font-size="32" font-weight="bold" fill="#000">Euk. sp. richness</text>
<text x="33.9" y="1940" font-size="24.8" font-weight="bold" fill="#000">G</text>
<rect x="836" y="1938" width="564.4" height="656" fill="#e4e6e9"/>
<path d="M914.9 1938V2594M1096.6 1938V2594M1278.3 1938V2594M836 2500.8H1400.4M836 2344.3H1400.4M836 2187.9H1400.4M836 2031.4H1400.4" stroke="#fbfcfc" stroke-width="1.15" fill="none"/>
<path d="M1005.8 1938V2594M1187.5 1938V2594M1369.2 1938V2594M836 2579H1400.4M836 2422.6H1400.4M836 2266.1H1400.4M836 2109.7H1400.4M836 1953.2H1400.4" stroke="#ffffff" stroke-width="2" fill="none"/>
<g fill="#1e1e1e"><circle cx="997" cy="2005.3" r="4.7"/><circle cx="1005.8" cy="2109.7" r="4.7"/><circle cx="1020.6" cy="2109.7" r="4.7"/><circle cx="1026" cy="2109.7" r="4.7"/><circle cx="1293.3" cy="2109.7" r="4.7"/><circle cx="1374.7" cy="2109.7" r="4.7"/><circle cx="963.2" cy="2161.8" r="4.7"/><circle cx="988.5" cy="2161.8" r="4.7"/><circle cx="997" cy="2161.8" r="4.7"/><circle cx="1029.8" cy="2161.8" r="4.7"/><circle cx="1037.8" cy="2161.8" r="4.7"/><circle cx="1056.4" cy="2161.8" r="4.7"/><circle cx="1069" cy="2161.8" r="4.7"/><circle cx="1101.9" cy="2161.8" r="4.7"/><circle cx="1105.3" cy="2161.8" r="4.7"/><circle cx="1114.6" cy="2161.8" r="4.7"/><circle cx="1152.1" cy="2161.8" r="4.7"/><circle cx="1166.8" cy="2161.8" r="4.7"/><circle cx="1175.3" cy="2161.8" r="4.7"/><circle cx="1186.2" cy="2161.8" r="4.7"/><circle cx="1214.5" cy="2161.8" r="4.7"/><circle cx="1218.7" cy="2161.8" r="4.7"/><circle cx="924.4" cy="2213.9" r="4.7"/><circle cx="927.4" cy="2213.9" r="4.7"/><circle cx="930.4" cy="2213.9" r="4.7"/><circle cx="933.3" cy="2213.9" r="4.7"/><circle cx="957.3" cy="2213.9" r="4.7"/><circle cx="971.2" cy="2213.9" r="4.7"/><circle cx="974.2" cy="2213.9" r="4.7"/><circle cx="976.7" cy="2213.9" r="4.7"/><circle cx="1004.1" cy="2213.9" r="4.7"/><circle cx="1025.2" cy="2213.9" r="4.7"/><circle cx="1028.1" cy="2213.9" r="4.7"/><circle cx="1037" cy="2213.9" r="4.7"/><circle cx="1040.4" cy="2213.9" r="4.7"/><circle cx="1050.1" cy="2213.9" r="4.7"/><circle cx="1061.5" cy="2213.9" r="4.7"/><circle cx="1066.9" cy="2213.9" r="4.7"/><circle cx="1082.1" cy="2213.9" r="4.7"/><circle cx="1152.1" cy="2213.9" r="4.7"/><circle cx="1153.8" cy="2213.9" r="4.7"/><circle cx="1164.3" cy="2213.9" r="4.7"/><circle cx="1174" cy="2213.9" r="4.7"/><circle cx="1185.8" cy="2213.9" r="4.7"/><circle cx="1216.6" cy="2213.9" r="4.7"/><circle cx="1224.2" cy="2213.9" r="4.7"/><circle cx="1227.1" cy="2213.9" r="4.7"/><circle cx="1230.1" cy="2213.9" r="4.7"/><circle cx="1309.7" cy="2213.9" r="4.7"/><circle cx="899.6" cy="2266.1" r="4.7"/><circle cx="916.4" cy="2266.1" r="4.7"/><circle cx="929.5" cy="2266.1" r="4.7"/><circle cx="938.8" cy="2266.1" r="4.7"/><circle cx="941.7" cy="2266.1" r="4.7"/><circle cx="944.3" cy="2266.1" r="4.7"/><circle cx="949.3" cy="2266.1" r="4.7"/><circle cx="964.1" cy="2266.1" r="4.7"/><circle cx="973.3" cy="2266.1" r="4.7"/><circle cx="975.9" cy="2266.1" r="4.7"/><circle cx="984.7" cy="2266.1" r="4.7"/><circle cx="995.7" cy="2266.1" r="4.7"/><circle cx="1001.2" cy="2266.1" r="4.7"/><circle cx="1015.1" cy="2266.1" r="4.7"/><circle cx="1021.4" cy="2266.1" r="4.7"/><circle cx="1024.4" cy="2266.1" r="4.7"/><circle cx="1029.8" cy="2266.1" r="4.7"/><circle cx="1034.1" cy="2266.1" r="4.7"/><circle cx="1038.7" cy="2266.1" r="4.7"/><circle cx="1042.5" cy="2266.1" r="4.7"/><circle cx="1048" cy="2266.1" r="4.7"/><circle cx="1074.1" cy="2266.1" r="4.7"/><circle cx="1087.6" cy="2266.1" r="4.7"/><circle cx="1118.4" cy="2266.1" r="4.7"/><circle cx="1152.1" cy="2266.1" r="4.7"/><circle cx="1179.1" cy="2266.1" r="4.7"/><circle cx="1184.1" cy="2266.1" r="4.7"/><circle cx="1206.9" cy="2266.1" r="4.7"/><circle cx="1209" cy="2266.1" r="4.7"/><circle cx="1218.3" cy="2266.1" r="4.7"/><circle cx="1231.8" cy="2266.1" r="4.7"/><circle cx="1273.5" cy="2266.1" r="4.7"/><circle cx="1288.2" cy="2266.1" r="4.7"/><circle cx="892.8" cy="2318.2" r="4.7"/><circle cx="896.2" cy="2318.2" r="4.7"/><circle cx="921.5" cy="2318.2" r="4.7"/><circle cx="927.8" cy="2318.2" r="4.7"/><circle cx="930.8" cy="2318.2" r="4.7"/><circle cx="933.7" cy="2318.2" r="4.7"/><circle cx="936.7" cy="2318.2" r="4.7"/><circle cx="954.4" cy="2318.2" r="4.7"/><circle cx="965.8" cy="2318.2" r="4.7"/><circle cx="972.9" cy="2318.2" r="4.7"/><circle cx="986.8" cy="2318.2" r="4.7"/><circle cx="989.8" cy="2318.2" r="4.7"/><circle cx="993.2" cy="2318.2" r="4.7"/><circle cx="996.5" cy="2318.2" r="4.7"/><circle cx="999.9" cy="2318.2" r="4.7"/><circle cx="1003.3" cy="2318.2" r="4.7"/><circle cx="1006.7" cy="2318.2" r="4.7"/><circle cx="1019.3" cy="2318.2" r="4.7"/><circle cx="1027.3" cy="2318.2" r="4.7"/><circle cx="1043.7" cy="2318.2" r="4.7"/><circle cx="1062.3" cy="2318.2" r="4.7"/><circle cx="1075.4" cy="2318.2" r="4.7"/><circle cx="1079.6" cy="2318.2" r="4.7"/><circle cx="1089.7" cy="2318.2" r="4.7"/><circle cx="1103.2" cy="2318.2" r="4.7"/><circle cx="1112.9" cy="2318.2" r="4.7"/><circle cx="1118.4" cy="2318.2" r="4.7"/><circle cx="1121.3" cy="2318.2" r="4.7"/><circle cx="1124.7" cy="2318.2" r="4.7"/><circle cx="1141.5" cy="2318.2" r="4.7"/><circle cx="1144.5" cy="2318.2" r="4.7"/><circle cx="1147" cy="2318.2" r="4.7"/><circle cx="1150" cy="2318.2" r="4.7"/><circle cx="1152.9" cy="2318.2" r="4.7"/><circle cx="1193.4" cy="2318.2" r="4.7"/><circle cx="1198.9" cy="2318.2" r="4.7"/><circle cx="1218.3" cy="2318.2" r="4.7"/><circle cx="1241" cy="2318.2" r="4.7"/><circle cx="1264.2" cy="2318.2" r="4.7"/><circle cx="1276" cy="2318.2" r="4.7"/><circle cx="927.4" cy="2370.4" r="4.7"/><circle cx="929.5" cy="2370.4" r="4.7"/><circle cx="958.6" cy="2370.4" r="4.7"/><circle cx="961.5" cy="2370.4" r="4.7"/><circle cx="964.5" cy="2370.4" r="4.7"/><circle cx="967.4" cy="2370.4" r="4.7"/><circle cx="978" cy="2370.4" r="4.7"/><circle cx="980.5" cy="2370.4" r="4.7"/><circle cx="983" cy="2370.4" r="4.7"/><circle cx="1004.5" cy="2370.4" r="4.7"/><circle cx="1007.5" cy="2370.4" r="4.7"/><circle cx="1016.3" cy="2370.4" r="4.7"/><circle cx="1019.3" cy="2370.4" r="4.7"/><circle cx="1034.1" cy="2370.4" r="4.7"/><circle cx="1037" cy="2370.4" r="4.7"/><circle cx="1040.4" cy="2370.4" r="4.7"/><circle cx="1043.7" cy="2370.4" r="4.7"/><circle cx="1046.7" cy="2370.4" r="4.7"/><circle cx="1049.6" cy="2370.4" r="4.7"/><circle cx="1058.5" cy="2370.4" r="4.7"/><circle cx="1061.5" cy="2370.4" r="4.7"/><circle cx="1063.6" cy="2370.4" r="4.7"/><circle cx="1093.5" cy="2370.4" r="4.7"/><circle cx="1097.7" cy="2370.4" r="4.7"/><circle cx="1100.2" cy="2370.4" r="4.7"/><circle cx="1105.3" cy="2370.4" r="4.7"/><circle cx="1109.5" cy="2370.4" r="4.7"/><circle cx="1114.6" cy="2370.4" r="4.7"/><circle cx="1117.9" cy="2370.4" r="4.7"/><circle cx="1120.9" cy="2370.4" r="4.7"/><circle cx="1124.3" cy="2370.4" r="4.7"/><circle cx="1139.9" cy="2370.4" r="4.7"/><circle cx="1142.8" cy="2370.4" r="4.7"/><circle cx="1150.8" cy="2370.4" r="4.7"/><circle cx="1158.4" cy="2370.4" r="4.7"/><circle cx="1164.3" cy="2370.4" r="4.7"/><circle cx="1173.2" cy="2370.4" r="4.7"/><circle cx="1176.1" cy="2370.4" r="4.7"/><circle cx="1179.5" cy="2370.4" r="4.7"/><circle cx="1182" cy="2370.4" r="4.7"/><circle cx="1216.6" cy="2370.4" r="4.7"/><circle cx="1224.2" cy="2370.4" r="4.7"/><circle cx="1227.1" cy="2370.4" r="4.7"/><circle cx="1233.4" cy="2370.4" r="4.7"/><circle cx="1259.6" cy="2370.4" r="4.7"/><circle cx="881.5" cy="2422.6" r="4.7"/><circle cx="897" cy="2422.6" r="4.7"/><circle cx="911.8" cy="2422.6" r="4.7"/><circle cx="935" cy="2422.6" r="4.7"/><circle cx="944.3" cy="2422.6" r="4.7"/><circle cx="947.6" cy="2422.6" r="4.7"/><circle cx="954.4" cy="2422.6" r="4.7"/><circle cx="957.3" cy="2422.6" r="4.7"/><circle cx="960.3" cy="2422.6" r="4.7"/><circle cx="963.7" cy="2422.6" r="4.7"/><circle cx="975.5" cy="2422.6" r="4.7"/><circle cx="978.4" cy="2422.6" r="4.7"/><circle cx="980.9" cy="2422.6" r="4.7"/><circle cx="986.4" cy="2422.6" r="4.7"/><circle cx="993.6" cy="2422.6" r="4.7"/><circle cx="999.9" cy="2422.6" r="4.7"/><circle cx="1003.3" cy="2422.6" r="4.7"/><circle cx="1007.1" cy="2422.6" r="4.7"/><circle cx="1013.8" cy="2422.6" r="4.7"/><circle cx="1028.1" cy="2422.6" r="4.7"/><circle cx="1031.5" cy="2422.6" r="4.7"/><circle cx="1034.5" cy="2422.6" r="4.7"/><circle cx="1037.8" cy="2422.6" r="4.7"/><circle cx="1058.1" cy="2422.6" r="4.7"/><circle cx="1065.7" cy="2422.6" r="4.7"/><circle cx="1079.2" cy="2422.6" r="4.7"/><circle cx="1082.1" cy="2422.6" r="4.7"/><circle cx="1085.1" cy="2422.6" r="4.7"/><circle cx="1093.5" cy="2422.6" r="4.7"/><circle cx="1102.3" cy="2422.6" r="4.7"/><circle cx="1105.3" cy="2422.6" r="4.7"/><circle cx="1108.2" cy="2422.6" r="4.7"/><circle cx="1123.4" cy="2422.6" r="4.7"/><circle cx="1125.9" cy="2422.6" r="4.7"/><circle cx="1128.5" cy="2422.6" r="4.7"/><circle cx="1143.2" cy="2422.6" r="4.7"/><circle cx="1150.4" cy="2422.6" r="4.7"/><circle cx="1171.1" cy="2422.6" r="4.7"/><circle cx="1174.4" cy="2422.6" r="4.7"/><circle cx="1185.8" cy="2422.6" r="4.7"/><circle cx="1188.8" cy="2422.6" r="4.7"/><circle cx="1192.1" cy="2422.6" r="4.7"/><circle cx="1195.1" cy="2422.6" r="4.7"/><circle cx="1196.8" cy="2422.6" r="4.7"/><circle cx="862.1" cy="2474.7" r="4.7"/><circle cx="885.7" cy="2474.7" r="4.7"/><circle cx="903.8" cy="2474.7" r="4.7"/><circle cx="912.6" cy="2474.7" r="4.7"/><circle cx="926.6" cy="2474.7" r="4.7"/><circle cx="957.8" cy="2474.7" r="4.7"/><circle cx="980.5" cy="2474.7" r="4.7"/><circle cx="1009.6" cy="2474.7" r="4.7"/><circle cx="1013" cy="2474.7" r="4.7"/><circle cx="1036.2" cy="2474.7" r="4.7"/><circle cx="1042.1" cy="2474.7" r="4.7"/><circle cx="1044.6" cy="2474.7" r="4.7"/><circle cx="1052.6" cy="2474.7" r="4.7"/><circle cx="1055.1" cy="2474.7" r="4.7"/><circle cx="1058.1" cy="2474.7" r="4.7"/><circle cx="1082.5" cy="2474.7" r="4.7"/><circle cx="1085.9" cy="2474.7" r="4.7"/><circle cx="1089.3" cy="2474.7" r="4.7"/><circle cx="1093.5" cy="2474.7" r="4.7"/><circle cx="1106.6" cy="2474.7" r="4.7"/><circle cx="1132.3" cy="2474.7" r="4.7"/><circle cx="888.2" cy="2526.8" r="4.7"/><circle cx="902.1" cy="2526.8" r="4.7"/><circle cx="919.8" cy="2526.8" r="4.7"/><circle cx="986.8" cy="2526.8" r="4.7"/><circle cx="1026.5" cy="2526.8" r="4.7"/></g>
<g><circle cx="997" cy="2005.3" r="3.6" fill="#2e3192"/><circle cx="1005.8" cy="2109.7" r="3.6" fill="#2e3192"/><circle cx="1020.6" cy="2109.7" r="3.6" fill="#2e3192"/><circle cx="1026" cy="2109.7" r="3.6" fill="#2e3192"/><circle cx="1293.3" cy="2109.7" r="3.6" fill="#d2692e"/><circle cx="1374.7" cy="2109.7" r="3.6" fill="#5b5f62"/><circle cx="963.2" cy="2161.8" r="3.6" fill="#2e3192"/><circle cx="988.5" cy="2161.8" r="3.6" fill="#2e3192"/><circle cx="997" cy="2161.8" r="3.6" fill="#2e3192"/><circle cx="1029.8" cy="2161.8" r="3.6" fill="#2e3192"/><circle cx="1037.8" cy="2161.8" r="3.6" fill="#d2692e"/><circle cx="1056.4" cy="2161.8" r="3.6" fill="#2e3192"/><circle cx="1069" cy="2161.8" r="3.6" fill="#2e3192"/><circle cx="1101.9" cy="2161.8" r="3.6" fill="#d2692e"/><circle cx="1105.3" cy="2161.8" r="3.6" fill="#2e3192"/><circle cx="1114.6" cy="2161.8" r="3.6" fill="#2e3192"/><circle cx="1152.1" cy="2161.8" r="3.6" fill="#2e3192"/><circle cx="1166.8" cy="2161.8" r="3.6" fill="#2fa44f"/><circle cx="1175.3" cy="2161.8" r="3.6" fill="#5b5f62"/><circle cx="1186.2" cy="2161.8" r="3.6" fill="#2fa44f"/><circle cx="1214.5" cy="2161.8" r="3.6" fill="#2fa44f"/><circle cx="1218.7" cy="2161.8" r="3.6" fill="#2fa44f"/><circle cx="924.4" cy="2213.9" r="3.6" fill="#2e3192"/><circle cx="927.4" cy="2213.9" r="3.6" fill="#2e3192"/><circle cx="930.4" cy="2213.9" r="3.6" fill="#2e3192"/><circle cx="933.3" cy="2213.9" r="3.6" fill="#2e3192"/><circle cx="957.3" cy="2213.9" r="3.6" fill="#2e3192"/><circle cx="971.2" cy="2213.9" r="3.6" fill="#2e3192"/><circle cx="974.2" cy="2213.9" r="3.6" fill="#2e3192"/><circle cx="976.7" cy="2213.9" r="3.6" fill="#2e3192"/><circle cx="1004.1" cy="2213.9" r="3.6" fill="#2e3192"/><circle cx="1025.2" cy="2213.9" r="3.6" fill="#2e3192"/><circle cx="1028.1" cy="2213.9" r="3.6" fill="#2e3192"/><circle cx="1037" cy="2213.9" r="3.6" fill="#2e3192"/><circle cx="1040.4" cy="2213.9" r="3.6" fill="#2e3192"/><circle cx="1050.1" cy="2213.9" r="3.6" fill="#2e3192"/><circle cx="1061.5" cy="2213.9" r="3.6" fill="#2e3192"/><circle cx="1066.9" cy="2213.9" r="3.6" fill="#d2692e"/><circle cx="1082.1" cy="2213.9" r="3.6" fill="#d2692e"/><circle cx="1152.1" cy="2213.9" r="3.6" fill="#2e3192"/><circle cx="1153.8" cy="2213.9" r="3.6" fill="#2e3192"/><circle cx="1164.3" cy="2213.9" r="3.6" fill="#d2692e"/><circle cx="1174" cy="2213.9" r="3.6" fill="#2e3192"/><circle cx="1185.8" cy="2213.9" r="3.6" fill="#2e3192"/><circle cx="1216.6" cy="2213.9" r="3.6" fill="#1f9c98"/><circle cx="1224.2" cy="2213.9" r="3.6" fill="#2fa44f"/><circle cx="1227.1" cy="2213.9" r="3.6" fill="#1f9c98"/><circle cx="1230.1" cy="2213.9" r="3.6" fill="#1f9c98"/><circle cx="1309.7" cy="2213.9" r="3.6" fill="#5b5f62"/><circle cx="899.6" cy="2266.1" r="3.6" fill="#2e3192"/><circle cx="916.4" cy="2266.1" r="3.6" fill="#2e3192"/><circle cx="929.5" cy="2266.1" r="3.6" fill="#d2692e"/><circle cx="938.8" cy="2266.1" r="3.6" fill="#2e3192"/><circle cx="941.7" cy="2266.1" r="3.6" fill="#2e3192"/><circle cx="944.3" cy="2266.1" r="3.6" fill="#2e3192"/><circle cx="949.3" cy="2266.1" r="3.6" fill="#d2692e"/><circle cx="964.1" cy="2266.1" r="3.6" fill="#d2692e"/><circle cx="973.3" cy="2266.1" r="3.6" fill="#2e3192"/><circle cx="975.9" cy="2266.1" r="3.6" fill="#2e3192"/><circle cx="984.7" cy="2266.1" r="3.6" fill="#2e3192"/><circle cx="995.7" cy="2266.1" r="3.6" fill="#d2692e"/><circle cx="1001.2" cy="2266.1" r="3.6" fill="#2e3192"/><circle cx="1015.1" cy="2266.1" r="3.6" fill="#2e3192"/><circle cx="1021.4" cy="2266.1" r="3.6" fill="#2e3192"/><circle cx="1024.4" cy="2266.1" r="3.6" fill="#2e3192"/><circle cx="1029.8" cy="2266.1" r="3.6" fill="#2e3192"/><circle cx="1034.1" cy="2266.1" r="3.6" fill="#2e3192"/><circle cx="1038.7" cy="2266.1" r="3.6" fill="#d2692e"/><circle cx="1042.5" cy="2266.1" r="3.6" fill="#2e3192"/><circle cx="1048" cy="2266.1" r="3.6" fill="#2e3192"/><circle cx="1074.1" cy="2266.1" r="3.6" fill="#d2692e"/><circle cx="1087.6" cy="2266.1" r="3.6" fill="#d2692e"/><circle cx="1118.4" cy="2266.1" r="3.6" fill="#aeb3b5"/><circle cx="1152.1" cy="2266.1" r="3.6" fill="#2fa44f"/><circle cx="1179.1" cy="2266.1" r="3.6" fill="#2e3192"/><circle cx="1184.1" cy="2266.1" r="3.6" fill="#fbc02d"/><circle cx="1206.9" cy="2266.1" r="3.6" fill="#2fa44f"/><circle cx="1209" cy="2266.1" r="3.6" fill="#2fa44f"/><circle cx="1218.3" cy="2266.1" r="3.6" fill="#d2692e"/><circle cx="1231.8" cy="2266.1" r="3.6" fill="#2fa44f"/><circle cx="1273.5" cy="2266.1" r="3.6" fill="#d2692e"/><circle cx="1288.2" cy="2266.1" r="3.6" fill="#2e3192"/><circle cx="892.8" cy="2318.2" r="3.6" fill="#2e3192"/><circle cx="896.2" cy="2318.2" r="3.6" fill="#1f9c98"/><circle cx="921.5" cy="2318.2" r="3.6" fill="#d2692e"/><circle cx="927.8" cy="2318.2" r="3.6" fill="#1f9c98"/><circle cx="930.8" cy="2318.2" r="3.6" fill="#2e3192"/><circle cx="933.7" cy="2318.2" r="3.6" fill="#2e3192"/><circle cx="936.7" cy="2318.2" r="3.6" fill="#d2692e"/><circle cx="954.4" cy="2318.2" r="3.6" fill="#2e3192"/><circle cx="965.8" cy="2318.2" r="3.6" fill="#2e3192"/><circle cx="972.9" cy="2318.2" r="3.6" fill="#2e3192"/><circle cx="986.8" cy="2318.2" r="3.6" fill="#2e3192"/><circle cx="989.8" cy="2318.2" r="3.6" fill="#2e3192"/><circle cx="993.2" cy="2318.2" r="3.6" fill="#2e3192"/><circle cx="996.5" cy="2318.2" r="3.6" fill="#2e3192"/><circle cx="999.9" cy="2318.2" r="3.6" fill="#2e3192"/><circle cx="1003.3" cy="2318.2" r="3.6" fill="#2e3192"/><circle cx="1006.7" cy="2318.2" r="3.6" fill="#2e3192"/><circle cx="1019.3" cy="2318.2" r="3.6" fill="#2e3192"/><circle cx="1027.3" cy="2318.2" r="3.6" fill="#2fa44f"/><circle cx="1043.7" cy="2318.2" r="3.6" fill="#5b5f62"/><circle cx="1062.3" cy="2318.2" r="3.6" fill="#2e3192"/><circle cx="1075.4" cy="2318.2" r="3.6" fill="#d01c2a"/><circle cx="1079.6" cy="2318.2" r="3.6" fill="#2e3192"/><circle cx="1089.7" cy="2318.2" r="3.6" fill="#9a5a18"/><circle cx="1103.2" cy="2318.2" r="3.6" fill="#2e3192"/><circle cx="1112.9" cy="2318.2" r="3.6" fill="#d2692e"/><circle cx="1118.4" cy="2318.2" r="3.6" fill="#2fa44f"/><circle cx="1121.3" cy="2318.2" r="3.6" fill="#2e3192"/><circle cx="1124.7" cy="2318.2" r="3.6" fill="#2fa44f"/><circle cx="1141.5" cy="2318.2" r="3.6" fill="#2fa44f"/><circle cx="1144.5" cy="2318.2" r="3.6" fill="#2fa44f"/><circle cx="1147" cy="2318.2" r="3.6" fill="#1f9c98"/><circle cx="1150" cy="2318.2" r="3.6" fill="#1f9c98"/><circle cx="1152.9" cy="2318.2" r="3.6" fill="#29abe2"/><circle cx="1193.4" cy="2318.2" r="3.6" fill="#d2692e"/><circle cx="1198.9" cy="2318.2" r="3.6" fill="#d01c2a"/><circle cx="1218.3" cy="2318.2" r="3.6" fill="#2fa44f"/><circle cx="1241" cy="2318.2" r="3.6" fill="#2e3192"/><circle cx="1264.2" cy="2318.2" r="3.6" fill="#2e3192"/><circle cx="1276" cy="2318.2" r="3.6" fill="#d2692e"/><circle cx="927.4" cy="2370.4" r="3.6" fill="#2e3192"/><circle cx="929.5" cy="2370.4" r="3.6" fill="#2e3192"/><circle cx="958.6" cy="2370.4" r="3.6" fill="#2e3192"/><circle cx="961.5" cy="2370.4" r="3.6" fill="#2e3192"/><circle cx="964.5" cy="2370.4" r="3.6" fill="#2e3192"/><circle cx="967.4" cy="2370.4" r="3.6" fill="#5b5f62"/><circle cx="978" cy="2370.4" r="3.6" fill="#2e3192"/><circle cx="980.5" cy="2370.4" r="3.6" fill="#2e3192"/><circle cx="983" cy="2370.4" r="3.6" fill="#2e3192"/><circle cx="1004.5" cy="2370.4" r="3.6" fill="#2fa44f"/><circle cx="1007.5" cy="2370.4" r="3.6" fill="#2e3192"/><circle cx="1016.3" cy="2370.4" r="3.6" fill="#29abe2"/><circle cx="1019.3" cy="2370.4" r="3.6" fill="#29abe2"/><circle cx="1034.1" cy="2370.4" r="3.6" fill="#2e3192"/><circle cx="1037" cy="2370.4" r="3.6" fill="#d2692e"/><circle cx="1040.4" cy="2370.4" r="3.6" fill="#2e3192"/><circle cx="1043.7" cy="2370.4" r="3.6" fill="#2e3192"/><circle cx="1046.7" cy="2370.4" r="3.6" fill="#d2692e"/><circle cx="1049.6" cy="2370.4" r="3.6" fill="#2e3192"/><circle cx="1058.5" cy="2370.4" r="3.6" fill="#d2692e"/><circle cx="1061.5" cy="2370.4" r="3.6" fill="#2fa44f"/><circle cx="1063.6" cy="2370.4" r="3.6" fill="#2fa44f"/><circle cx="1093.5" cy="2370.4" r="3.6" fill="#2e3192"/><circle cx="1097.7" cy="2370.4" r="3.6" fill="#2e3192"/><circle cx="1100.2" cy="2370.4" r="3.6" fill="#d2692e"/><circle cx="1105.3" cy="2370.4" r="3.6" fill="#2e3192"/><circle cx="1109.5" cy="2370.4" r="3.6" fill="#2fa44f"/><circle cx="1114.6" cy="2370.4" r="3.6" fill="#2e3192"/><circle cx="1117.9" cy="2370.4" r="3.6" fill="#d2692e"/><circle cx="1120.9" cy="2370.4" r="3.6" fill="#2e3192"/><circle cx="1124.3" cy="2370.4" r="3.6" fill="#2e3192"/><circle cx="1139.9" cy="2370.4" r="3.6" fill="#d2692e"/><circle cx="1142.8" cy="2370.4" r="3.6" fill="#d2692e"/><circle cx="1150.8" cy="2370.4" r="3.6" fill="#2fa44f"/><circle cx="1158.4" cy="2370.4" r="3.6" fill="#2fa44f"/><circle cx="1164.3" cy="2370.4" r="3.6" fill="#aeb3b5"/><circle cx="1173.2" cy="2370.4" r="3.6" fill="#9ccba4"/><circle cx="1176.1" cy="2370.4" r="3.6" fill="#aeb3b5"/><circle cx="1179.5" cy="2370.4" r="3.6" fill="#2fa44f"/><circle cx="1182" cy="2370.4" r="3.6" fill="#2fa44f"/><circle cx="1216.6" cy="2370.4" r="3.6" fill="#d2692e"/><circle cx="1224.2" cy="2370.4" r="3.6" fill="#d2692e"/><circle cx="1227.1" cy="2370.4" r="3.6" fill="#d2692e"/><circle cx="1233.4" cy="2370.4" r="3.6" fill="#2e3192"/><circle cx="1259.6" cy="2370.4" r="3.6" fill="#d2692e"/><circle cx="881.5" cy="2422.6" r="3.6" fill="#1f9c98"/><circle cx="897" cy="2422.6" r="3.6" fill="#2e3192"/><circle cx="911.8" cy="2422.6" r="3.6" fill="#d2692e"/><circle cx="935" cy="2422.6" r="3.6" fill="#2e3192"/><circle cx="944.3" cy="2422.6" r="3.6" fill="#2e3192"/><circle cx="947.6" cy="2422.6" r="3.6" fill="#2e3192"/><circle cx="954.4" cy="2422.6" r="3.6" fill="#2e3192"/><circle cx="957.3" cy="2422.6" r="3.6" fill="#2e3192"/><circle cx="960.3" cy="2422.6" r="3.6" fill="#2e3192"/><circle cx="963.7" cy="2422.6" r="3.6" fill="#2e3192"/><circle cx="975.5" cy="2422.6" r="3.6" fill="#d2692e"/><circle cx="978.4" cy="2422.6" r="3.6" fill="#2e3192"/><circle cx="980.9" cy="2422.6" r="3.6" fill="#1f9c98"/><circle cx="986.4" cy="2422.6" r="3.6" fill="#2fa44f"/><circle cx="993.6" cy="2422.6" r="3.6" fill="#2e3192"/><circle cx="999.9" cy="2422.6" r="3.6" fill="#d2692e"/><circle cx="1003.3" cy="2422.6" r="3.6" fill="#2e3192"/><circle cx="1007.1" cy="2422.6" r="3.6" fill="#d2692e"/><circle cx="1013.8" cy="2422.6" r="3.6" fill="#2e3192"/><circle cx="1028.1" cy="2422.6" r="3.6" fill="#2e3192"/><circle cx="1031.5" cy="2422.6" r="3.6" fill="#2e3192"/><circle cx="1034.5" cy="2422.6" r="3.6" fill="#d2692e"/><circle cx="1037.8" cy="2422.6" r="3.6" fill="#d2692e"/><circle cx="1058.1" cy="2422.6" r="3.6" fill="#d2692e"/><circle cx="1065.7" cy="2422.6" r="3.6" fill="#29abe2"/><circle cx="1079.2" cy="2422.6" r="3.6" fill="#2e3192"/><circle cx="1082.1" cy="2422.6" r="3.6" fill="#29abe2"/><circle cx="1085.1" cy="2422.6" r="3.6" fill="#d2692e"/><circle cx="1093.5" cy="2422.6" r="3.6" fill="#2e3192"/><circle cx="1102.3" cy="2422.6" r="3.6" fill="#2e3192"/><circle cx="1105.3" cy="2422.6" r="3.6" fill="#2e3192"/><circle cx="1108.2" cy="2422.6" r="3.6" fill="#2fa44f"/><circle cx="1123.4" cy="2422.6" r="3.6" fill="#2e3192"/><circle cx="1125.9" cy="2422.6" r="3.6" fill="#d2692e"/><circle cx="1128.5" cy="2422.6" r="3.6" fill="#2fa44f"/><circle cx="1143.2" cy="2422.6" r="3.6" fill="#ec3f94"/><circle cx="1150.4" cy="2422.6" r="3.6" fill="#d2692e"/><circle cx="1171.1" cy="2422.6" r="3.6" fill="#d2692e"/><circle cx="1174.4" cy="2422.6" r="3.6" fill="#d01c2a"/><circle cx="1185.8" cy="2422.6" r="3.6" fill="#2fa44f"/><circle cx="1188.8" cy="2422.6" r="3.6" fill="#aeb3b5"/><circle cx="1192.1" cy="2422.6" r="3.6" fill="#9ccba4"/><circle cx="1195.1" cy="2422.6" r="3.6" fill="#2fa44f"/><circle cx="1196.8" cy="2422.6" r="3.6" fill="#d2692e"/><circle cx="862.1" cy="2474.7" r="3.6" fill="#1f9c98"/><circle cx="885.7" cy="2474.7" r="3.6" fill="#2e3192"/><circle cx="903.8" cy="2474.7" r="3.6" fill="#2e3192"/><circle cx="912.6" cy="2474.7" r="3.6" fill="#2e3192"/><circle cx="926.6" cy="2474.7" r="3.6" fill="#d2692e"/><circle cx="957.8" cy="2474.7" r="3.6" fill="#d2692e"/><circle cx="980.5" cy="2474.7" r="3.6" fill="#2e3192"/><circle cx="1009.6" cy="2474.7" r="3.6" fill="#5b5f62"/><circle cx="1013" cy="2474.7" r="3.6" fill="#2fa44f"/><circle cx="1036.2" cy="2474.7" r="3.6" fill="#2e3192"/><circle cx="1042.1" cy="2474.7" r="3.6" fill="#2e3192"/><circle cx="1044.6" cy="2474.7" r="3.6" fill="#2fa44f"/><circle cx="1052.6" cy="2474.7" r="3.6" fill="#2e3192"/><circle cx="1055.1" cy="2474.7" r="3.6" fill="#29abe2"/><circle cx="1058.1" cy="2474.7" r="3.6" fill="#2e3192"/><circle cx="1082.5" cy="2474.7" r="3.6" fill="#29abe2"/><circle cx="1085.9" cy="2474.7" r="3.6" fill="#1f9c98"/><circle cx="1089.3" cy="2474.7" r="3.6" fill="#9ccba4"/><circle cx="1093.5" cy="2474.7" r="3.6" fill="#ec3f94"/><circle cx="1106.6" cy="2474.7" r="3.6" fill="#d2692e"/><circle cx="1132.3" cy="2474.7" r="3.6" fill="#d2692e"/><circle cx="888.2" cy="2526.8" r="3.6" fill="#2e3192"/><circle cx="902.1" cy="2526.8" r="3.6" fill="#2e3192"/><circle cx="919.8" cy="2526.8" r="3.6" fill="#1f9c98"/><circle cx="986.8" cy="2526.8" r="3.6" fill="#1f9c98"/><circle cx="1026.5" cy="2526.8" r="3.6" fill="#d01c2a"/></g>
<path d="M836 2371.6L1400.4 2270" stroke="#000" stroke-width="2.3" fill="none"/>
<text x="811.8" y="2588.5" text-anchor="middle" font-size="28" fill="#4d4d4d">0</text>
<text x="811.8" y="2432.1" text-anchor="middle" font-size="28" fill="#4d4d4d">3</text>
<text x="811.8" y="2275.6" text-anchor="middle" font-size="28" fill="#4d4d4d">6</text>
<text x="811.8" y="2119.2" text-anchor="middle" font-size="28" fill="#4d4d4d">9</text>
<text x="811.8" y="1962.7" text-anchor="middle" font-size="28" fill="#4d4d4d">12</text>
<path d="M831.1 2579H836M831.1 2422.6H836M831.1 2266.1H836M831.1 2109.7H836M831.1 1953.2H836" stroke="#333" stroke-width="1.8" fill="none"/>
<text transform="translate(1025.4,2603) rotate(-90)" text-anchor="end" font-size="28.4" fill="#4d4d4d">100</text>
<text transform="translate(1207.1,2603) rotate(-90)" text-anchor="end" font-size="28.4" fill="#4d4d4d">200</text>
<text transform="translate(1388.8,2603) rotate(-90)" text-anchor="end" font-size="28.4" fill="#4d4d4d">300</text>
<path d="M1005.8 2594V2598.9M1187.5 2594V2598.9M1369.2 2594V2598.9" stroke="#333" stroke-width="1.8" fill="none"/>
<text transform="translate(770.7,2266) rotate(-90)" text-anchor="middle" font-size="32" font-weight="bold" fill="#000">Richness</text>
<text x="1118.4" y="2703.5" text-anchor="middle" font-size="32" font-weight="bold" fill="#000">Euk. sp. true diversity</text>
<text x="760.1" y="1940" font-size="24.8" font-weight="bold" fill="#000">H</text>
<rect x="1569.8" y="1950.9" width="53.4" height="52.7" fill="#cc1c24"/>
<text x="1638.2" y="1994" font-size="48" fill="#000" stroke="#000" stroke-width="0.5">Barren land</text>
<rect x="1569.8" y="2011.7" width="53.4" height="52.7" fill="#fbbd2a"/>
<text x="1638.2" y="2054.5" font-size="48" fill="#000" stroke="#000" stroke-width="0.5">Semi-desert soil</text>
<rect x="1569.8" y="2072.3" width="53.4" height="52.3" fill="#c86424"/>
<text x="1638.2" y="2114.5" font-size="48" fill="#000" stroke="#000" stroke-width="0.5">Farmland</text>
<rect x="1569.8" y="2132.5" width="53.4" height="52.4" fill="#2fa046"/>
<text x="1638.2" y="2172.8" font-size="48" fill="#000" stroke="#000" stroke-width="0.5">Forest</text>
<rect x="1569.8" y="2191" width="53.4" height="52" fill="#8fc199"/>
<text x="1638.2" y="2232.3" font-size="48" fill="#000" stroke="#000" stroke-width="0.5">Grassland</text>
<rect x="1569.8" y="2251.8" width="53.4" height="52.6" fill="#38a8dc"/>
<text x="1638.2" y="2293.2" font-size="48" fill="#000" stroke="#000" stroke-width="0.5">Mangrove</text>
<rect x="1569.8" y="2313.2" width="53.4" height="48.5" fill="#a8aaad"/>
<text x="1638.2" y="2353" font-size="48" fill="#000" stroke="#000" stroke-width="0.5">Alpine meadow</text>
<rect x="1569.8" y="2373.6" width="53.4" height="51.6" fill="#5c5e60"/>
<text x="1638.2" y="2413.3" font-size="48" fill="#000" stroke="#000" stroke-width="0.5">Mountain</text>
<rect x="1569.8" y="2431.6" width="53.4" height="51.6" fill="#8c4f10"/>
<text x="1638.2" y="2473.8" font-size="48" fill="#000" stroke="#000" stroke-width="0.5">Reserve soil</text>
<rect x="1569.8" y="2491.3" width="53.4" height="52.7" fill="#ea3f91"/>
<text x="1638.2" y="2532.6" font-size="48" fill="#000" stroke="#000" stroke-width="0.5">Riverbank</text>
<rect x="1569.8" y="2551.4" width="53.4" height="51.6" fill="#37369a"/>
<text x="1638.2" y="2591.8" font-size="48" fill="#000" stroke="#000" stroke-width="0.5">Sediment</text>
<rect x="1569.8" y="2608.6" width="53.4" height="53.4" fill="#219a94"/>
<text x="1638.2" y="2652.2" font-size="48" fill="#000" stroke="#000" stroke-width="0.5">Wetland</text>
</svg>
</body></html>
